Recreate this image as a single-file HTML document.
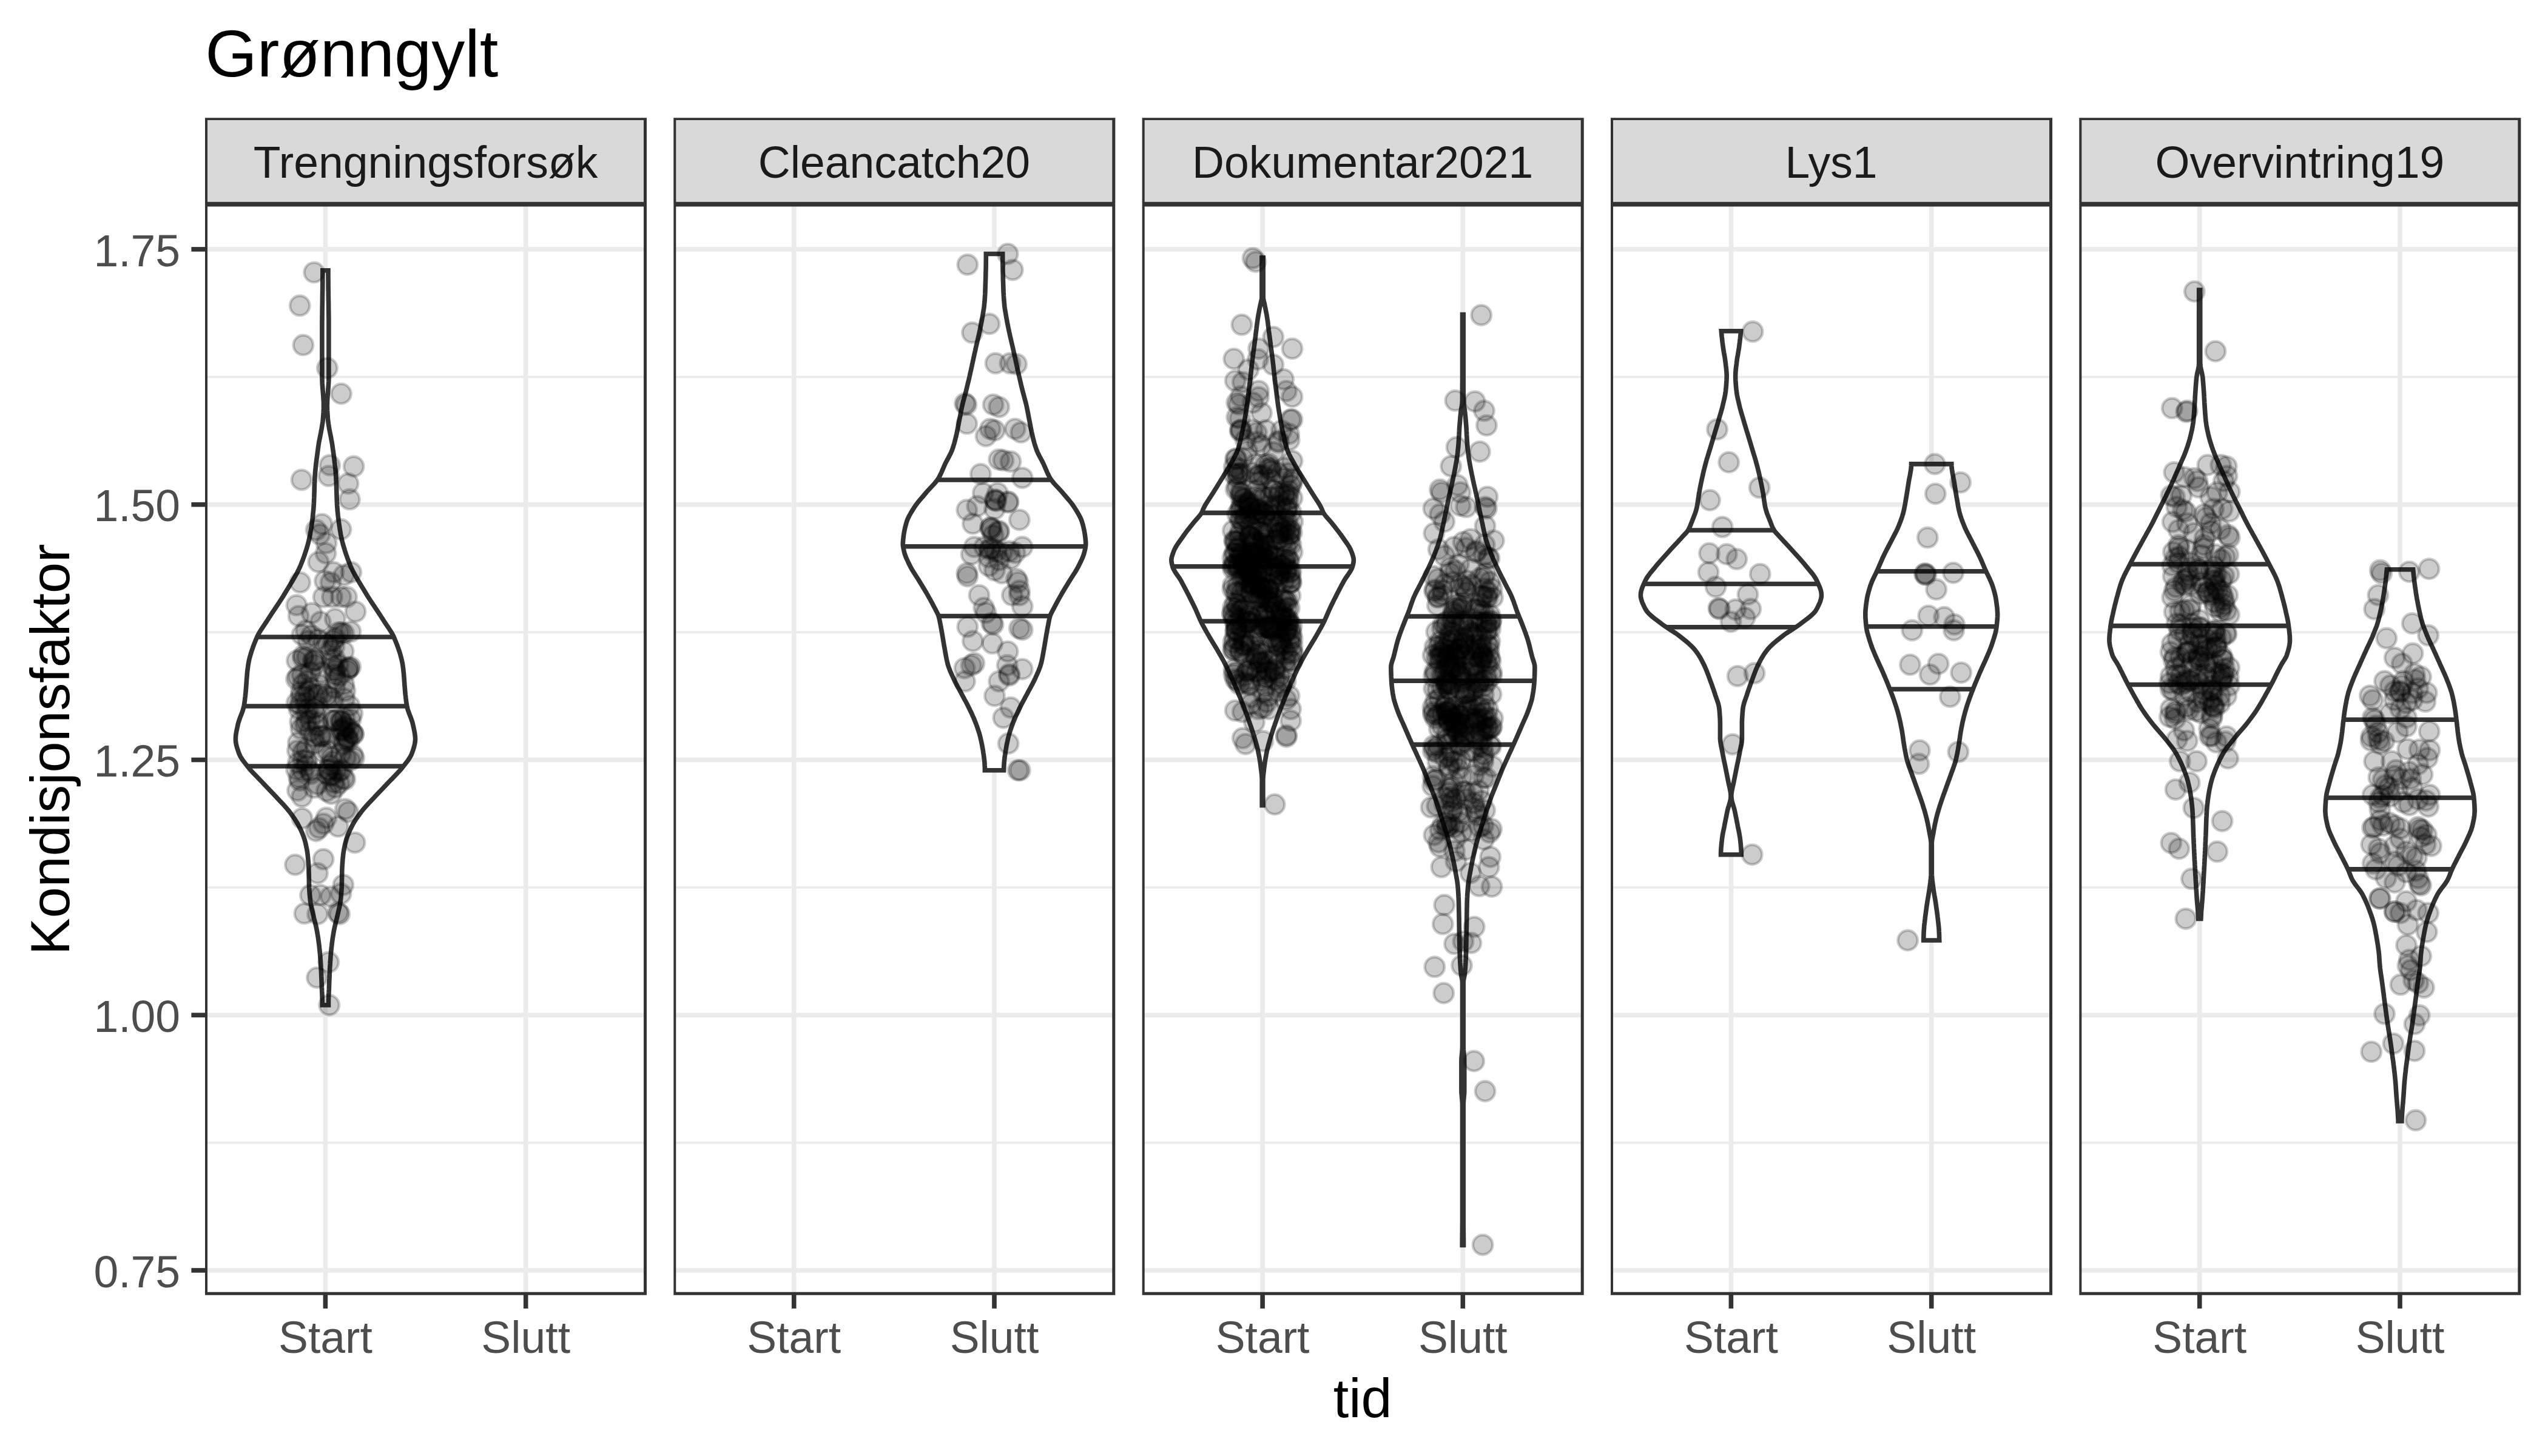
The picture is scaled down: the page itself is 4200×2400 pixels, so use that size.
<!DOCTYPE html>
<html lang="no"><head><meta charset="utf-8"><title>Grønngylt</title>
<style>html,body{margin:0;padding:0;background:#fff}svg{display:block}.t{font-family:"Liberation Sans",sans-serif}</style>
</head><body>
<svg width="4200" height="2400" viewBox="0 0 4200 2400">
<rect width="4200" height="2400" fill="#fff"/>
<text x="338.3" y="125.8" class="t" font-size="110" fill="#000">Grønngylt</text>
<defs>
<clipPath id="c0"><rect x="338.3" y="336.7" width="726.5" height="1797.3"/></clipPath>
<clipPath id="c1"><rect x="1110.6" y="336.7" width="726.5" height="1797.3"/></clipPath>
<clipPath id="c2"><rect x="1883" y="336.7" width="726.5" height="1797.3"/></clipPath>
<clipPath id="c3"><rect x="2655.3" y="336.7" width="726.5" height="1797.3"/></clipPath>
<clipPath id="c4"><rect x="3427.6" y="336.7" width="726.5" height="1797.3"/></clipPath>
</defs>
<g clip-path="url(#c0)">
<path d="M338.3 621.3H1064.8M338.3 1042.1H1064.8M338.3 1462.8H1064.8M338.3 1883.6H1064.8" stroke="#ebebeb" stroke-width="3.8" fill="none"/>
<path d="M338.3 410.9H1064.8M338.3 831.7H1064.8M338.3 1252.5H1064.8M338.3 1673.2H1064.8M338.3 2094H1064.8M536.4 336.7V2134M866.7 336.7V2134" stroke="#ebebeb" stroke-width="7.6" fill="none"/>
<path d="M531.8 445.7L531.8 448.7L531.8 451.7L531.8 454.7L531.8 457.7L531.8 460.7L531.8 463.7L531.8 466.7L531.7 469.7L531.7 472.7L531.7 475.7L531.6 478.7L531.6 481.7L531.5 484.7L531.5 487.7L531.4 490.7L531.4 493.7L531.4 496.7L531.3 499.7L531.3 502.7L531.2 505.7L531.2 508.7L531.1 511.7L531.1 514.7L531.1 517.7L531 520.7L531 523.7L531 526.7L530.9 529.7L530.9 532.7L530.9 535.7L530.9 538.7L530.9 541.7L530.9 544.7L530.9 547.7L530.9 550.7L530.9 553.7L530.9 556.7L530.9 559.7L530.9 562.7L530.9 565.7L530.9 568.7L530.9 571.7L530.9 574.7L530.9 577.7L530.9 580.7L530.9 583.7L530.9 586.7L530.9 589.7L530.9 592.7L530.9 595.7L530.9 598.7L530.9 601.7L530.9 604.7L530.9 607.7L530.9 610.7L530.9 613.7L530.9 616.7L530.9 619.7L530.9 622.7L531 625.7L531.1 628.7L531.2 631.7L531.4 634.7L531.6 637.7L531.8 640.7L532.1 643.7L532.3 646.7L532.6 649.7L532.8 652.7L533 655.7L533.2 658.7L533.4 661.7L533.5 664.7L533.5 667.7L533.5 670.7L533.5 673.7L533.3 676.7L533.2 679.7L533 682.7L532.8 685.7L532.6 688.7L532.3 691.7L532 694.7L531.6 697.7L531.1 700.7L530.6 703.7L530.1 706.7L529.5 709.7L529 712.7L528.4 715.7L527.8 718.7L527.2 721.7L526.6 724.7L526 727.7L525.5 730.7L525 733.7L524.6 736.7L524.2 739.7L523.8 742.7L523.4 745.7L523 748.7L522.6 751.7L522.2 754.7L521.8 757.7L521.4 760.7L521 763.7L520.7 766.7L520.4 769.7L520.1 772.7L519.8 775.7L519.5 778.7L519.3 781.7L519.1 784.7L518.9 787.7L518.8 790.7L518.7 793.7L518.5 796.7L518.4 799.7L518.3 802.7L518.2 805.7L518.2 808.7L518.1 811.7L518 814.7L517.9 817.7L517.8 820.7L517.6 823.7L517.5 826.7L517.4 829.7L517.2 832.7L517 835.7L516.8 838.7L516.5 841.7L516.2 844.7L515.9 847.7L515.6 850.7L515.3 853.7L514.9 856.7L514.5 859.7L514.1 862.7L513.6 865.7L513.2 868.7L512.7 871.7L512.2 874.7L511.7 877.7L511.2 880.7L510.6 883.7L510 886.7L509.3 889.7L508.6 892.7L507.9 895.7L507 898.7L506.2 901.7L505.3 904.7L504.3 907.7L503.3 910.7L502.3 913.7L501.3 916.7L500.2 919.7L499.1 922.7L498 925.7L496.8 928.7L495.6 931.7L494.3 934.7L492.9 937.7L491.4 940.7L489.9 943.7L488.3 946.7L486.6 949.7L484.9 952.7L483.1 955.7L481.3 958.7L479.5 961.7L477.7 964.7L475.9 967.7L474.1 970.7L472.2 973.7L470.4 976.7L468.6 979.7L466.8 982.7L464.9 985.7L463 988.7L461 991.7L459.1 994.7L457.1 997.7L455.1 1000.7L453.1 1003.7L451.1 1006.7L449 1009.7L447 1012.7L445.1 1015.7L443.1 1018.7L441.2 1021.7L439.3 1024.7L437.3 1027.7L435.3 1030.7L433.3 1033.7L431.3 1036.7L429.3 1039.7L427.5 1042.7L425.8 1045.7L424.3 1048.7L423 1051.7L421.7 1054.7L420.5 1057.7L419.3 1060.7L418.1 1063.7L417 1066.7L416 1069.7L414.9 1072.7L414 1075.7L413.1 1078.7L412.2 1081.7L411.4 1084.7L410.7 1087.7L410 1090.7L409.5 1093.7L409 1096.7L408.6 1099.7L408.2 1102.7L407.8 1105.7L407.5 1108.7L407.3 1111.7L407 1114.7L406.8 1117.7L406.5 1120.7L406.3 1123.7L406.1 1126.7L405.9 1129.7L405.7 1132.7L405.4 1135.7L405.2 1138.7L404.9 1141.7L404.6 1144.7L404.3 1147.7L403.9 1150.7L403.6 1153.7L403.2 1156.7L402.8 1159.7L402.3 1162.7L401.7 1165.7L400.9 1168.7L400 1171.7L398.9 1174.7L397.8 1177.7L396.6 1180.7L395.4 1183.7L394.4 1186.7L393.4 1189.7L392.5 1192.7L391.9 1195.7L391.2 1198.7L390.6 1201.7L389.9 1204.7L389.4 1207.7L388.9 1210.7L388.6 1213.7L388.4 1216.7L388.4 1219.7L388.6 1222.7L389.1 1225.7L389.7 1228.7L390.5 1231.7L391.5 1234.7L392.5 1237.7L393.5 1240.7L394.7 1243.7L396.1 1246.7L397.9 1249.7L399.9 1252.7L402.2 1255.7L404.5 1258.7L406.8 1261.7L409.2 1264.7L411.6 1267.7L414.3 1270.7L417 1273.7L419.9 1276.7L422.8 1279.7L425.7 1282.7L428.6 1285.7L431.5 1288.7L434.3 1291.7L437.1 1294.7L440 1297.7L442.9 1300.7L445.7 1303.7L448.6 1306.7L451.5 1309.7L454.3 1312.7L457.1 1315.7L459.9 1318.7L462.7 1321.7L465.6 1324.7L468.4 1327.7L471.1 1330.7L473.7 1333.7L476.2 1336.7L478.5 1339.7L480.7 1342.7L482.8 1345.7L484.9 1348.7L486.9 1351.7L488.8 1354.7L490.6 1357.7L492.2 1360.7L493.7 1363.7L495.2 1366.7L496.6 1369.7L497.9 1372.7L499.1 1375.7L500.3 1378.7L501.3 1381.7L502.3 1384.7L503.1 1387.7L503.8 1390.7L504.5 1393.7L505.1 1396.7L505.7 1399.7L506.3 1402.7L506.7 1405.7L507.1 1408.7L507.4 1411.7L507.7 1414.7L508 1417.7L508.2 1420.7L508.5 1423.7L508.7 1426.7L508.8 1429.7L508.9 1432.7L509 1435.7L509.1 1438.7L509.2 1441.7L509.2 1444.7L509.3 1447.7L509.3 1450.7L509.4 1453.7L509.4 1456.7L509.5 1459.7L509.6 1462.7L509.8 1465.7L510 1468.7L510.2 1471.7L510.4 1474.7L510.7 1477.7L511 1480.7L511.3 1483.7L511.7 1486.7L512.2 1489.7L512.8 1492.7L513.5 1495.7L514.1 1498.7L514.8 1501.7L515.5 1504.7L516.2 1507.7L516.9 1510.7L517.6 1513.7L518.4 1516.7L519.2 1519.7L519.9 1522.7L520.7 1525.7L521.3 1528.7L521.9 1531.7L522.5 1534.7L523 1537.7L523.5 1540.7L524 1543.7L524.5 1546.7L524.9 1549.7L525.3 1552.7L525.7 1555.7L526.1 1558.7L526.4 1561.7L526.7 1564.7L527 1567.7L527.3 1570.7L527.6 1573.7L527.8 1576.7L528.1 1579.7L528.3 1582.7L528.5 1585.7L528.7 1588.7L528.9 1591.7L529 1594.7L529.2 1597.7L529.3 1600.7L529.5 1603.7L529.6 1606.7L529.7 1609.7L529.9 1612.7L530 1615.7L530.1 1618.7L530.2 1621.7L530.3 1624.7L530.4 1627.7L530.6 1630.7L530.7 1633.7L530.9 1636.7L531 1639.7L531.1 1642.7L531.2 1645.7L531.3 1648.7L531.4 1651.7L531.4 1654.7L531.4 1656.7L541.5 1656.7L541.5 1654.7L541.5 1651.7L541.5 1648.7L541.6 1645.7L541.7 1642.7L541.8 1639.7L542 1636.7L542.1 1633.7L542.3 1630.7L542.4 1627.7L542.5 1624.7L542.6 1621.7L542.7 1618.7L542.8 1615.7L543 1612.7L543.1 1609.7L543.2 1606.7L543.3 1603.7L543.5 1600.7L543.6 1597.7L543.8 1594.7L544 1591.7L544.2 1588.7L544.3 1585.7L544.6 1582.7L544.8 1579.7L545 1576.7L545.2 1573.7L545.5 1570.7L545.8 1567.7L546.1 1564.7L546.4 1561.7L546.8 1558.7L547.1 1555.7L547.5 1552.7L547.9 1549.7L548.3 1546.7L548.8 1543.7L549.3 1540.7L549.8 1537.7L550.3 1534.7L550.9 1531.7L551.5 1528.7L552.2 1525.7L552.9 1522.7L553.6 1519.7L554.4 1516.7L555.2 1513.7L555.9 1510.7L556.6 1507.7L557.3 1504.7L558 1501.7L558.7 1498.7L559.4 1495.7L560 1492.7L560.6 1489.7L561.1 1486.7L561.5 1483.7L561.9 1480.7L562.1 1477.7L562.4 1474.7L562.6 1471.7L562.9 1468.7L563 1465.7L563.2 1462.7L563.3 1459.7L563.4 1456.7L563.5 1453.7L563.5 1450.7L563.6 1447.7L563.6 1444.7L563.7 1441.7L563.7 1438.7L563.8 1435.7L563.9 1432.7L564 1429.7L564.2 1426.7L564.4 1423.7L564.6 1420.7L564.8 1417.7L565.1 1414.7L565.4 1411.7L565.7 1408.7L566.1 1405.7L566.6 1402.7L567.1 1399.7L567.7 1396.7L568.3 1393.7L569 1390.7L569.8 1387.7L570.6 1384.7L571.5 1381.7L572.5 1378.7L573.7 1375.7L574.9 1372.7L576.3 1369.7L577.6 1366.7L579.1 1363.7L580.6 1360.7L582.2 1357.7L584 1354.7L585.9 1351.7L587.9 1348.7L590 1345.7L592.2 1342.7L594.4 1339.7L596.7 1336.7L599.1 1333.7L601.7 1330.7L604.5 1327.7L607.2 1324.7L610.1 1321.7L612.9 1318.7L615.8 1315.7L618.5 1312.7L621.4 1309.7L624.2 1306.7L627.1 1303.7L630 1300.7L632.8 1297.7L635.7 1294.7L638.5 1291.7L641.4 1288.7L644.2 1285.7L647.2 1282.7L650.1 1279.7L653 1276.7L655.8 1273.7L658.6 1270.7L661.2 1267.7L663.7 1264.7L666 1261.7L668.4 1258.7L670.7 1255.7L672.9 1252.7L674.9 1249.7L676.7 1246.7L678.2 1243.7L679.3 1240.7L680.4 1237.7L681.4 1234.7L682.3 1231.7L683.1 1228.7L683.7 1225.7L684.2 1222.7L684.5 1219.7L684.5 1216.7L684.3 1213.7L683.9 1210.7L683.5 1207.7L682.9 1204.7L682.3 1201.7L681.6 1198.7L681 1195.7L680.3 1192.7L679.5 1189.7L678.5 1186.7L677.4 1183.7L676.2 1180.7L675.1 1177.7L673.9 1174.7L672.9 1171.7L671.9 1168.7L671.2 1165.7L670.6 1162.7L670.1 1159.7L669.6 1156.7L669.3 1153.7L668.9 1150.7L668.6 1147.7L668.2 1144.7L667.9 1141.7L667.7 1138.7L667.4 1135.7L667.2 1132.7L666.9 1129.7L666.7 1126.7L666.5 1123.7L666.3 1120.7L666.1 1117.7L665.8 1114.7L665.6 1111.7L665.3 1108.7L665 1105.7L664.7 1102.7L664.3 1099.7L663.9 1096.7L663.4 1093.7L662.8 1090.7L662.1 1087.7L661.4 1084.7L660.6 1081.7L659.8 1078.7L658.9 1075.7L657.9 1072.7L656.9 1069.7L655.8 1066.7L654.7 1063.7L653.5 1060.7L652.4 1057.7L651.1 1054.7L649.9 1051.7L648.6 1048.7L647.1 1045.7L645.4 1042.7L643.5 1039.7L641.6 1036.7L639.6 1033.7L637.5 1030.7L635.5 1027.7L633.6 1024.7L631.7 1021.7L629.7 1018.7L627.8 1015.7L625.8 1012.7L623.8 1009.7L621.8 1006.7L619.8 1003.7L617.8 1000.7L615.8 997.7L613.8 994.7L611.8 991.7L609.9 988.7L607.9 985.7L606 982.7L604.2 979.7L602.4 976.7L600.6 973.7L598.8 970.7L596.9 967.7L595.1 964.7L593.3 961.7L591.5 958.7L589.7 955.7L587.9 952.7L586.2 949.7L584.6 946.7L583 943.7L581.4 940.7L579.9 937.7L578.5 934.7L577.2 931.7L576 928.7L574.9 925.7L573.7 922.7L572.6 919.7L571.6 916.7L570.5 913.7L569.5 910.7L568.5 907.7L567.6 904.7L566.7 901.7L565.8 898.7L565 895.7L564.2 892.7L563.5 889.7L562.8 886.7L562.2 883.7L561.6 880.7L561.1 877.7L560.6 874.7L560.1 871.7L559.7 868.7L559.2 865.7L558.8 862.7L558.3 859.7L558 856.7L557.6 853.7L557.2 850.7L556.9 847.7L556.6 844.7L556.3 841.7L556.1 838.7L555.8 835.7L555.6 832.7L555.5 829.7L555.3 826.7L555.2 823.7L555.1 820.7L555 817.7L554.9 814.7L554.8 811.7L554.7 808.7L554.6 805.7L554.5 802.7L554.4 799.7L554.3 796.7L554.2 793.7L554 790.7L553.9 787.7L553.7 784.7L553.5 781.7L553.3 778.7L553.1 775.7L552.8 772.7L552.5 769.7L552.1 766.7L551.8 763.7L551.4 760.7L551.1 757.7L550.7 754.7L550.3 751.7L549.9 748.7L549.5 745.7L549 742.7L548.6 739.7L548.2 736.7L547.8 733.7L547.3 730.7L546.8 727.7L546.2 724.7L545.7 721.7L545.1 718.7L544.5 715.7L543.9 712.7L543.3 709.7L542.7 706.7L542.2 703.7L541.7 700.7L541.3 697.7L540.9 694.7L540.5 691.7L540.3 688.7L540.1 685.7L539.9 682.7L539.7 679.7L539.5 676.7L539.4 673.7L539.3 670.7L539.3 667.7L539.4 664.7L539.5 661.7L539.6 658.7L539.8 655.7L540 652.7L540.3 649.7L540.5 646.7L540.7 643.7L541 640.7L541.2 637.7L541.4 634.7L541.6 631.7L541.8 628.7L541.9 625.7L541.9 622.7L541.9 619.7L541.9 616.7L541.9 613.7L541.9 610.7L541.9 607.7L541.9 604.7L541.9 601.7L541.9 598.7L541.9 595.7L541.9 592.7L541.9 589.7L541.9 586.7L541.9 583.7L541.9 580.7L541.9 577.7L541.9 574.7L541.9 571.7L541.9 568.7L541.9 565.7L541.9 562.7L541.9 559.7L541.9 556.7L541.9 553.7L541.9 550.7L541.9 547.7L541.9 544.7L541.9 541.7L541.9 538.7L541.9 535.7L541.9 532.7L541.9 529.7L541.9 526.7L541.8 523.7L541.8 520.7L541.8 517.7L541.7 514.7L541.7 511.7L541.6 508.7L541.6 505.7L541.6 502.7L541.5 499.7L541.5 496.7L541.4 493.7L541.4 490.7L541.3 487.7L541.3 484.7L541.3 481.7L541.2 478.7L541.2 475.7L541.1 472.7L541.1 469.7L541.1 466.7L541.1 463.7L541 460.7L541 457.7L541 454.7L541 451.7L541 448.7L541 445.7Z" fill="#fff" stroke="#333" stroke-width="7.6" stroke-linejoin="miter"/>
<path d="M423.7 1050H649.2M402 1164H670.8M407.8 1263H665" stroke="#333" stroke-width="7.6" fill="none"/>
<g fill="#000" fill-opacity=".2" stroke="#000" stroke-opacity=".2" stroke-width="4.6">
<circle cx="517.7" cy="449" r="16.2"/><circle cx="494.2" cy="503.8" r="16.2"/><circle cx="499.9" cy="568.8" r="16.2"/><circle cx="539.4" cy="606.7" r="16.2"/><circle cx="562.4" cy="649" r="16.2"/><circle cx="543.7" cy="766.8" r="16.2"/><circle cx="583.1" cy="768.8" r="16.2"/><circle cx="497.1" cy="790.9" r="16.2"/><circle cx="541.8" cy="784.6" r="16.2"/><circle cx="574" cy="797.1" r="16.2"/><circle cx="576.4" cy="823.1" r="16.2"/><circle cx="530.7" cy="863.9" r="16.2"/><circle cx="521.1" cy="873.6" r="16.2"/><circle cx="562" cy="872.6" r="16.2"/><circle cx="527.3" cy="880.8" r="16.2"/><circle cx="537.9" cy="895.2" r="16.2"/><circle cx="537" cy="912" r="16.2"/><circle cx="524.9" cy="926.4" r="16.2"/><circle cx="549.9" cy="943.3" r="16.2"/><circle cx="578.8" cy="943.3" r="16.2"/><circle cx="566.8" cy="948.1" r="16.2"/><circle cx="494.7" cy="960.1" r="16.2"/><circle cx="535.5" cy="957.7" r="16.2"/><circle cx="545.1" cy="960.1" r="16.2"/><circle cx="533.1" cy="984.1" r="16.2"/><circle cx="547.5" cy="984.1" r="16.2"/><circle cx="562" cy="984.1" r="16.2"/><circle cx="571.6" cy="984.1" r="16.2"/><circle cx="488.9" cy="997.6" r="16.2"/><circle cx="492.2" cy="1015.4" r="16.2"/><circle cx="513.9" cy="1010.6" r="16.2"/><circle cx="586" cy="1008.2" r="16.2"/><circle cx="528.3" cy="1025" r="16.2"/><circle cx="552.3" cy="1020.2" r="16.2"/><circle cx="504.3" cy="1039.4" r="16.2"/><circle cx="566.8" cy="1044.2" r="16.2"/><circle cx="498" cy="1349" r="16.2"/><circle cx="537.9" cy="1348.1" r="16.2"/><circle cx="569.2" cy="1333.7" r="16.2"/><circle cx="574" cy="1338.5" r="16.2"/><circle cx="525.9" cy="1364.9" r="16.2"/><circle cx="533.1" cy="1357.7" r="16.2"/><circle cx="521.1" cy="1369.7" r="16.2"/><circle cx="557.2" cy="1362.5" r="16.2"/><circle cx="585" cy="1388.9" r="16.2"/><circle cx="533.1" cy="1416.3" r="16.2"/><circle cx="486.5" cy="1425.5" r="16.2"/><circle cx="523.5" cy="1439.4" r="16.2"/><circle cx="565.8" cy="1458.7" r="16.2"/><circle cx="511.5" cy="1475.5" r="16.2"/><circle cx="528.3" cy="1475.5" r="16.2"/><circle cx="545.1" cy="1477.9" r="16.2"/><circle cx="562" cy="1473.1" r="16.2"/><circle cx="501.9" cy="1505.8" r="16.2"/><circle cx="523.5" cy="1506.7" r="16.2"/><circle cx="557.2" cy="1504.3" r="16.2"/><circle cx="559.6" cy="1506.7" r="16.2"/><circle cx="541.8" cy="1586.1" r="16.2"/><circle cx="522.5" cy="1611.5" r="16.2"/><circle cx="542.7" cy="1656.7" r="16.2"/><circle cx="529.4" cy="1213.4" r="16.2"/><circle cx="538.4" cy="1275.7" r="16.2"/><circle cx="581.5" cy="1244.7" r="16.2"/><circle cx="511.5" cy="1107.9" r="16.2"/><circle cx="567" cy="1128" r="16.2"/><circle cx="554.1" cy="1269.1" r="16.2"/><circle cx="558.1" cy="1042.4" r="16.2"/><circle cx="549.4" cy="1255.4" r="16.2"/><circle cx="583.6" cy="1249.6" r="16.2"/><circle cx="519.7" cy="1175.9" r="16.2"/><circle cx="526.2" cy="1128.7" r="16.2"/><circle cx="506.7" cy="1122.1" r="16.2"/><circle cx="491.5" cy="1115.9" r="16.2"/><circle cx="507.7" cy="1168.9" r="16.2"/><circle cx="578" cy="1185.9" r="16.2"/><circle cx="570.4" cy="1197.7" r="16.2"/><circle cx="497.7" cy="1313.2" r="16.2"/><circle cx="546.8" cy="1248.5" r="16.2"/><circle cx="534.3" cy="1212.8" r="16.2"/><circle cx="545.9" cy="1308.5" r="16.2"/><circle cx="552.3" cy="1105.3" r="16.2"/><circle cx="517.1" cy="1090.5" r="16.2"/><circle cx="582.6" cy="1210.7" r="16.2"/><circle cx="533" cy="1058.5" r="16.2"/><circle cx="549.2" cy="1055.7" r="16.2"/><circle cx="549.9" cy="1188.5" r="16.2"/><circle cx="504.8" cy="1175.4" r="16.2"/><circle cx="492.6" cy="1281.6" r="16.2"/><circle cx="527.6" cy="1214.3" r="16.2"/><circle cx="562.8" cy="1188.3" r="16.2"/><circle cx="567.9" cy="1183.9" r="16.2"/><circle cx="559.4" cy="1113.9" r="16.2"/><circle cx="497.7" cy="1046.4" r="16.2"/><circle cx="577.8" cy="1099.2" r="16.2"/><circle cx="566.6" cy="1227.2" r="16.2"/><circle cx="574.2" cy="1101.3" r="16.2"/><circle cx="538.7" cy="1146.6" r="16.2"/><circle cx="578" cy="1041.2" r="16.2"/><circle cx="491.1" cy="1257.6" r="16.2"/><circle cx="489.4" cy="1089" r="16.2"/><circle cx="488.4" cy="1119.3" r="16.2"/><circle cx="511.7" cy="1271" r="16.2"/><circle cx="511.3" cy="1187.2" r="16.2"/><circle cx="505.2" cy="1262" r="16.2"/><circle cx="543.1" cy="1216.5" r="16.2"/><circle cx="490.3" cy="1237.3" r="16.2"/><circle cx="545.5" cy="1072.2" r="16.2"/><circle cx="503" cy="1194.9" r="16.2"/><circle cx="554.2" cy="1186.7" r="16.2"/><circle cx="488.5" cy="1268.5" r="16.2"/><circle cx="517.5" cy="1144.4" r="16.2"/><circle cx="580.3" cy="1207.6" r="16.2"/><circle cx="540.3" cy="1063.2" r="16.2"/><circle cx="567.6" cy="1151.7" r="16.2"/><circle cx="552.2" cy="1134.1" r="16.2"/><circle cx="547.5" cy="1087.9" r="16.2"/><circle cx="505.5" cy="1254.2" r="16.2"/><circle cx="543.9" cy="1149.4" r="16.2"/><circle cx="490.4" cy="1303.1" r="16.2"/><circle cx="566.6" cy="1205.8" r="16.2"/><circle cx="582.4" cy="1209.1" r="16.2"/><circle cx="571.8" cy="1216.1" r="16.2"/><circle cx="491.5" cy="1224" r="16.2"/><circle cx="520.3" cy="1088" r="16.2"/><circle cx="518.2" cy="1167.4" r="16.2"/><circle cx="497.7" cy="1111.8" r="16.2"/><circle cx="549.1" cy="1156" r="16.2"/><circle cx="566.2" cy="1073.6" r="16.2"/><circle cx="517.8" cy="1298.3" r="16.2"/><circle cx="572.7" cy="1105.2" r="16.2"/><circle cx="566.1" cy="1223.1" r="16.2"/><circle cx="499.3" cy="1128" r="16.2"/><circle cx="563.1" cy="1269.2" r="16.2"/><circle cx="574.7" cy="1221.1" r="16.2"/><circle cx="506.1" cy="1082.9" r="16.2"/><circle cx="543.8" cy="1261.4" r="16.2"/><circle cx="550.3" cy="1290.1" r="16.2"/><circle cx="547.3" cy="1277.7" r="16.2"/><circle cx="496" cy="1201.4" r="16.2"/><circle cx="552.5" cy="1086.6" r="16.2"/><circle cx="549.6" cy="1099.2" r="16.2"/><circle cx="568.8" cy="1284.8" r="16.2"/><circle cx="566.8" cy="1197.5" r="16.2"/><circle cx="519.1" cy="1096" r="16.2"/><circle cx="558.6" cy="1272" r="16.2"/><circle cx="573.1" cy="1216.8" r="16.2"/><circle cx="575.7" cy="1201.4" r="16.2"/><circle cx="502.6" cy="1148.5" r="16.2"/><circle cx="489.1" cy="1158.5" r="16.2"/><circle cx="551.5" cy="1111.7" r="16.2"/><circle cx="507.9" cy="1056.5" r="16.2"/><circle cx="542.8" cy="1269.8" r="16.2"/><circle cx="580.9" cy="1175.8" r="16.2"/><circle cx="524.3" cy="1196.4" r="16.2"/><circle cx="511.7" cy="1133.8" r="16.2"/><circle cx="532.1" cy="1239.3" r="16.2"/><circle cx="552.1" cy="1051.9" r="16.2"/><circle cx="496.5" cy="1147.4" r="16.2"/><circle cx="524.5" cy="1053.8" r="16.2"/><circle cx="499.8" cy="1080.6" r="16.2"/><circle cx="552.7" cy="1298" r="16.2"/><circle cx="569.5" cy="1220.2" r="16.2"/><circle cx="524.1" cy="1163.7" r="16.2"/><circle cx="523.6" cy="1190.7" r="16.2"/><circle cx="540.4" cy="1268.9" r="16.2"/><circle cx="507.9" cy="1139.7" r="16.2"/><circle cx="511.2" cy="1205.9" r="16.2"/><circle cx="519.4" cy="1225.5" r="16.2"/><circle cx="532.2" cy="1142.8" r="16.2"/><circle cx="494.6" cy="1189.6" r="16.2"/><circle cx="561.7" cy="1242.3" r="16.2"/><circle cx="544.3" cy="1279.2" r="16.2"/><circle cx="516.4" cy="1088.1" r="16.2"/><circle cx="494.2" cy="1286.5" r="16.2"/><circle cx="562.7" cy="1042.4" r="16.2"/><circle cx="499.5" cy="1239.7" r="16.2"/><circle cx="499.7" cy="1252.8" r="16.2"/><circle cx="499.5" cy="1084.3" r="16.2"/><circle cx="494.5" cy="1160.9" r="16.2"/><circle cx="577.1" cy="1253.9" r="16.2"/><circle cx="513.3" cy="1047.5" r="16.2"/><circle cx="517.1" cy="1214.1" r="16.2"/><circle cx="569.7" cy="1248.6" r="16.2"/><circle cx="548.4" cy="1188" r="16.2"/><circle cx="505.1" cy="1234" r="16.2"/><circle cx="529.9" cy="1108.2" r="16.2"/><circle cx="574.8" cy="1100.8" r="16.2"/><circle cx="524" cy="1144.9" r="16.2"/><circle cx="557.5" cy="1095.7" r="16.2"/><circle cx="496.1" cy="1140.2" r="16.2"/><circle cx="559.1" cy="1291.1" r="16.2"/><circle cx="564.1" cy="1202.2" r="16.2"/><circle cx="569" cy="1138.6" r="16.2"/><circle cx="553.8" cy="1120.3" r="16.2"/><circle cx="523.5" cy="1292.5" r="16.2"/><circle cx="492.8" cy="1168.7" r="16.2"/><circle cx="538.3" cy="1303.9" r="16.2"/><circle cx="562.2" cy="1188.7" r="16.2"/><circle cx="505.5" cy="1190.1" r="16.2"/><circle cx="513" cy="1275.5" r="16.2"/><circle cx="540" cy="1237.5" r="16.2"/><circle cx="561.2" cy="1203.8" r="16.2"/><circle cx="576.1" cy="1163.2" r="16.2"/><circle cx="499" cy="1270.4" r="16.2"/><circle cx="504.8" cy="1158.7" r="16.2"/><circle cx="566.4" cy="1283.2" r="16.2"/><circle cx="550.9" cy="1066" r="16.2"/>
</g>
</g>
<rect x="338" y="194.3" width="728" height="138.5" fill="#d9d9d9"/>
<path d="M338 194.3H1066V2134.8H338ZM342 198.1V332.8H1061V198.1ZM342 340.6V2129.8H1061V340.6Z" fill="#333" fill-rule="evenodd"/>
<text x="701.5" y="292.5" text-anchor="middle" class="t" font-size="73.3" fill="#1a1a1a">Trengningsforsøk</text>
<path d="M536.4 2134v22.9" stroke="#333" stroke-width="7.6"/>
<text x="536.4" y="2229.8" text-anchor="middle" class="t" font-size="73.3" fill="#4d4d4d">Start</text>
<path d="M866.7 2134v22.9" stroke="#333" stroke-width="7.6"/>
<text x="866.7" y="2229.8" text-anchor="middle" class="t" font-size="73.3" fill="#4d4d4d">Slutt</text>
<g clip-path="url(#c1)">
<path d="M1110.6 621.3H1837.1M1110.6 1042.1H1837.1M1110.6 1462.8H1837.1M1110.6 1883.6H1837.1" stroke="#ebebeb" stroke-width="3.8" fill="none"/>
<path d="M1110.6 410.9H1837.1M1110.6 831.7H1837.1M1110.6 1252.5H1837.1M1110.6 1673.2H1837.1M1110.6 2094H1837.1M1308.7 336.7V2134M1639 336.7V2134" stroke="#ebebeb" stroke-width="7.6" fill="none"/>
<path d="M1625.3 418.5L1625.3 421.5L1625.3 424.5L1625.3 427.5L1625.2 430.5L1625.2 433.5L1625.2 436.5L1625.1 439.5L1625.1 442.5L1625 445.5L1624.9 448.5L1624.8 451.5L1624.8 454.5L1624.7 457.5L1624.6 460.5L1624.5 463.5L1624.4 466.5L1624.3 469.5L1624.2 472.5L1624.1 475.5L1624 478.5L1623.9 481.5L1623.8 484.5L1623.6 487.5L1623.4 490.5L1623.2 493.5L1623 496.5L1622.7 499.5L1622.4 502.5L1622.1 505.5L1621.7 508.5L1621.2 511.5L1620.7 514.5L1620.2 517.5L1619.7 520.5L1619.2 523.5L1618.7 526.5L1618.1 529.5L1617.5 532.5L1616.9 535.5L1616.3 538.5L1615.7 541.5L1615.1 544.5L1614.4 547.5L1613.8 550.5L1613.1 553.5L1612.4 556.5L1611.7 559.5L1611 562.5L1610.3 565.5L1609.6 568.5L1608.9 571.5L1608.2 574.5L1607.6 577.5L1606.9 580.5L1606.2 583.5L1605.6 586.5L1604.9 589.5L1604.3 592.5L1603.6 595.5L1603 598.5L1602.3 601.5L1601.7 604.5L1601 607.5L1600.4 610.5L1599.7 613.5L1599 616.5L1598.4 619.5L1597.7 622.5L1597 625.5L1596.3 628.5L1595.5 631.5L1594.8 634.5L1594.1 637.5L1593.4 640.5L1592.6 643.5L1591.9 646.5L1591.1 649.5L1590.3 652.5L1589.4 655.5L1588.6 658.5L1587.8 661.5L1587.1 664.5L1586.3 667.5L1585.7 670.5L1585 673.5L1584.4 676.5L1583.8 679.5L1583.3 682.5L1582.7 685.5L1582.1 688.5L1581.5 691.5L1580.9 694.5L1580.3 697.5L1579.8 700.5L1579.2 703.5L1578.6 706.5L1578 709.5L1577.4 712.5L1576.8 715.5L1576.1 718.5L1575.3 721.5L1574.6 724.5L1573.8 727.5L1573 730.5L1572.1 733.5L1571.2 736.5L1570.2 739.5L1569.1 742.5L1567.8 745.5L1566.4 748.5L1564.8 751.5L1563.3 754.5L1561.7 757.5L1560.1 760.5L1558.5 763.5L1557.1 766.5L1555.8 769.5L1554.5 772.5L1553.2 775.5L1551.9 778.5L1550.5 781.5L1549 784.5L1547.4 787.5L1545.5 790.5L1543.3 793.5L1540.8 796.5L1538.1 799.5L1535.3 802.5L1532.5 805.5L1529.7 808.5L1527 811.5L1524.5 814.5L1522 817.5L1519.4 820.5L1516.8 823.5L1514.3 826.5L1511.9 829.5L1509.7 832.5L1507.6 835.5L1505.7 838.5L1503.8 841.5L1502 844.5L1500.3 847.5L1498.6 850.5L1497.1 853.5L1495.8 856.5L1494.7 859.5L1493.8 862.5L1493 865.5L1492.2 868.5L1491.5 871.5L1490.9 874.5L1490.3 877.5L1489.8 880.5L1489.4 883.5L1489.1 886.5L1488.7 889.5L1488.5 892.5L1488.3 895.5L1488.3 898.5L1488.7 901.5L1489.3 904.5L1489.9 907.5L1490.6 910.5L1491.5 913.5L1492.5 916.5L1493.7 919.5L1495.1 922.5L1496.5 925.5L1497.9 928.5L1499.4 931.5L1500.9 934.5L1502.5 937.5L1504.3 940.5L1506.2 943.5L1508.1 946.5L1510 949.5L1512 952.5L1513.9 955.5L1515.7 958.5L1517.5 961.5L1519.4 964.5L1521.2 967.5L1523 970.5L1524.8 973.5L1526.6 976.5L1528.3 979.5L1530 982.5L1531.7 985.5L1533.4 988.5L1535 991.5L1536.7 994.5L1538.2 997.5L1539.8 1000.5L1541.4 1003.5L1542.9 1006.5L1544.5 1009.5L1546 1012.5L1547.1 1015.5L1547.9 1018.5L1548.6 1021.5L1549.2 1024.5L1549.8 1027.5L1550.4 1030.5L1550.9 1033.5L1551.5 1036.5L1552 1039.5L1552.6 1042.5L1553.1 1045.5L1553.6 1048.5L1554.1 1051.5L1554.6 1054.5L1555.1 1057.5L1555.6 1060.5L1556.1 1063.5L1556.6 1066.5L1557.2 1069.5L1557.7 1072.5L1558.2 1075.5L1558.8 1078.5L1559.3 1081.5L1559.9 1084.5L1560.5 1087.5L1561.2 1090.5L1561.9 1093.5L1562.7 1096.5L1563.7 1099.5L1564.8 1102.5L1566 1105.5L1567.3 1108.5L1568.6 1111.5L1570 1114.5L1571.4 1117.5L1572.7 1120.5L1574.2 1123.5L1575.7 1126.5L1577.3 1129.5L1578.9 1132.5L1580.6 1135.5L1582.2 1138.5L1583.8 1141.5L1585.4 1144.5L1587 1147.5L1588.6 1150.5L1590.2 1153.5L1591.9 1156.5L1593.5 1159.5L1595 1162.5L1596.5 1165.5L1598 1168.5L1599.4 1171.5L1600.9 1174.5L1602.3 1177.5L1603.6 1180.5L1605 1183.5L1606.2 1186.5L1607.4 1189.5L1608.6 1192.5L1609.7 1195.5L1610.8 1198.5L1611.8 1201.5L1612.8 1204.5L1613.8 1207.5L1614.7 1210.5L1615.5 1213.5L1616.2 1216.5L1616.9 1219.5L1617.6 1222.5L1618.2 1225.5L1618.8 1228.5L1619.3 1231.5L1619.9 1234.5L1620.4 1237.5L1620.8 1240.5L1621.3 1243.5L1621.7 1246.5L1622.1 1249.5L1622.5 1252.5L1622.8 1255.5L1623 1258.5L1623.1 1261.5L1623.3 1264.5L1623.4 1267.5L1623.4 1269.7L1654.6 1269.7L1654.7 1267.5L1654.8 1264.5L1654.9 1261.5L1655.1 1258.5L1655.3 1255.5L1655.6 1252.5L1655.9 1249.5L1656.3 1246.5L1656.8 1243.5L1657.2 1240.5L1657.7 1237.5L1658.2 1234.5L1658.7 1231.5L1659.2 1228.5L1659.8 1225.5L1660.5 1222.5L1661.1 1219.5L1661.8 1216.5L1662.6 1213.5L1663.4 1210.5L1664.3 1207.5L1665.2 1204.5L1666.2 1201.5L1667.3 1198.5L1668.3 1195.5L1669.5 1192.5L1670.6 1189.5L1671.8 1186.5L1673.1 1183.5L1674.4 1180.5L1675.8 1177.5L1677.2 1174.5L1678.6 1171.5L1680 1168.5L1681.5 1165.5L1683 1162.5L1684.6 1159.5L1686.2 1156.5L1687.8 1153.5L1689.4 1150.5L1691 1147.5L1692.7 1144.5L1694.2 1141.5L1695.8 1138.5L1697.5 1135.5L1699.1 1132.5L1700.7 1129.5L1702.3 1126.5L1703.8 1123.5L1705.3 1120.5L1706.7 1117.5L1708 1114.5L1709.4 1111.5L1710.7 1108.5L1712 1105.5L1713.2 1102.5L1714.3 1099.5L1715.3 1096.5L1716.1 1093.5L1716.9 1090.5L1717.5 1087.5L1718.2 1084.5L1718.7 1081.5L1719.3 1078.5L1719.8 1075.5L1720.3 1072.5L1720.9 1069.5L1721.4 1066.5L1721.9 1063.5L1722.4 1060.5L1722.9 1057.5L1723.4 1054.5L1723.9 1051.5L1724.4 1048.5L1724.9 1045.5L1725.5 1042.5L1726 1039.5L1726.5 1036.5L1727.1 1033.5L1727.7 1030.5L1728.3 1027.5L1728.8 1024.5L1729.4 1021.5L1730.1 1018.5L1730.9 1015.5L1732 1012.5L1733.5 1009.5L1735.1 1006.5L1736.7 1003.5L1738.2 1000.5L1739.8 997.5L1741.4 994.5L1743 991.5L1744.6 988.5L1746.3 985.5L1748 982.5L1749.7 979.5L1751.4 976.5L1753.2 973.5L1755 970.5L1756.8 967.5L1758.7 964.5L1760.5 961.5L1762.3 958.5L1764.2 955.5L1766.1 952.5L1768 949.5L1769.9 946.5L1771.9 943.5L1773.7 940.5L1775.5 937.5L1777.1 934.5L1778.6 931.5L1780.1 928.5L1781.6 925.5L1783 922.5L1784.3 919.5L1785.5 916.5L1786.5 913.5L1787.4 910.5L1788.1 907.5L1788.8 904.5L1789.3 901.5L1789.7 898.5L1789.7 895.5L1789.6 892.5L1789.3 889.5L1789 886.5L1788.6 883.5L1788.2 880.5L1787.7 877.5L1787.2 874.5L1786.5 871.5L1785.8 868.5L1785.1 865.5L1784.2 862.5L1783.3 859.5L1782.2 856.5L1780.9 853.5L1779.4 850.5L1777.8 847.5L1776 844.5L1774.2 841.5L1772.3 838.5L1770.4 835.5L1768.3 832.5L1766.1 829.5L1763.7 826.5L1761.2 823.5L1758.6 820.5L1756.1 817.5L1753.5 814.5L1751 811.5L1748.3 808.5L1745.5 805.5L1742.7 802.5L1739.9 799.5L1737.2 796.5L1734.7 793.5L1732.5 790.5L1730.6 787.5L1729 784.5L1727.5 781.5L1726.1 778.5L1724.8 775.5L1723.5 772.5L1722.2 769.5L1720.9 766.5L1719.5 763.5L1718 760.5L1716.4 757.5L1714.8 754.5L1713.2 751.5L1711.7 748.5L1710.2 745.5L1709 742.5L1707.9 739.5L1706.9 736.5L1705.9 733.5L1705 730.5L1704.2 727.5L1703.4 724.5L1702.7 721.5L1702 718.5L1701.3 715.5L1700.6 712.5L1700 709.5L1699.4 706.5L1698.8 703.5L1698.2 700.5L1697.7 697.5L1697.1 694.5L1696.5 691.5L1695.9 688.5L1695.3 685.5L1694.8 682.5L1694.2 679.5L1693.6 676.5L1693 673.5L1692.4 670.5L1691.7 667.5L1691 664.5L1690.2 661.5L1689.4 658.5L1688.6 655.5L1687.8 652.5L1687 649.5L1686.2 646.5L1685.4 643.5L1684.7 640.5L1683.9 637.5L1683.2 634.5L1682.5 631.5L1681.8 628.5L1681.1 625.5L1680.4 622.5L1679.7 619.5L1679 616.5L1678.3 613.5L1677.7 610.5L1677 607.5L1676.4 604.5L1675.7 601.5L1675.1 598.5L1674.4 595.5L1673.7 592.5L1673.1 589.5L1672.4 586.5L1671.8 583.5L1671.1 580.5L1670.5 577.5L1669.8 574.5L1669.1 571.5L1668.4 568.5L1667.7 565.5L1667 562.5L1666.3 559.5L1665.6 556.5L1664.9 553.5L1664.3 550.5L1663.6 547.5L1663 544.5L1662.3 541.5L1661.7 538.5L1661.1 535.5L1660.5 532.5L1659.9 529.5L1659.4 526.5L1658.8 523.5L1658.3 520.5L1657.8 517.5L1657.3 514.5L1656.8 511.5L1656.3 508.5L1655.9 505.5L1655.6 502.5L1655.3 499.5L1655.1 496.5L1654.8 493.5L1654.6 490.5L1654.4 487.5L1654.3 484.5L1654.1 481.5L1654 478.5L1653.9 475.5L1653.8 472.5L1653.7 469.5L1653.6 466.5L1653.5 463.5L1653.4 460.5L1653.3 457.5L1653.3 454.5L1653.2 451.5L1653.1 448.5L1653 445.5L1653 442.5L1652.9 439.5L1652.9 436.5L1652.8 433.5L1652.8 430.5L1652.8 427.5L1652.7 424.5L1652.7 421.5L1652.7 418.5Z" fill="#fff" stroke="#333" stroke-width="7.6" stroke-linejoin="miter"/>
<path d="M1545.2 791H1732.9M1488.6 900.7H1789.4M1547.1 1015.5H1730.9" stroke="#333" stroke-width="7.6" fill="none"/>
<g fill="#000" fill-opacity=".2" stroke="#000" stroke-opacity=".2" stroke-width="4.6">
<circle cx="1661.2" cy="418.5" r="16.2"/><circle cx="1594.8" cy="436.2" r="16.2"/><circle cx="1669.3" cy="444.9" r="16.2"/><circle cx="1630.9" cy="533.8" r="16.2"/><circle cx="1602.5" cy="548.3" r="16.2"/><circle cx="1641" cy="598.8" r="16.2"/><circle cx="1665" cy="598.8" r="16.2"/><circle cx="1675.6" cy="600.2" r="16.2"/><circle cx="1590.5" cy="665.1" r="16.2"/><circle cx="1592.9" cy="667" r="16.2"/><circle cx="1637.1" cy="667" r="16.2"/><circle cx="1646.7" cy="670.9" r="16.2"/><circle cx="1593.8" cy="698.3" r="16.2"/><circle cx="1632.3" cy="706.9" r="16.2"/><circle cx="1625.1" cy="718.9" r="16.2"/><circle cx="1639.5" cy="709.3" r="16.2"/><circle cx="1673.2" cy="706.9" r="16.2"/><circle cx="1682.8" cy="712.7" r="16.2"/><circle cx="1646.7" cy="757.4" r="16.2"/><circle cx="1653.9" cy="758.8" r="16.2"/><circle cx="1666" cy="760.8" r="16.2"/><circle cx="1616.4" cy="781.4" r="16.2"/><circle cx="1685.2" cy="787.7" r="16.2"/><circle cx="1620.3" cy="812.7" r="16.2"/><circle cx="1644.3" cy="812.7" r="16.2"/><circle cx="1641" cy="824.7" r="16.2"/><circle cx="1661.2" cy="828.1" r="16.2"/><circle cx="1593.8" cy="840.6" r="16.2"/><circle cx="1610.7" cy="834.3" r="16.2"/><circle cx="1639.5" cy="839.1" r="16.2"/><circle cx="1603.5" cy="863.2" r="16.2"/><circle cx="1680.4" cy="856.9" r="16.2"/><circle cx="1632.3" cy="870.4" r="16.2"/><circle cx="1646.7" cy="875.2" r="16.2"/><circle cx="1637.1" cy="882.4" r="16.2"/><circle cx="1605.9" cy="901.6" r="16.2"/><circle cx="1601.1" cy="913.7" r="16.2"/><circle cx="1622.7" cy="901.6" r="16.2"/><circle cx="1632.3" cy="904" r="16.2"/><circle cx="1641.9" cy="908.8" r="16.2"/><circle cx="1651.5" cy="911.2" r="16.2"/><circle cx="1663.6" cy="908.8" r="16.2"/><circle cx="1673.2" cy="911.2" r="16.2"/><circle cx="1685.2" cy="901.6" r="16.2"/><circle cx="1629.9" cy="918.5" r="16.2"/><circle cx="1646.7" cy="923.3" r="16.2"/><circle cx="1666" cy="920.9" r="16.2"/><circle cx="1593.8" cy="944.9" r="16.2"/><circle cx="1629.9" cy="932.9" r="16.2"/><circle cx="1639.5" cy="940.1" r="16.2"/><circle cx="1651.5" cy="944.9" r="16.2"/><circle cx="1675.6" cy="954.5" r="16.2"/><circle cx="1680.4" cy="973.8" r="16.2"/><circle cx="1640" cy="823.3" r="16.2"/><circle cx="1641.9" cy="825.7" r="16.2"/><circle cx="1662.1" cy="827.1" r="16.2"/><circle cx="1633.3" cy="869.4" r="16.2"/><circle cx="1634.7" cy="872.3" r="16.2"/><circle cx="1645.8" cy="877.1" r="16.2"/><circle cx="1638.1" cy="905" r="16.2"/><circle cx="1631.3" cy="906.4" r="16.2"/><circle cx="1594.8" cy="950" r="16.2"/><circle cx="1678" cy="959.6" r="16.2"/><circle cx="1614" cy="981.2" r="16.2"/><circle cx="1668.4" cy="981.2" r="16.2"/><circle cx="1680.4" cy="981.2" r="16.2"/><circle cx="1685.2" cy="999.5" r="16.2"/><circle cx="1621.7" cy="1001.9" r="16.2"/><circle cx="1625.1" cy="1010.1" r="16.2"/><circle cx="1594.8" cy="1033.2" r="16.2"/><circle cx="1634.7" cy="1026.9" r="16.2"/><circle cx="1637.1" cy="1029.3" r="16.2"/><circle cx="1680.4" cy="1035.6" r="16.2"/><circle cx="1685.2" cy="1038" r="16.2"/><circle cx="1603.5" cy="1056.7" r="16.2"/><circle cx="1635.7" cy="1060.6" r="16.2"/><circle cx="1661.2" cy="1074" r="16.2"/><circle cx="1605.9" cy="1093.3" r="16.2"/><circle cx="1590" cy="1101.4" r="16.2"/><circle cx="1601.1" cy="1096.6" r="16.2"/><circle cx="1660.2" cy="1096.6" r="16.2"/><circle cx="1685.2" cy="1102.9" r="16.2"/><circle cx="1663.6" cy="1111.1" r="16.2"/><circle cx="1646.7" cy="1123.1" r="16.2"/><circle cx="1590.5" cy="1123.1" r="16.2"/><circle cx="1663.6" cy="1113.5" r="16.2"/><circle cx="1639.5" cy="1147.1" r="16.2"/><circle cx="1666" cy="1166.3" r="16.2"/><circle cx="1653.9" cy="1183.2" r="16.2"/><circle cx="1662.1" cy="1225.5" r="16.2"/><circle cx="1678" cy="1269.7" r="16.2"/><circle cx="1681.3" cy="1269.7" r="16.2"/>
</g>
</g>
<rect x="1110.3" y="194.3" width="728" height="138.5" fill="#d9d9d9"/>
<path d="M1110.3 194.3H1838.3V2134.8H1110.3ZM1114.3 198.1V332.8H1833.3V198.1ZM1114.3 340.6V2129.8H1833.3V340.6Z" fill="#333" fill-rule="evenodd"/>
<text x="1473.9" y="292.5" text-anchor="middle" class="t" font-size="73.3" fill="#1a1a1a">Cleancatch20</text>
<path d="M1308.7 2134v22.9" stroke="#333" stroke-width="7.6"/>
<text x="1308.7" y="2229.8" text-anchor="middle" class="t" font-size="73.3" fill="#4d4d4d">Start</text>
<path d="M1639 2134v22.9" stroke="#333" stroke-width="7.6"/>
<text x="1639" y="2229.8" text-anchor="middle" class="t" font-size="73.3" fill="#4d4d4d">Slutt</text>
<g clip-path="url(#c2)">
<path d="M1883 621.3H2609.5M1883 1042.1H2609.5M1883 1462.8H2609.5M1883 1883.6H2609.5" stroke="#ebebeb" stroke-width="3.8" fill="none"/>
<path d="M1883 410.9H2609.5M1883 831.7H2609.5M1883 1252.5H2609.5M1883 1673.2H2609.5M1883 2094H2609.5M2081.1 336.7V2134M2411.3 336.7V2134" stroke="#ebebeb" stroke-width="7.6" fill="none"/>
<path d="M2079.9 424.7L2079.9 427.7L2079.9 430.7L2079.9 433.7L2079.9 436.7L2079.9 439.7L2079.9 442.7L2079.9 445.7L2079.9 448.7L2079.9 451.7L2079.9 454.7L2079.9 457.7L2079.9 460.7L2079.9 463.7L2079.9 466.7L2079.9 469.7L2079.9 472.7L2079.9 475.7L2079.9 478.7L2079.9 481.7L2079.9 484.7L2079.9 487.7L2079.9 490.7L2079.6 493.7L2078.8 496.7L2078.1 499.7L2077.5 502.7L2076.8 505.7L2076.2 508.7L2075.6 511.7L2075.1 514.7L2074.5 517.7L2074 520.7L2073.5 523.7L2073 526.7L2072.6 529.7L2072.2 532.7L2071.8 535.7L2071.4 538.7L2071.1 541.7L2070.7 544.7L2070.3 547.7L2069.9 550.7L2069.6 553.7L2069.2 556.7L2068.8 559.7L2068.4 562.7L2068 565.7L2067.6 568.7L2067.2 571.7L2066.8 574.7L2066.4 577.7L2066 580.7L2065.6 583.7L2065.2 586.7L2064.8 589.7L2064.5 592.7L2064.1 595.7L2063.7 598.7L2063.4 601.7L2063.1 604.7L2062.7 607.7L2062.4 610.7L2062.1 613.7L2061.8 616.7L2061.4 619.7L2061.1 622.7L2060.7 625.7L2060.4 628.7L2060 631.7L2059.7 634.7L2059.3 637.7L2058.9 640.7L2058.6 643.7L2058.2 646.7L2057.8 649.7L2057.4 652.7L2057.1 655.7L2056.7 658.7L2056.3 661.7L2055.9 664.7L2055.5 667.7L2055 670.7L2054.6 673.7L2054.1 676.7L2053.7 679.7L2053.2 682.7L2052.7 685.7L2052.2 688.7L2051.7 691.7L2051.1 694.7L2050.6 697.7L2050 700.7L2049.4 703.7L2048.8 706.7L2048.2 709.7L2047.5 712.7L2046.9 715.7L2046.2 718.7L2045.6 721.7L2044.9 724.7L2044.2 727.7L2043.5 730.7L2042.7 733.7L2041.9 736.7L2041 739.7L2039.9 742.7L2038.7 745.7L2037.3 748.7L2035.8 751.7L2034.2 754.7L2032.5 757.7L2030.8 760.7L2029.2 763.7L2027.5 766.7L2025.8 769.7L2024 772.7L2022.2 775.7L2020.4 778.7L2018.5 781.7L2016.7 784.7L2014.8 787.7L2013 790.7L2011.2 793.7L2009.3 796.7L2007.4 799.7L2005.6 802.7L2003.7 805.7L2001.8 808.7L2000 811.7L1998.1 814.7L1996.1 817.7L1994.2 820.7L1992.2 823.7L1990.3 826.7L1988.4 829.7L1986.6 832.7L1985 835.7L1983.5 838.7L1982.3 841.7L1981 844.7L1979.1 847.7L1976.8 850.7L1974.2 853.7L1971.6 856.7L1969 859.7L1966.6 862.7L1964.2 865.7L1961.8 868.7L1959.4 871.7L1957 874.7L1954.7 877.7L1952.5 880.7L1950.4 883.7L1948.3 886.7L1946.1 889.7L1944 892.7L1941.9 895.7L1939.9 898.7L1938.1 901.7L1936.5 904.7L1935.1 907.7L1934 910.7L1932.9 913.7L1931.9 916.7L1931.2 919.7L1930.8 922.7L1931 925.7L1931.5 928.7L1932.2 931.7L1933 934.7L1934.2 937.7L1935.8 940.7L1937.6 943.7L1939.7 946.7L1941.8 949.7L1943.8 952.7L1945.8 955.7L1947.5 958.7L1949.1 961.7L1950.7 964.7L1952.3 967.7L1953.9 970.7L1955.5 973.7L1957 976.7L1958.6 979.7L1960.1 982.7L1961.6 985.7L1963.1 988.7L1964.6 991.7L1966.1 994.7L1967.5 997.7L1969 1000.7L1970.4 1003.7L1971.8 1006.7L1973.1 1009.7L1974.4 1012.7L1975.7 1015.7L1977 1018.7L1978.3 1021.7L1979.7 1024.7L1981.2 1027.7L1982.8 1030.7L1984.4 1033.7L1986.1 1036.7L1987.7 1039.7L1989.4 1042.7L1991.2 1045.7L1992.9 1048.7L1994.7 1051.7L1996.5 1054.7L1998.3 1057.7L2000.1 1060.7L2002 1063.7L2003.8 1066.7L2005.6 1069.7L2007.3 1072.7L2009 1075.7L2010.8 1078.7L2012.5 1081.7L2014.2 1084.7L2015.8 1087.7L2017.5 1090.7L2019 1093.7L2020.5 1096.7L2022 1099.7L2023.5 1102.7L2024.9 1105.7L2026.3 1108.7L2027.6 1111.7L2029 1114.7L2030.3 1117.7L2031.7 1120.7L2033 1123.7L2034.3 1126.7L2035.6 1129.7L2036.9 1132.7L2038.2 1135.7L2039.4 1138.7L2040.7 1141.7L2041.9 1144.7L2043.2 1147.7L2044.4 1150.7L2045.6 1153.7L2046.8 1156.7L2048 1159.7L2049.1 1162.7L2050.3 1165.7L2051.5 1168.7L2052.6 1171.7L2053.7 1174.7L2054.9 1177.7L2056 1180.7L2057.1 1183.7L2058.1 1186.7L2059.2 1189.7L2060.2 1192.7L2061.3 1195.7L2062.3 1198.7L2063.3 1201.7L2064.3 1204.7L2065.3 1207.7L2066.2 1210.7L2067.2 1213.7L2068.1 1216.7L2068.9 1219.7L2069.8 1222.7L2070.7 1225.7L2071.5 1228.7L2072.3 1231.7L2073 1234.7L2073.7 1237.7L2074.3 1240.7L2074.9 1243.7L2075.5 1246.7L2076 1249.7L2076.5 1252.7L2077 1255.7L2077.5 1258.7L2077.9 1261.7L2078.2 1264.7L2078.6 1267.7L2079 1270.7L2079.4 1273.7L2079.7 1276.7L2079.9 1279.7L2080.1 1282.7L2080.2 1285.7L2080.2 1288.7L2080.2 1291.7L2080.2 1294.7L2080.2 1297.7L2080.2 1300.7L2080.2 1303.7L2080.2 1306.7L2080.2 1309.7L2080.2 1312.7L2080.2 1315.7L2080.2 1318.7L2080.2 1321.7L2080.2 1324.7L2080.2 1327.4L2081.9 1327.4L2081.9 1324.7L2081.9 1321.7L2081.9 1318.7L2081.9 1315.7L2081.9 1312.7L2081.9 1309.7L2081.9 1306.7L2081.9 1303.7L2081.9 1300.7L2081.9 1297.7L2081.9 1294.7L2081.9 1291.7L2081.9 1288.7L2081.9 1285.7L2082 1282.7L2082.2 1279.7L2082.5 1276.7L2082.8 1273.7L2083.2 1270.7L2083.5 1267.7L2083.9 1264.7L2084.3 1261.7L2084.7 1258.7L2085.1 1255.7L2085.6 1252.7L2086.1 1249.7L2086.7 1246.7L2087.2 1243.7L2087.8 1240.7L2088.4 1237.7L2089.1 1234.7L2089.9 1231.7L2090.6 1228.7L2091.5 1225.7L2092.3 1222.7L2093.2 1219.7L2094.1 1216.7L2095 1213.7L2095.9 1210.7L2096.9 1207.7L2097.8 1204.7L2098.8 1201.7L2099.8 1198.7L2100.9 1195.7L2101.9 1192.7L2103 1189.7L2104 1186.7L2105.1 1183.7L2106.2 1180.7L2107.3 1177.7L2108.4 1174.7L2109.6 1171.7L2110.7 1168.7L2111.9 1165.7L2113 1162.7L2114.2 1159.7L2115.4 1156.7L2116.6 1153.7L2117.8 1150.7L2119 1147.7L2120.2 1144.7L2121.5 1141.7L2122.7 1138.7L2124 1135.7L2125.3 1132.7L2126.5 1129.7L2127.8 1126.7L2129.1 1123.7L2130.5 1120.7L2131.8 1117.7L2133.2 1114.7L2134.5 1111.7L2135.9 1108.7L2137.3 1105.7L2138.7 1102.7L2140.1 1099.7L2141.6 1096.7L2143.1 1093.7L2144.7 1090.7L2146.3 1087.7L2148 1084.7L2149.7 1081.7L2151.4 1078.7L2153.1 1075.7L2154.9 1072.7L2156.6 1069.7L2158.4 1066.7L2160.2 1063.7L2162 1060.7L2163.8 1057.7L2165.7 1054.7L2167.5 1051.7L2169.3 1048.7L2171 1045.7L2172.7 1042.7L2174.4 1039.7L2176.1 1036.7L2177.8 1033.7L2179.4 1030.7L2180.9 1027.7L2182.4 1024.7L2183.9 1021.7L2185.2 1018.7L2186.5 1015.7L2187.8 1012.7L2189.1 1009.7L2190.4 1006.7L2191.8 1003.7L2193.2 1000.7L2194.6 997.7L2196.1 994.7L2197.6 991.7L2199 988.7L2200.6 985.7L2202.1 982.7L2203.6 979.7L2205.1 976.7L2206.7 973.7L2208.2 970.7L2209.8 967.7L2211.4 964.7L2213.1 961.7L2214.7 958.7L2216.4 955.7L2218.3 952.7L2220.4 949.7L2222.5 946.7L2224.5 943.7L2226.4 940.7L2228 937.7L2229.1 934.7L2230 931.7L2230.7 928.7L2231.2 925.7L2231.3 922.7L2231 919.7L2230.2 916.7L2229.3 913.7L2228.2 910.7L2227 907.7L2225.7 904.7L2224.1 901.7L2222.2 898.7L2220.2 895.7L2218.1 892.7L2216 889.7L2213.9 886.7L2211.8 883.7L2209.7 880.7L2207.4 877.7L2205.1 874.7L2202.8 871.7L2200.4 868.7L2198 865.7L2195.6 862.7L2193.2 859.7L2190.6 856.7L2187.9 853.7L2185.3 850.7L2183 847.7L2181.2 844.7L2179.8 841.7L2178.6 838.7L2177.2 835.7L2175.5 832.7L2173.8 829.7L2171.9 826.7L2169.9 823.7L2168 820.7L2166 817.7L2164.1 814.7L2162.2 811.7L2160.3 808.7L2158.5 805.7L2156.6 802.7L2154.7 799.7L2152.9 796.7L2151 793.7L2149.2 790.7L2147.3 787.7L2145.5 784.7L2143.6 781.7L2141.8 778.7L2139.9 775.7L2138.1 772.7L2136.4 769.7L2134.6 766.7L2133 763.7L2131.3 760.7L2129.6 757.7L2128 754.7L2126.4 751.7L2124.8 748.7L2123.5 745.7L2122.2 742.7L2121.2 739.7L2120.3 736.7L2119.4 733.7L2118.6 730.7L2117.9 727.7L2117.2 724.7L2116.6 721.7L2115.9 718.7L2115.3 715.7L2114.6 712.7L2114 709.7L2113.4 706.7L2112.8 703.7L2112.2 700.7L2111.6 697.7L2111 694.7L2110.5 691.7L2110 688.7L2109.5 685.7L2109 682.7L2108.5 679.7L2108 676.7L2107.6 673.7L2107.1 670.7L2106.7 667.7L2106.3 664.7L2105.9 661.7L2105.5 658.7L2105.1 655.7L2104.7 652.7L2104.3 649.7L2104 646.7L2103.6 643.7L2103.2 640.7L2102.8 637.7L2102.5 634.7L2102.1 631.7L2101.8 628.7L2101.4 625.7L2101.1 622.7L2100.7 619.7L2100.4 616.7L2100 613.7L2099.7 610.7L2099.4 607.7L2099.1 604.7L2098.8 601.7L2098.4 598.7L2098.1 595.7L2097.7 592.7L2097.3 589.7L2096.9 586.7L2096.5 583.7L2096.1 580.7L2095.7 577.7L2095.3 574.7L2094.9 571.7L2094.5 568.7L2094.2 565.7L2093.8 562.7L2093.4 559.7L2093 556.7L2092.6 553.7L2092.2 550.7L2091.8 547.7L2091.4 544.7L2091.1 541.7L2090.7 538.7L2090.3 535.7L2090 532.7L2089.6 529.7L2089.1 526.7L2088.7 523.7L2088.2 520.7L2087.7 517.7L2087.1 514.7L2086.5 511.7L2085.9 508.7L2085.3 505.7L2084.7 502.7L2084.1 499.7L2083.3 496.7L2082.6 493.7L2082.2 490.7L2082.2 487.7L2082.2 484.7L2082.2 481.7L2082.2 478.7L2082.2 475.7L2082.2 472.7L2082.2 469.7L2082.2 466.7L2082.2 463.7L2082.2 460.7L2082.2 457.7L2082.2 454.7L2082.2 451.7L2082.2 448.7L2082.2 445.7L2082.2 442.7L2082.2 439.7L2082.2 436.7L2082.2 433.7L2082.2 430.7L2082.2 427.7L2082.2 424.7Z" fill="#fff" stroke="#333" stroke-width="7.6" stroke-linejoin="miter"/>
<path d="M1980.6 845.4H2181.6M1932.7 933.8H2229.4M1979.4 1024H2182.8" stroke="#333" stroke-width="7.6" fill="none"/>
<path d="M2410.5 518.5L2410.5 521.5L2410.5 524.5L2410.5 527.5L2410.5 530.5L2410.5 533.5L2410.5 536.5L2410.5 539.5L2410.5 542.5L2410.5 545.5L2410.5 548.5L2410.5 551.5L2410.5 554.5L2410.5 557.5L2410.5 560.5L2410.5 563.5L2410.5 566.5L2410.5 569.5L2410.5 572.5L2410.5 575.5L2410.5 578.5L2410.5 581.5L2410.5 584.5L2410.5 587.5L2410.5 590.5L2410.5 593.5L2410.5 596.5L2410.5 599.5L2410.5 602.5L2410.5 605.5L2410.5 608.5L2410.5 611.5L2410.5 614.5L2410.5 617.5L2410.5 620.5L2410.5 623.5L2410.5 626.5L2410.5 629.5L2410.4 632.5L2410.4 635.5L2410.4 638.5L2410.4 641.5L2410.4 644.5L2410.4 647.5L2410.4 650.5L2410.4 653.5L2410.4 656.5L2410.4 659.5L2410.3 662.5L2410 665.5L2409.6 668.5L2409.1 671.5L2408.6 674.5L2408.1 677.5L2407.8 680.5L2407.5 683.5L2407.2 686.5L2406.9 689.5L2406.7 692.5L2406.4 695.5L2406.2 698.5L2405.9 701.5L2405.7 704.5L2405.5 707.5L2405.4 710.5L2405.2 713.5L2405.1 716.5L2404.9 719.5L2404.7 722.5L2404.5 725.5L2404.3 728.5L2404.1 731.5L2403.9 734.5L2403.6 737.5L2403.3 740.5L2403 743.5L2402.7 746.5L2402.3 749.5L2401.9 752.5L2401.5 755.5L2401 758.5L2400.5 761.5L2399.9 764.5L2399.4 767.5L2398.9 770.5L2398.3 773.5L2397.7 776.5L2397.1 779.5L2396.5 782.5L2395.8 785.5L2395.2 788.5L2394.6 791.5L2393.9 794.5L2393.2 797.5L2392.6 800.5L2391.9 803.5L2391.2 806.5L2390.5 809.5L2389.9 812.5L2389.2 815.5L2388.6 818.5L2387.9 821.5L2387.3 824.5L2386.7 827.5L2386 830.5L2385.4 833.5L2384.8 836.5L2384.2 839.5L2383.5 842.5L2382.9 845.5L2382.3 848.5L2381.7 851.5L2381 854.5L2380.4 857.5L2379.8 860.5L2379.1 863.5L2378.5 866.5L2377.8 869.5L2377.2 872.5L2376.6 875.5L2375.9 878.5L2375.2 881.5L2374.5 884.5L2373.7 887.5L2372.8 890.5L2371.9 893.5L2370.9 896.5L2369.9 899.5L2368.8 902.5L2367.7 905.5L2366.6 908.5L2365.4 911.5L2364.2 914.5L2363 917.5L2361.7 920.5L2360.4 923.5L2359.1 926.5L2357.7 929.5L2356.3 932.5L2354.9 935.5L2353.5 938.5L2352.1 941.5L2350.6 944.5L2349.1 947.5L2347.6 950.5L2346 953.5L2344.5 956.5L2343 959.5L2341.5 962.5L2339.9 965.5L2338.4 968.5L2336.8 971.5L2335.2 974.5L2333.7 977.5L2332.3 980.5L2330.9 983.5L2329.6 986.5L2328.5 989.5L2327.4 992.5L2326.3 995.5L2325.3 998.5L2324.3 1001.5L2323.3 1004.5L2322.2 1007.5L2321 1010.5L2319.9 1013.5L2318.6 1016.5L2317.4 1019.5L2316.2 1022.5L2315 1025.5L2313.8 1028.5L2312.6 1031.5L2311.5 1034.5L2310.3 1037.5L2309.2 1040.5L2308.1 1043.5L2307 1046.5L2306 1049.5L2305 1052.5L2304.1 1055.5L2303.2 1058.5L2302.4 1061.5L2301.6 1064.5L2300.9 1067.5L2300.2 1070.5L2299.4 1073.5L2298.7 1076.5L2298 1079.5L2297.2 1082.5L2296.3 1085.5L2295.3 1088.5L2294.3 1091.5L2293.5 1094.5L2293 1097.5L2292.8 1100.5L2292.9 1103.5L2292.9 1106.5L2293 1109.5L2293.1 1112.5L2293.2 1115.5L2293.4 1118.5L2293.5 1121.5L2293.7 1124.5L2293.9 1127.5L2294.2 1130.5L2294.5 1133.5L2294.9 1136.5L2295.3 1139.5L2295.7 1142.5L2296.2 1145.5L2296.8 1148.5L2297.4 1151.5L2298.1 1154.5L2299 1157.5L2299.9 1160.5L2300.9 1163.5L2301.9 1166.5L2303 1169.5L2304 1172.5L2305.2 1175.5L2306.4 1178.5L2307.7 1181.5L2309 1184.5L2310.3 1187.5L2311.7 1190.5L2313.1 1193.5L2314.4 1196.5L2315.7 1199.5L2317 1202.5L2318.3 1205.5L2319.6 1208.5L2320.9 1211.5L2322.2 1214.5L2323.5 1217.5L2324.9 1220.5L2326.2 1223.5L2327.5 1226.5L2328.9 1229.5L2330.2 1232.5L2331.6 1235.5L2333 1238.5L2334.4 1241.5L2335.7 1244.5L2337.1 1247.5L2338.5 1250.5L2339.9 1253.5L2341.2 1256.5L2342.6 1259.5L2343.9 1262.5L2345.3 1265.5L2346.5 1268.5L2347.8 1271.5L2349 1274.5L2350.2 1277.5L2351.4 1280.5L2352.6 1283.5L2353.8 1286.5L2354.9 1289.5L2356.1 1292.5L2357.3 1295.5L2358.6 1298.5L2359.8 1301.5L2361 1304.5L2362.3 1307.5L2363.5 1310.5L2364.6 1313.5L2365.7 1316.5L2366.8 1319.5L2367.8 1322.5L2368.8 1325.5L2369.8 1328.5L2370.8 1331.5L2371.7 1334.5L2372.7 1337.5L2373.6 1340.5L2374.6 1343.5L2375.6 1346.5L2376.6 1349.5L2377.5 1352.5L2378.5 1355.5L2379.4 1358.5L2380.4 1361.5L2381.3 1364.5L2382.3 1367.5L2383.2 1370.5L2384.1 1373.5L2385 1376.5L2386 1379.5L2386.8 1382.5L2387.7 1385.5L2388.5 1388.5L2389.3 1391.5L2390.1 1394.5L2390.8 1397.5L2391.5 1400.5L2392.2 1403.5L2392.9 1406.5L2393.6 1409.5L2394.3 1412.5L2394.9 1415.5L2395.6 1418.5L2396.2 1421.5L2396.8 1424.5L2397.4 1427.5L2398 1430.5L2398.5 1433.5L2399.1 1436.5L2399.6 1439.5L2400.2 1442.5L2400.7 1445.5L2401.3 1448.5L2401.8 1451.5L2402.2 1454.5L2402.6 1457.5L2402.9 1460.5L2403.2 1463.5L2403.4 1466.5L2403.6 1469.5L2403.8 1472.5L2404 1475.5L2404.1 1478.5L2404.3 1481.5L2404.4 1484.5L2404.5 1487.5L2404.5 1490.5L2404.6 1493.5L2404.7 1496.5L2404.7 1499.5L2404.8 1502.5L2404.9 1505.5L2404.9 1508.5L2405 1511.5L2405 1514.5L2405.1 1517.5L2405.1 1520.5L2405.2 1523.5L2405.2 1526.5L2405.3 1529.5L2405.3 1532.5L2405.4 1535.5L2405.5 1538.5L2405.5 1541.5L2405.6 1544.5L2405.6 1547.5L2405.7 1550.5L2405.8 1553.5L2405.8 1556.5L2405.9 1559.5L2406 1562.5L2406 1565.5L2406.1 1568.5L2406.2 1571.5L2406.3 1574.5L2406.4 1577.5L2406.5 1580.5L2406.7 1583.5L2406.8 1586.5L2407 1589.5L2407.2 1592.5L2407.4 1595.5L2407.6 1598.5L2407.9 1601.5L2408.2 1604.5L2408.6 1607.5L2409.2 1610.5L2409.8 1613.5L2410.3 1616.5L2410.5 1619.5L2410.5 1622.5L2410.5 1625.5L2410.5 1628.5L2410.5 1631.5L2410.5 1634.5L2410.5 1637.5L2410.5 1640.5L2410.5 1643.5L2410.5 1646.5L2410.5 1649.5L2410.5 1652.5L2410.5 1655.5L2410.5 1658.5L2410.5 1661.5L2410.5 1664.5L2410.5 1667.5L2410.5 1670.5L2410.5 1673.5L2410.5 1676.5L2410.5 1679.5L2410.5 1682.5L2410.5 1685.5L2410.5 1688.5L2410.5 1691.5L2410.5 1694.5L2410.5 1697.5L2410.5 1700.5L2410.5 1703.5L2410.5 1706.5L2410.5 1709.5L2410.5 1712.5L2410.5 1715.5L2410.5 1718.5L2410.5 1721.5L2410.5 1724.5L2410.4 1727.5L2410.3 1730.5L2410 1733.5L2409.8 1736.5L2409.5 1739.5L2409.2 1742.5L2409 1745.5L2408.9 1748.5L2408.9 1751.5L2408.9 1754.5L2408.9 1757.5L2408.9 1760.5L2408.9 1763.5L2408.9 1766.5L2408.9 1769.5L2408.9 1772.5L2408.9 1775.5L2408.9 1778.5L2408.9 1781.5L2408.9 1784.5L2408.9 1787.5L2408.9 1790.5L2408.9 1793.5L2408.9 1796.5L2409 1799.5L2409.1 1802.5L2409.4 1805.5L2409.6 1808.5L2409.9 1811.5L2410.2 1814.5L2410.4 1817.5L2410.5 1820.5L2410.5 1823.5L2410.5 1826.5L2410.5 1829.5L2410.5 1832.5L2410.5 1835.5L2410.5 1838.5L2410.5 1841.5L2410.5 1844.5L2410.5 1847.5L2410.5 1850.5L2410.5 1853.5L2410.5 1856.5L2410.5 1859.5L2410.5 1862.5L2410.5 1865.5L2410.5 1868.5L2410.5 1871.5L2410.5 1874.5L2410.5 1877.5L2410.5 1880.5L2410.5 1883.5L2410.5 1886.5L2410.5 1889.5L2410.5 1892.5L2410.5 1895.5L2410.5 1898.5L2410.5 1901.5L2410.5 1904.5L2410.5 1907.5L2410.5 1910.5L2410.5 1913.5L2410.5 1916.5L2410.5 1919.5L2410.5 1922.5L2410.5 1925.5L2410.5 1928.5L2410.5 1931.5L2410.5 1934.5L2410.5 1937.5L2410.5 1940.5L2410.5 1943.5L2410.5 1946.5L2410.5 1949.5L2410.5 1952.5L2410.5 1955.5L2410.5 1958.5L2410.5 1961.5L2410.5 1964.5L2410.5 1967.5L2410.5 1970.5L2410.5 1973.5L2410.5 1976.5L2410.5 1979.5L2410.5 1982.5L2410.5 1985.5L2410.5 1988.5L2410.5 1991.5L2410.5 1994.5L2410.5 1997.5L2410.5 2000.5L2410.5 2003.5L2410.5 2006.5L2410.5 2009.5L2410.5 2012.5L2410.5 2015.5L2410.5 2018.5L2410.4 2021.5L2410.4 2024.5L2410.4 2027.5L2410.4 2030.5L2410.3 2033.5L2410.3 2036.5L2410.3 2039.5L2410.2 2042.5L2410.2 2045.5L2410.2 2048.5L2410.2 2051.5L2410.2 2052.4L2412.5 2052.4L2412.5 2051.5L2412.5 2048.5L2412.5 2045.5L2412.5 2042.5L2412.4 2039.5L2412.4 2036.5L2412.4 2033.5L2412.3 2030.5L2412.3 2027.5L2412.3 2024.5L2412.2 2021.5L2412.2 2018.5L2412.2 2015.5L2412.2 2012.5L2412.2 2009.5L2412.2 2006.5L2412.2 2003.5L2412.2 2000.5L2412.2 1997.5L2412.2 1994.5L2412.2 1991.5L2412.2 1988.5L2412.2 1985.5L2412.2 1982.5L2412.2 1979.5L2412.2 1976.5L2412.2 1973.5L2412.2 1970.5L2412.2 1967.5L2412.2 1964.5L2412.2 1961.5L2412.2 1958.5L2412.2 1955.5L2412.2 1952.5L2412.2 1949.5L2412.2 1946.5L2412.2 1943.5L2412.2 1940.5L2412.2 1937.5L2412.2 1934.5L2412.2 1931.5L2412.2 1928.5L2412.2 1925.5L2412.2 1922.5L2412.2 1919.5L2412.2 1916.5L2412.2 1913.5L2412.2 1910.5L2412.2 1907.5L2412.2 1904.5L2412.2 1901.5L2412.2 1898.5L2412.2 1895.5L2412.2 1892.5L2412.2 1889.5L2412.2 1886.5L2412.2 1883.5L2412.2 1880.5L2412.2 1877.5L2412.2 1874.5L2412.2 1871.5L2412.2 1868.5L2412.2 1865.5L2412.2 1862.5L2412.2 1859.5L2412.2 1856.5L2412.2 1853.5L2412.2 1850.5L2412.2 1847.5L2412.2 1844.5L2412.2 1841.5L2412.2 1838.5L2412.2 1835.5L2412.2 1832.5L2412.2 1829.5L2412.2 1826.5L2412.2 1823.5L2412.2 1820.5L2412.3 1817.5L2412.5 1814.5L2412.8 1811.5L2413 1808.5L2413.3 1805.5L2413.6 1802.5L2413.7 1799.5L2413.7 1796.5L2413.7 1793.5L2413.7 1790.5L2413.7 1787.5L2413.7 1784.5L2413.7 1781.5L2413.7 1778.5L2413.7 1775.5L2413.7 1772.5L2413.7 1769.5L2413.7 1766.5L2413.7 1763.5L2413.7 1760.5L2413.7 1757.5L2413.7 1754.5L2413.7 1751.5L2413.7 1748.5L2413.7 1745.5L2413.5 1742.5L2413.2 1739.5L2412.9 1736.5L2412.6 1733.5L2412.4 1730.5L2412.3 1727.5L2412.2 1724.5L2412.2 1721.5L2412.2 1718.5L2412.2 1715.5L2412.2 1712.5L2412.2 1709.5L2412.2 1706.5L2412.2 1703.5L2412.2 1700.5L2412.2 1697.5L2412.2 1694.5L2412.2 1691.5L2412.2 1688.5L2412.2 1685.5L2412.2 1682.5L2412.2 1679.5L2412.2 1676.5L2412.2 1673.5L2412.2 1670.5L2412.2 1667.5L2412.2 1664.5L2412.2 1661.5L2412.2 1658.5L2412.2 1655.5L2412.2 1652.5L2412.2 1649.5L2412.2 1646.5L2412.2 1643.5L2412.2 1640.5L2412.2 1637.5L2412.2 1634.5L2412.2 1631.5L2412.2 1628.5L2412.2 1625.5L2412.2 1622.5L2412.2 1619.5L2412.4 1616.5L2412.9 1613.5L2413.5 1610.5L2414.1 1607.5L2414.5 1604.5L2414.8 1601.5L2415.1 1598.5L2415.3 1595.5L2415.5 1592.5L2415.7 1589.5L2415.9 1586.5L2416 1583.5L2416.2 1580.5L2416.3 1577.5L2416.4 1574.5L2416.5 1571.5L2416.6 1568.5L2416.6 1565.5L2416.7 1562.5L2416.8 1559.5L2416.9 1556.5L2416.9 1553.5L2417 1550.5L2417 1547.5L2417.1 1544.5L2417.2 1541.5L2417.2 1538.5L2417.3 1535.5L2417.4 1532.5L2417.4 1529.5L2417.5 1526.5L2417.5 1523.5L2417.6 1520.5L2417.6 1517.5L2417.7 1514.5L2417.7 1511.5L2417.8 1508.5L2417.8 1505.5L2417.9 1502.5L2417.9 1499.5L2418 1496.5L2418.1 1493.5L2418.1 1490.5L2418.2 1487.5L2418.3 1484.5L2418.4 1481.5L2418.6 1478.5L2418.7 1475.5L2418.9 1472.5L2419.1 1469.5L2419.3 1466.5L2419.5 1463.5L2419.8 1460.5L2420.1 1457.5L2420.5 1454.5L2420.9 1451.5L2421.4 1448.5L2422 1445.5L2422.5 1442.5L2423.1 1439.5L2423.6 1436.5L2424.2 1433.5L2424.7 1430.5L2425.3 1427.5L2425.9 1424.5L2426.5 1421.5L2427.1 1418.5L2427.8 1415.5L2428.4 1412.5L2429.1 1409.5L2429.7 1406.5L2430.4 1403.5L2431.1 1400.5L2431.9 1397.5L2432.6 1394.5L2433.4 1391.5L2434.2 1388.5L2435 1385.5L2435.8 1382.5L2436.7 1379.5L2437.6 1376.5L2438.6 1373.5L2439.5 1370.5L2440.4 1367.5L2441.4 1364.5L2442.3 1361.5L2443.2 1358.5L2444.2 1355.5L2445.2 1352.5L2446.1 1349.5L2447.1 1346.5L2448.1 1343.5L2449 1340.5L2450 1337.5L2451 1334.5L2451.9 1331.5L2452.9 1328.5L2453.9 1325.5L2454.9 1322.5L2455.9 1319.5L2457 1316.5L2458.1 1313.5L2459.2 1310.5L2460.4 1307.5L2461.6 1304.5L2462.9 1301.5L2464.1 1298.5L2465.3 1295.5L2466.6 1292.5L2467.7 1289.5L2468.9 1286.5L2470.1 1283.5L2471.3 1280.5L2472.5 1277.5L2473.7 1274.5L2474.9 1271.5L2476.1 1268.5L2477.4 1265.5L2478.8 1262.5L2480.1 1259.5L2481.5 1256.5L2482.8 1253.5L2484.2 1250.5L2485.6 1247.5L2486.9 1244.5L2488.3 1241.5L2489.7 1238.5L2491.1 1235.5L2492.4 1232.5L2493.8 1229.5L2495.2 1226.5L2496.5 1223.5L2497.8 1220.5L2499.2 1217.5L2500.5 1214.5L2501.8 1211.5L2503.1 1208.5L2504.4 1205.5L2505.7 1202.5L2507 1199.5L2508.3 1196.5L2509.6 1193.5L2511 1190.5L2512.3 1187.5L2513.7 1184.5L2515 1181.5L2516.3 1178.5L2517.5 1175.5L2518.7 1172.5L2519.7 1169.5L2520.8 1166.5L2521.8 1163.5L2522.8 1160.5L2523.7 1157.5L2524.6 1154.5L2525.3 1151.5L2525.9 1148.5L2526.4 1145.5L2526.9 1142.5L2527.4 1139.5L2527.8 1136.5L2528.2 1133.5L2528.5 1130.5L2528.8 1127.5L2529 1124.5L2529.2 1121.5L2529.3 1118.5L2529.5 1115.5L2529.6 1112.5L2529.7 1109.5L2529.8 1106.5L2529.8 1103.5L2529.9 1100.5L2529.7 1097.5L2529.2 1094.5L2528.4 1091.5L2527.4 1088.5L2526.4 1085.5L2525.5 1082.5L2524.7 1079.5L2524 1076.5L2523.2 1073.5L2522.5 1070.5L2521.8 1067.5L2521.1 1064.5L2520.3 1061.5L2519.5 1058.5L2518.6 1055.5L2517.7 1052.5L2516.7 1049.5L2515.6 1046.5L2514.6 1043.5L2513.5 1040.5L2512.3 1037.5L2511.2 1034.5L2510.1 1031.5L2508.9 1028.5L2507.7 1025.5L2506.5 1022.5L2505.3 1019.5L2504 1016.5L2502.8 1013.5L2501.6 1010.5L2500.5 1007.5L2499.4 1004.5L2498.4 1001.5L2497.4 998.5L2496.3 995.5L2495.3 992.5L2494.2 989.5L2493 986.5L2491.8 983.5L2490.4 980.5L2489 977.5L2487.5 974.5L2485.9 971.5L2484.3 968.5L2482.8 965.5L2481.2 962.5L2479.7 959.5L2478.2 956.5L2476.7 953.5L2475.1 950.5L2473.6 947.5L2472.1 944.5L2470.6 941.5L2469.2 938.5L2467.7 935.5L2466.3 932.5L2465 929.5L2463.6 926.5L2462.3 923.5L2460.9 920.5L2459.7 917.5L2458.5 914.5L2457.3 911.5L2456.1 908.5L2455 905.5L2453.9 902.5L2452.8 899.5L2451.7 896.5L2450.8 893.5L2449.9 890.5L2449 887.5L2448.2 884.5L2447.5 881.5L2446.8 878.5L2446.1 875.5L2445.5 872.5L2444.8 869.5L2444.2 866.5L2443.6 863.5L2442.9 860.5L2442.3 857.5L2441.6 854.5L2441 851.5L2440.4 848.5L2439.8 845.5L2439.1 842.5L2438.5 839.5L2437.9 836.5L2437.3 833.5L2436.6 830.5L2436 827.5L2435.4 824.5L2434.8 821.5L2434.1 818.5L2433.5 815.5L2432.8 812.5L2432.1 809.5L2431.5 806.5L2430.8 803.5L2430.1 800.5L2429.4 797.5L2428.8 794.5L2428.1 791.5L2427.5 788.5L2426.9 785.5L2426.2 782.5L2425.6 779.5L2425 776.5L2424.4 773.5L2423.8 770.5L2423.3 767.5L2422.7 764.5L2422.2 761.5L2421.7 758.5L2421.2 755.5L2420.8 752.5L2420.4 749.5L2420 746.5L2419.7 743.5L2419.4 740.5L2419.1 737.5L2418.8 734.5L2418.6 731.5L2418.4 728.5L2418.1 725.5L2418 722.5L2417.8 719.5L2417.6 716.5L2417.5 713.5L2417.3 710.5L2417.2 707.5L2417 704.5L2416.8 701.5L2416.5 698.5L2416.3 695.5L2416 692.5L2415.8 689.5L2415.5 686.5L2415.2 683.5L2414.9 680.5L2414.5 677.5L2414.1 674.5L2413.6 671.5L2413.1 668.5L2412.7 665.5L2412.4 662.5L2412.3 659.5L2412.3 656.5L2412.3 653.5L2412.3 650.5L2412.3 647.5L2412.3 644.5L2412.2 641.5L2412.2 638.5L2412.2 635.5L2412.2 632.5L2412.2 629.5L2412.2 626.5L2412.2 623.5L2412.2 620.5L2412.2 617.5L2412.2 614.5L2412.2 611.5L2412.2 608.5L2412.2 605.5L2412.2 602.5L2412.2 599.5L2412.2 596.5L2412.2 593.5L2412.2 590.5L2412.2 587.5L2412.2 584.5L2412.2 581.5L2412.2 578.5L2412.2 575.5L2412.2 572.5L2412.2 569.5L2412.2 566.5L2412.2 563.5L2412.2 560.5L2412.2 557.5L2412.2 554.5L2412.2 551.5L2412.2 548.5L2412.2 545.5L2412.2 542.5L2412.2 539.5L2412.2 536.5L2412.2 533.5L2412.2 530.5L2412.2 527.5L2412.2 524.5L2412.2 521.5L2412.2 518.5Z" fill="#fff" stroke="#333" stroke-width="7.6" stroke-linejoin="miter"/>
<path d="M2318.9 1016H2503.8M2293.5 1122.2H2529.2M2327.9 1227.4H2494.8" stroke="#333" stroke-width="7.6" fill="none"/>
<g fill="#000" fill-opacity=".2" stroke="#000" stroke-opacity=".2" stroke-width="4.6">
<circle cx="2065.1" cy="425.7" r="16.2"/><circle cx="2069.9" cy="431.4" r="16.2"/><circle cx="2046.8" cy="535.3" r="16.2"/><circle cx="2098.8" cy="555.5" r="16.2"/><circle cx="2074.7" cy="574.7" r="16.2"/><circle cx="2130" cy="574.7" r="16.2"/><circle cx="2033.8" cy="591.5" r="16.2"/><circle cx="2098.8" cy="601.2" r="16.2"/><circle cx="2115.6" cy="625.2" r="16.2"/><circle cx="2036.2" cy="627.6" r="16.2"/><circle cx="2048.3" cy="630" r="16.2"/><circle cx="2120.4" cy="644.4" r="16.2"/><circle cx="2130" cy="654" r="16.2"/><circle cx="2074.7" cy="644.4" r="16.2"/><circle cx="2038.7" cy="663.7" r="16.2"/><circle cx="2065.1" cy="663.7" r="16.2"/><circle cx="2079.5" cy="680.5" r="16.2"/><circle cx="2038.7" cy="687.7" r="16.2"/><circle cx="2130" cy="691.5" r="16.2"/><circle cx="2086.7" cy="709.3" r="16.2"/><circle cx="2045.9" cy="709.3" r="16.2"/><circle cx="2125.2" cy="725.2" r="16.2"/><circle cx="2072.3" cy="728.6" r="16.2"/><circle cx="2098.8" cy="745.4" r="16.2"/><circle cx="2130" cy="759.8" r="16.2"/><circle cx="2048.3" cy="755" r="16.2"/><circle cx="2081.9" cy="783.8" r="16.2"/><circle cx="2033.8" cy="781.4" r="16.2"/><circle cx="2115.6" cy="788.7" r="16.2"/><circle cx="2091.5" cy="764.6" r="16.2"/><circle cx="2062.7" cy="779" r="16.2"/><circle cx="2106" cy="779" r="16.2"/><circle cx="2130" cy="1089.4" r="16.2"/><circle cx="2125.2" cy="1147.1" r="16.2"/><circle cx="2036.2" cy="1171.2" r="16.2"/><circle cx="2048.3" cy="1173.6" r="16.2"/><circle cx="2074.7" cy="1168.8" r="16.2"/><circle cx="2091.5" cy="1168.8" r="16.2"/><circle cx="2127.6" cy="1168.8" r="16.2"/><circle cx="2067.5" cy="1190.4" r="16.2"/><circle cx="2127.6" cy="1188" r="16.2"/><circle cx="2048.3" cy="1216.8" r="16.2"/><circle cx="2053.1" cy="1226.4" r="16.2"/><circle cx="2081.9" cy="1221.6" r="16.2"/><circle cx="2120.4" cy="1212" r="16.2"/><circle cx="2120.4" cy="1214.4" r="16.2"/><circle cx="2101.2" cy="1326" r="16.2"/><circle cx="2111.9" cy="1020.8" r="16.2"/><circle cx="2062.2" cy="1160.1" r="16.2"/><circle cx="2109.2" cy="1115.3" r="16.2"/><circle cx="2032.3" cy="1070.1" r="16.2"/><circle cx="2118.2" cy="1042.4" r="16.2"/><circle cx="2047.3" cy="916.1" r="16.2"/><circle cx="2076.7" cy="992.1" r="16.2"/><circle cx="2097.3" cy="841.7" r="16.2"/><circle cx="2081.9" cy="1035.5" r="16.2"/><circle cx="2047.6" cy="1034.8" r="16.2"/><circle cx="2045" cy="1020.9" r="16.2"/><circle cx="2059.5" cy="929.2" r="16.2"/><circle cx="2036.3" cy="911.7" r="16.2"/><circle cx="2052.7" cy="922.4" r="16.2"/><circle cx="2044.1" cy="710.6" r="16.2"/><circle cx="2077.6" cy="1070.7" r="16.2"/><circle cx="2066.7" cy="958.9" r="16.2"/><circle cx="2089.8" cy="914.2" r="16.2"/><circle cx="2059.2" cy="960.7" r="16.2"/><circle cx="2034.5" cy="1021" r="16.2"/><circle cx="2064.2" cy="912.6" r="16.2"/><circle cx="2106.6" cy="1064.7" r="16.2"/><circle cx="2056.7" cy="1105.6" r="16.2"/><circle cx="2071.5" cy="914.2" r="16.2"/><circle cx="2106.6" cy="819.5" r="16.2"/><circle cx="2071.7" cy="1035.8" r="16.2"/><circle cx="2119.8" cy="1153.4" r="16.2"/><circle cx="2122.9" cy="824.5" r="16.2"/><circle cx="2062.1" cy="1017.7" r="16.2"/><circle cx="2104.7" cy="1062.4" r="16.2"/><circle cx="2056.4" cy="1106.2" r="16.2"/><circle cx="2045" cy="812" r="16.2"/><circle cx="2074.9" cy="794.3" r="16.2"/><circle cx="2091.3" cy="1147.2" r="16.2"/><circle cx="2124.6" cy="808.5" r="16.2"/><circle cx="2045.7" cy="838.2" r="16.2"/><circle cx="2102.3" cy="969.5" r="16.2"/><circle cx="2078.6" cy="929.6" r="16.2"/><circle cx="2044.2" cy="1031.9" r="16.2"/><circle cx="2128.3" cy="844.5" r="16.2"/><circle cx="2100.7" cy="1103.2" r="16.2"/><circle cx="2044" cy="855.9" r="16.2"/><circle cx="2121.7" cy="1039.2" r="16.2"/><circle cx="2041.4" cy="772.8" r="16.2"/><circle cx="2040.3" cy="937.4" r="16.2"/><circle cx="2064.2" cy="708.6" r="16.2"/><circle cx="2124.9" cy="892.1" r="16.2"/><circle cx="2034.4" cy="891.6" r="16.2"/><circle cx="2122.9" cy="1020.3" r="16.2"/><circle cx="2092.2" cy="932" r="16.2"/><circle cx="2037.8" cy="756.3" r="16.2"/><circle cx="2087.9" cy="1157.3" r="16.2"/><circle cx="2077" cy="1090.9" r="16.2"/><circle cx="2087.5" cy="1104.1" r="16.2"/><circle cx="2104.8" cy="867.8" r="16.2"/><circle cx="2098.9" cy="915.9" r="16.2"/><circle cx="2130.8" cy="860" r="16.2"/><circle cx="2046.7" cy="812.8" r="16.2"/><circle cx="2112.4" cy="709.8" r="16.2"/><circle cx="2072.2" cy="946.6" r="16.2"/><circle cx="2109.4" cy="811.9" r="16.2"/><circle cx="2120.3" cy="838" r="16.2"/><circle cx="2130.3" cy="1077.9" r="16.2"/><circle cx="2057.7" cy="940.7" r="16.2"/><circle cx="2076.4" cy="841.4" r="16.2"/><circle cx="2125.4" cy="1002.2" r="16.2"/><circle cx="2125.7" cy="875.1" r="16.2"/><circle cx="2068.4" cy="954" r="16.2"/><circle cx="2125.1" cy="881.4" r="16.2"/><circle cx="2071.7" cy="950.6" r="16.2"/><circle cx="2068.6" cy="987.7" r="16.2"/><circle cx="2106.7" cy="956.9" r="16.2"/><circle cx="2078.2" cy="916.3" r="16.2"/><circle cx="2075.9" cy="1048" r="16.2"/><circle cx="2069.7" cy="1083.8" r="16.2"/><circle cx="2074.4" cy="839.4" r="16.2"/><circle cx="2045.1" cy="818.7" r="16.2"/><circle cx="2037.2" cy="806.5" r="16.2"/><circle cx="2106.5" cy="1139.5" r="16.2"/><circle cx="2087.5" cy="1116.5" r="16.2"/><circle cx="2098.3" cy="861.4" r="16.2"/><circle cx="2111.3" cy="1132.3" r="16.2"/><circle cx="2054.1" cy="852" r="16.2"/><circle cx="2054.5" cy="947.6" r="16.2"/><circle cx="2058.9" cy="944.7" r="16.2"/><circle cx="2061.5" cy="1103.5" r="16.2"/><circle cx="2107.1" cy="726.8" r="16.2"/><circle cx="2068.5" cy="892.6" r="16.2"/><circle cx="2063.4" cy="977.9" r="16.2"/><circle cx="2094.7" cy="771.1" r="16.2"/><circle cx="2049.7" cy="863.8" r="16.2"/><circle cx="2041.7" cy="934.9" r="16.2"/><circle cx="2100.8" cy="1087.2" r="16.2"/><circle cx="2106.7" cy="1036" r="16.2"/><circle cx="2060.7" cy="1064" r="16.2"/><circle cx="2094.7" cy="1036.1" r="16.2"/><circle cx="2034.5" cy="1015.9" r="16.2"/><circle cx="2071.5" cy="1073.1" r="16.2"/><circle cx="2088.9" cy="1006.4" r="16.2"/><circle cx="2056.4" cy="1026.3" r="16.2"/><circle cx="2065.9" cy="888" r="16.2"/><circle cx="2092" cy="834" r="16.2"/><circle cx="2090.1" cy="1034.3" r="16.2"/><circle cx="2046.5" cy="833.1" r="16.2"/><circle cx="2101.7" cy="1105.6" r="16.2"/><circle cx="2039.1" cy="976.8" r="16.2"/><circle cx="2128" cy="897.3" r="16.2"/><circle cx="2051.3" cy="1114.1" r="16.2"/><circle cx="2056.4" cy="828" r="16.2"/><circle cx="2051.1" cy="950.1" r="16.2"/><circle cx="2130.2" cy="794.1" r="16.2"/><circle cx="2059.7" cy="1129.4" r="16.2"/><circle cx="2091.6" cy="969.7" r="16.2"/><circle cx="2130.1" cy="1053.3" r="16.2"/><circle cx="2126.1" cy="881" r="16.2"/><circle cx="2035.3" cy="1052.5" r="16.2"/><circle cx="2083.2" cy="1014.1" r="16.2"/><circle cx="2091.2" cy="993" r="16.2"/><circle cx="2101.3" cy="1121" r="16.2"/><circle cx="2064.7" cy="926.1" r="16.2"/><circle cx="2063.9" cy="921.2" r="16.2"/><circle cx="2031.5" cy="1010.2" r="16.2"/><circle cx="2034.6" cy="1066.6" r="16.2"/><circle cx="2086.1" cy="899.1" r="16.2"/><circle cx="2038.7" cy="1002.1" r="16.2"/><circle cx="2051.3" cy="852.5" r="16.2"/><circle cx="2064.4" cy="961.9" r="16.2"/><circle cx="2038.1" cy="1039.3" r="16.2"/><circle cx="2034.2" cy="769.5" r="16.2"/><circle cx="2123.8" cy="1023.4" r="16.2"/><circle cx="2074.6" cy="654.8" r="16.2"/><circle cx="2051.6" cy="1125.2" r="16.2"/><circle cx="2101.9" cy="936" r="16.2"/><circle cx="2032" cy="919.7" r="16.2"/><circle cx="2055.6" cy="1020.6" r="16.2"/><circle cx="2127.2" cy="952.8" r="16.2"/><circle cx="2120.8" cy="1024.5" r="16.2"/><circle cx="2094.7" cy="789.6" r="16.2"/><circle cx="2040.4" cy="965.5" r="16.2"/><circle cx="2062.9" cy="964" r="16.2"/><circle cx="2033.9" cy="1111.8" r="16.2"/><circle cx="2053" cy="724.9" r="16.2"/><circle cx="2033.6" cy="931.4" r="16.2"/><circle cx="2043.7" cy="988.6" r="16.2"/><circle cx="2094.4" cy="961.6" r="16.2"/><circle cx="2041.1" cy="780.8" r="16.2"/><circle cx="2046.7" cy="975.6" r="16.2"/><circle cx="2121.4" cy="858" r="16.2"/><circle cx="2064.6" cy="846.7" r="16.2"/><circle cx="2064.4" cy="1086.2" r="16.2"/><circle cx="2039.7" cy="847.7" r="16.2"/><circle cx="2110.7" cy="931.8" r="16.2"/><circle cx="2098.7" cy="1031.9" r="16.2"/><circle cx="2085.8" cy="1015.8" r="16.2"/><circle cx="2092.9" cy="962.5" r="16.2"/><circle cx="2041.1" cy="1054.7" r="16.2"/><circle cx="2057.1" cy="935.2" r="16.2"/><circle cx="2089.4" cy="984.9" r="16.2"/><circle cx="2126.3" cy="1059.7" r="16.2"/><circle cx="2112.8" cy="1005.2" r="16.2"/><circle cx="2095.1" cy="992.3" r="16.2"/><circle cx="2083" cy="918.9" r="16.2"/><circle cx="2032.6" cy="964.1" r="16.2"/><circle cx="2120.1" cy="916.4" r="16.2"/><circle cx="2037.8" cy="1029.6" r="16.2"/><circle cx="2044" cy="912.3" r="16.2"/><circle cx="2100.4" cy="935.4" r="16.2"/><circle cx="2112.3" cy="1033.9" r="16.2"/><circle cx="2109.7" cy="946.7" r="16.2"/><circle cx="2076.3" cy="900.1" r="16.2"/><circle cx="2048.8" cy="1063.1" r="16.2"/><circle cx="2034.6" cy="912.5" r="16.2"/><circle cx="2116.2" cy="1070.9" r="16.2"/><circle cx="2128.8" cy="1045.7" r="16.2"/><circle cx="2055.5" cy="929.9" r="16.2"/><circle cx="2117.7" cy="1017.8" r="16.2"/><circle cx="2071.3" cy="713.1" r="16.2"/><circle cx="2062.2" cy="914.8" r="16.2"/><circle cx="2081.6" cy="1077.8" r="16.2"/><circle cx="2031.9" cy="971.1" r="16.2"/><circle cx="2075.3" cy="963.9" r="16.2"/><circle cx="2051" cy="1000.4" r="16.2"/><circle cx="2102.3" cy="1005" r="16.2"/><circle cx="2081.3" cy="972.4" r="16.2"/><circle cx="2118" cy="922.6" r="16.2"/><circle cx="2120.7" cy="841.3" r="16.2"/><circle cx="2062.8" cy="884.8" r="16.2"/><circle cx="2059.1" cy="884.9" r="16.2"/><circle cx="2125" cy="925.3" r="16.2"/><circle cx="2081.5" cy="1166.7" r="16.2"/><circle cx="2040.7" cy="904.5" r="16.2"/><circle cx="2035.7" cy="929.9" r="16.2"/><circle cx="2130.1" cy="909.9" r="16.2"/><circle cx="2089" cy="971.7" r="16.2"/><circle cx="2036.5" cy="1119.7" r="16.2"/><circle cx="2082.2" cy="1091.1" r="16.2"/><circle cx="2081.5" cy="911.4" r="16.2"/><circle cx="2074.6" cy="875.5" r="16.2"/><circle cx="2126.2" cy="1088.9" r="16.2"/><circle cx="2126" cy="943.7" r="16.2"/><circle cx="2043.6" cy="1007.8" r="16.2"/><circle cx="2046.2" cy="779.9" r="16.2"/><circle cx="2071.8" cy="1080.6" r="16.2"/><circle cx="2114.5" cy="891.8" r="16.2"/><circle cx="2093.5" cy="943.9" r="16.2"/><circle cx="2104.1" cy="847.7" r="16.2"/><circle cx="2088.7" cy="922.5" r="16.2"/><circle cx="2052.1" cy="1063.6" r="16.2"/><circle cx="2112.9" cy="1063.4" r="16.2"/><circle cx="2032.5" cy="937.5" r="16.2"/><circle cx="2100.9" cy="1038.8" r="16.2"/><circle cx="2050.5" cy="932.9" r="16.2"/><circle cx="2078.2" cy="910.4" r="16.2"/><circle cx="2128.6" cy="960" r="16.2"/><circle cx="2085" cy="849.2" r="16.2"/><circle cx="2036.8" cy="893" r="16.2"/><circle cx="2074" cy="1015.5" r="16.2"/><circle cx="2097.1" cy="1039.8" r="16.2"/><circle cx="2036.7" cy="756.2" r="16.2"/><circle cx="2056.3" cy="1025.2" r="16.2"/><circle cx="2032.9" cy="1059" r="16.2"/><circle cx="2085.1" cy="929.3" r="16.2"/><circle cx="2069.2" cy="765.2" r="16.2"/><circle cx="2081.4" cy="1006.9" r="16.2"/><circle cx="2060.7" cy="867.6" r="16.2"/><circle cx="2096.8" cy="992.8" r="16.2"/><circle cx="2048.4" cy="911.3" r="16.2"/><circle cx="2121.7" cy="990.7" r="16.2"/><circle cx="2127.1" cy="872.2" r="16.2"/><circle cx="2080.4" cy="938.4" r="16.2"/><circle cx="2077.6" cy="953.3" r="16.2"/><circle cx="2117" cy="988.6" r="16.2"/><circle cx="2060.1" cy="850" r="16.2"/><circle cx="2111.4" cy="1127.4" r="16.2"/><circle cx="2059.8" cy="883.6" r="16.2"/><circle cx="2103.1" cy="889.5" r="16.2"/><circle cx="2064.5" cy="871.5" r="16.2"/><circle cx="2091.3" cy="772.6" r="16.2"/><circle cx="2123.7" cy="923.2" r="16.2"/><circle cx="2036.5" cy="1040.3" r="16.2"/><circle cx="2111.8" cy="1016.6" r="16.2"/><circle cx="2085.3" cy="846.7" r="16.2"/><circle cx="2069" cy="819" r="16.2"/><circle cx="2066.1" cy="894.7" r="16.2"/><circle cx="2038" cy="1038.9" r="16.2"/><circle cx="2056.9" cy="941.9" r="16.2"/><circle cx="2093.4" cy="1107.5" r="16.2"/><circle cx="2040.8" cy="997.4" r="16.2"/><circle cx="2098" cy="985.1" r="16.2"/><circle cx="2127.3" cy="1038.7" r="16.2"/><circle cx="2129.2" cy="1031.9" r="16.2"/><circle cx="2120" cy="901.9" r="16.2"/><circle cx="2111.7" cy="871.8" r="16.2"/><circle cx="2048.9" cy="927.2" r="16.2"/><circle cx="2128.1" cy="942.2" r="16.2"/><circle cx="2051.3" cy="821.4" r="16.2"/><circle cx="2118" cy="928.2" r="16.2"/><circle cx="2118.9" cy="991.6" r="16.2"/><circle cx="2093.3" cy="818.4" r="16.2"/><circle cx="2083.2" cy="819.6" r="16.2"/><circle cx="2051.1" cy="836.8" r="16.2"/><circle cx="2083" cy="881.5" r="16.2"/><circle cx="2060.1" cy="1127.2" r="16.2"/><circle cx="2043.7" cy="689.7" r="16.2"/><circle cx="2043.9" cy="841.4" r="16.2"/><circle cx="2111.2" cy="832.8" r="16.2"/><circle cx="2123.3" cy="937.7" r="16.2"/><circle cx="2045.3" cy="653.4" r="16.2"/><circle cx="2032.4" cy="932.9" r="16.2"/><circle cx="2057.4" cy="831.8" r="16.2"/><circle cx="2044.5" cy="876.5" r="16.2"/><circle cx="2049.9" cy="1048.6" r="16.2"/><circle cx="2089.4" cy="841.5" r="16.2"/><circle cx="2073.3" cy="983.8" r="16.2"/><circle cx="2074" cy="919" r="16.2"/><circle cx="2051.6" cy="921.9" r="16.2"/><circle cx="2097.5" cy="1058.8" r="16.2"/><circle cx="2060" cy="830.8" r="16.2"/><circle cx="2071" cy="1107.8" r="16.2"/><circle cx="2077.4" cy="1093.2" r="16.2"/><circle cx="2121.5" cy="1001.7" r="16.2"/><circle cx="2055.7" cy="743.9" r="16.2"/><circle cx="2102.9" cy="999.9" r="16.2"/><circle cx="2062" cy="978" r="16.2"/><circle cx="2120.5" cy="1040.5" r="16.2"/><circle cx="2070.5" cy="854.5" r="16.2"/><circle cx="2081.6" cy="1122.5" r="16.2"/><circle cx="2118.8" cy="1089.7" r="16.2"/><circle cx="2098.4" cy="807.2" r="16.2"/><circle cx="2040.5" cy="892.6" r="16.2"/><circle cx="2044.8" cy="708.4" r="16.2"/><circle cx="2130.1" cy="1064.8" r="16.2"/><circle cx="2034" cy="1103.5" r="16.2"/><circle cx="2061.2" cy="1149.4" r="16.2"/><circle cx="2127" cy="982" r="16.2"/><circle cx="2032.6" cy="1000.8" r="16.2"/><circle cx="2047.2" cy="1005.3" r="16.2"/><circle cx="2052.4" cy="967.9" r="16.2"/><circle cx="2039.7" cy="1122" r="16.2"/><circle cx="2078.3" cy="980.6" r="16.2"/><circle cx="2090.3" cy="899.3" r="16.2"/><circle cx="2062.9" cy="949.6" r="16.2"/><circle cx="2041.9" cy="666.6" r="16.2"/><circle cx="2112.2" cy="1022" r="16.2"/><circle cx="2111.5" cy="1010.9" r="16.2"/><circle cx="2087.3" cy="922.8" r="16.2"/><circle cx="2044.9" cy="1073.8" r="16.2"/><circle cx="2085.3" cy="1033.9" r="16.2"/><circle cx="2094" cy="899.7" r="16.2"/><circle cx="2073.9" cy="783.9" r="16.2"/><circle cx="2117.5" cy="816.6" r="16.2"/><circle cx="2070.1" cy="841.6" r="16.2"/><circle cx="2082.2" cy="888.8" r="16.2"/><circle cx="2042.5" cy="929.9" r="16.2"/><circle cx="2087.4" cy="1109.8" r="16.2"/><circle cx="2107.7" cy="879.7" r="16.2"/><circle cx="2104.2" cy="1095.6" r="16.2"/><circle cx="2056.8" cy="1006" r="16.2"/><circle cx="2130.3" cy="1074.7" r="16.2"/><circle cx="2103.1" cy="918.2" r="16.2"/><circle cx="2073.5" cy="592.3" r="16.2"/><circle cx="2072.6" cy="1046.4" r="16.2"/><circle cx="2109" cy="867.3" r="16.2"/><circle cx="2048.6" cy="821.8" r="16.2"/><circle cx="2095" cy="1051.5" r="16.2"/><circle cx="2103" cy="1008.1" r="16.2"/><circle cx="2082.7" cy="853.9" r="16.2"/><circle cx="2118.4" cy="875.8" r="16.2"/><circle cx="2077.9" cy="1115.4" r="16.2"/><circle cx="2077.6" cy="876.1" r="16.2"/><circle cx="2059.5" cy="1014" r="16.2"/><circle cx="2123" cy="815.2" r="16.2"/><circle cx="2062.7" cy="1058" r="16.2"/><circle cx="2100.6" cy="808.9" r="16.2"/><circle cx="2072" cy="950.6" r="16.2"/><circle cx="2124.6" cy="715.1" r="16.2"/><circle cx="2125.9" cy="961.4" r="16.2"/><circle cx="2034.1" cy="1071.7" r="16.2"/><circle cx="2130.5" cy="789.3" r="16.2"/><circle cx="2091.6" cy="878.2" r="16.2"/><circle cx="2038.5" cy="1037.5" r="16.2"/><circle cx="2080.8" cy="980.7" r="16.2"/><circle cx="2036" cy="891.8" r="16.2"/><circle cx="2086" cy="987.8" r="16.2"/><circle cx="2049.6" cy="931.9" r="16.2"/><circle cx="2067.9" cy="1078.7" r="16.2"/><circle cx="2061.5" cy="884.9" r="16.2"/><circle cx="2091.3" cy="1034.8" r="16.2"/><circle cx="2113.3" cy="990.2" r="16.2"/><circle cx="2124.7" cy="1028.1" r="16.2"/><circle cx="2064" cy="911.7" r="16.2"/><circle cx="2088" cy="1022.3" r="16.2"/><circle cx="2031.7" cy="1012.5" r="16.2"/><circle cx="2068.3" cy="914.2" r="16.2"/><circle cx="2127.1" cy="691.7" r="16.2"/><circle cx="2043" cy="1127.9" r="16.2"/><circle cx="2118.1" cy="1018.1" r="16.2"/><circle cx="2096.3" cy="850.7" r="16.2"/><circle cx="2060.5" cy="1024.5" r="16.2"/><circle cx="2108.9" cy="879.8" r="16.2"/><circle cx="2060" cy="936.2" r="16.2"/><circle cx="2120.6" cy="1077.6" r="16.2"/><circle cx="2039.4" cy="930.1" r="16.2"/><circle cx="2043" cy="883.2" r="16.2"/><circle cx="2106.1" cy="889.3" r="16.2"/><circle cx="2076" cy="783.5" r="16.2"/><circle cx="2045.8" cy="856.9" r="16.2"/><circle cx="2082.4" cy="877.1" r="16.2"/><circle cx="2060.8" cy="836.5" r="16.2"/><circle cx="2086" cy="766.1" r="16.2"/><circle cx="2105.4" cy="935.1" r="16.2"/><circle cx="2116.8" cy="854.8" r="16.2"/><circle cx="2037" cy="1027.5" r="16.2"/><circle cx="2090.3" cy="1107.1" r="16.2"/><circle cx="2129.4" cy="877.8" r="16.2"/><circle cx="2077.1" cy="968.6" r="16.2"/><circle cx="2108" cy="947.6" r="16.2"/><circle cx="2040.8" cy="781.7" r="16.2"/><circle cx="2118.4" cy="812.8" r="16.2"/><circle cx="2089.3" cy="1089.1" r="16.2"/><circle cx="2119.9" cy="937.6" r="16.2"/><circle cx="2109.8" cy="1053.6" r="16.2"/><circle cx="2118" cy="771.3" r="16.2"/><circle cx="2036.8" cy="976.2" r="16.2"/><circle cx="2102.6" cy="1080.1" r="16.2"/><circle cx="2050.8" cy="1080.9" r="16.2"/><circle cx="2057.7" cy="609.3" r="16.2"/><circle cx="2063.6" cy="952.3" r="16.2"/><circle cx="2090.2" cy="909.2" r="16.2"/><circle cx="2093.9" cy="1035.7" r="16.2"/><circle cx="2124.2" cy="779.8" r="16.2"/><circle cx="2032.3" cy="874.8" r="16.2"/><circle cx="2050.4" cy="1057" r="16.2"/><circle cx="2067.3" cy="936.3" r="16.2"/><circle cx="2112.9" cy="931.5" r="16.2"/><circle cx="2086.1" cy="1131.4" r="16.2"/><circle cx="2082.3" cy="894.2" r="16.2"/><circle cx="2107.1" cy="729.3" r="16.2"/><circle cx="2096.6" cy="915.4" r="16.2"/><circle cx="2060.1" cy="827.2" r="16.2"/><circle cx="2039.8" cy="787.5" r="16.2"/><circle cx="2077.3" cy="967.2" r="16.2"/><circle cx="2119.1" cy="1122.6" r="16.2"/><circle cx="2090.9" cy="971" r="16.2"/><circle cx="2036.4" cy="994.2" r="16.2"/><circle cx="2075.1" cy="895.4" r="16.2"/><circle cx="2069.5" cy="968.3" r="16.2"/><circle cx="2089.3" cy="1032.7" r="16.2"/><circle cx="2089.8" cy="974.3" r="16.2"/><circle cx="2126.2" cy="1052.9" r="16.2"/><circle cx="2064.9" cy="961.5" r="16.2"/><circle cx="2071.9" cy="847.8" r="16.2"/><circle cx="2092.4" cy="972.1" r="16.2"/><circle cx="2119.7" cy="942.8" r="16.2"/><circle cx="2101.7" cy="833.2" r="16.2"/><circle cx="2078.2" cy="984.5" r="16.2"/><circle cx="2112.5" cy="1058.8" r="16.2"/><circle cx="2079.6" cy="818.1" r="16.2"/><circle cx="2127.4" cy="959.7" r="16.2"/><circle cx="2059.3" cy="1025.6" r="16.2"/><circle cx="2043.8" cy="918.1" r="16.2"/><circle cx="2114.1" cy="876.7" r="16.2"/><circle cx="2060.8" cy="910.1" r="16.2"/><circle cx="2115.8" cy="958.7" r="16.2"/><circle cx="2092" cy="1008.2" r="16.2"/><circle cx="2082" cy="964.4" r="16.2"/><circle cx="2039.8" cy="803.1" r="16.2"/><circle cx="2109.7" cy="1059.2" r="16.2"/><circle cx="2037.7" cy="1107.8" r="16.2"/><circle cx="2127.6" cy="799.9" r="16.2"/><circle cx="2118.8" cy="868.9" r="16.2"/><circle cx="2061.4" cy="836.8" r="16.2"/><circle cx="2043.9" cy="1072.8" r="16.2"/><circle cx="2119.6" cy="1101.2" r="16.2"/><circle cx="2079.1" cy="734.3" r="16.2"/><circle cx="2043.6" cy="898.3" r="16.2"/><circle cx="2080.9" cy="845.3" r="16.2"/><circle cx="2055.8" cy="936.3" r="16.2"/><circle cx="2071.9" cy="1106.7" r="16.2"/><circle cx="2095.1" cy="776.3" r="16.2"/><circle cx="2122.6" cy="835.7" r="16.2"/><circle cx="2111.2" cy="941.6" r="16.2"/><circle cx="2047.2" cy="953.1" r="16.2"/><circle cx="2078.8" cy="1030.1" r="16.2"/><circle cx="2080.3" cy="927.2" r="16.2"/><circle cx="2130" cy="821.1" r="16.2"/><circle cx="2039.8" cy="904.8" r="16.2"/><circle cx="2082.2" cy="1141.6" r="16.2"/><circle cx="2122.5" cy="1032.1" r="16.2"/><circle cx="2071" cy="808.2" r="16.2"/><circle cx="2441.7" cy="519.4" r="16.2"/><circle cx="2398.9" cy="660.3" r="16.2"/><circle cx="2431.2" cy="661.7" r="16.2"/><circle cx="2446.5" cy="677.1" r="16.2"/><circle cx="2450.4" cy="701.2" r="16.2"/><circle cx="2400.9" cy="737.2" r="16.2"/><circle cx="2439.3" cy="744.4" r="16.2"/><circle cx="2391.7" cy="768.5" r="16.2"/><circle cx="2373.5" cy="806.9" r="16.2"/><circle cx="2375.9" cy="811.7" r="16.2"/><circle cx="2402.3" cy="799.7" r="16.2"/><circle cx="2407.1" cy="811.7" r="16.2"/><circle cx="2451.8" cy="818.9" r="16.2"/><circle cx="2362.9" cy="838.2" r="16.2"/><circle cx="2407.1" cy="833.4" r="16.2"/><circle cx="2416.7" cy="835.8" r="16.2"/><circle cx="2448" cy="835.8" r="16.2"/><circle cx="2450.4" cy="838.2" r="16.2"/><circle cx="2373.5" cy="847.8" r="16.2"/><circle cx="2380.7" cy="859.8" r="16.2"/><circle cx="2363.8" cy="879" r="16.2"/><circle cx="2448" cy="867" r="16.2"/><circle cx="2462.4" cy="891.1" r="16.2"/><circle cx="2411.9" cy="893.5" r="16.2"/><circle cx="2423.9" cy="888.7" r="16.2"/><circle cx="2371.1" cy="905.5" r="16.2"/><circle cx="2416.7" cy="903.1" r="16.2"/><circle cx="2359" cy="1330.8" r="16.2"/><circle cx="2368.7" cy="1328.4" r="16.2"/><circle cx="2378.3" cy="1359.6" r="16.2"/><circle cx="2363.8" cy="1376.4" r="16.2"/><circle cx="2371.1" cy="1388.5" r="16.2"/><circle cx="2373.5" cy="1395.7" r="16.2"/><circle cx="2409.5" cy="1371.6" r="16.2"/><circle cx="2426.3" cy="1369.2" r="16.2"/><circle cx="2445.6" cy="1383.7" r="16.2"/><circle cx="2397.5" cy="1402.9" r="16.2"/><circle cx="2416.7" cy="1400.5" r="16.2"/><circle cx="2399.9" cy="1419.7" r="16.2"/><circle cx="2375.9" cy="1429.3" r="16.2"/><circle cx="2456.6" cy="1412.5" r="16.2"/><circle cx="2454.2" cy="1429.3" r="16.2"/><circle cx="2423.9" cy="1438.9" r="16.2"/><circle cx="2438.4" cy="1460.6" r="16.2"/><circle cx="2459" cy="1461.5" r="16.2"/><circle cx="2380.7" cy="1491.8" r="16.2"/><circle cx="2378.3" cy="1523.1" r="16.2"/><circle cx="2430.2" cy="1527.9" r="16.2"/><circle cx="2397.5" cy="1555.8" r="16.2"/><circle cx="2411.9" cy="1551.9" r="16.2"/><circle cx="2424.9" cy="1554.3" r="16.2"/><circle cx="2364.8" cy="1593.8" r="16.2"/><circle cx="2409.5" cy="1591.3" r="16.2"/><circle cx="2379.7" cy="1637" r="16.2"/><circle cx="2429.7" cy="1749" r="16.2"/><circle cx="2448" cy="1798.6" r="16.2"/><circle cx="2444.1" cy="2051.9" r="16.2"/><circle cx="2442.1" cy="1050.8" r="16.2"/><circle cx="2414.7" cy="1143.2" r="16.2"/><circle cx="2405.2" cy="1069.6" r="16.2"/><circle cx="2388.1" cy="1307.1" r="16.2"/><circle cx="2415.6" cy="971.1" r="16.2"/><circle cx="2383.5" cy="1031.6" r="16.2"/><circle cx="2447.2" cy="970.4" r="16.2"/><circle cx="2443.7" cy="1196.4" r="16.2"/><circle cx="2393.5" cy="1061" r="16.2"/><circle cx="2363.8" cy="1286.8" r="16.2"/><circle cx="2450.1" cy="1282.1" r="16.2"/><circle cx="2391.2" cy="1314.4" r="16.2"/><circle cx="2427" cy="1048.9" r="16.2"/><circle cx="2447.2" cy="898.1" r="16.2"/><circle cx="2441.2" cy="1090.9" r="16.2"/><circle cx="2447.6" cy="1335.7" r="16.2"/><circle cx="2410.3" cy="1215.9" r="16.2"/><circle cx="2445.6" cy="951.8" r="16.2"/><circle cx="2407.5" cy="1193" r="16.2"/><circle cx="2387.7" cy="1299.4" r="16.2"/><circle cx="2409.4" cy="1340" r="16.2"/><circle cx="2394.9" cy="1197.9" r="16.2"/><circle cx="2438.1" cy="1261.9" r="16.2"/><circle cx="2444.5" cy="1249.6" r="16.2"/><circle cx="2375.5" cy="1081.7" r="16.2"/><circle cx="2377.8" cy="980.9" r="16.2"/><circle cx="2399.7" cy="1202.2" r="16.2"/><circle cx="2407.7" cy="1003.4" r="16.2"/><circle cx="2457" cy="1089.8" r="16.2"/><circle cx="2455.5" cy="1372.2" r="16.2"/><circle cx="2458" cy="1144.4" r="16.2"/><circle cx="2434.3" cy="1132.4" r="16.2"/><circle cx="2429.1" cy="1323.6" r="16.2"/><circle cx="2388.4" cy="1058.1" r="16.2"/><circle cx="2398.6" cy="1383.2" r="16.2"/><circle cx="2361.6" cy="1295.6" r="16.2"/><circle cx="2444.6" cy="1083.4" r="16.2"/><circle cx="2389" cy="1071.9" r="16.2"/><circle cx="2369.3" cy="997.7" r="16.2"/><circle cx="2392.9" cy="1298.3" r="16.2"/><circle cx="2393.7" cy="1023.9" r="16.2"/><circle cx="2433.7" cy="908.1" r="16.2"/><circle cx="2361.9" cy="1279.6" r="16.2"/><circle cx="2384.3" cy="1156.9" r="16.2"/><circle cx="2451" cy="1182.1" r="16.2"/><circle cx="2446.8" cy="1204.3" r="16.2"/><circle cx="2424.2" cy="938" r="16.2"/><circle cx="2417.2" cy="976.1" r="16.2"/><circle cx="2383.6" cy="1125.6" r="16.2"/><circle cx="2448.9" cy="944.3" r="16.2"/><circle cx="2437.4" cy="1127" r="16.2"/><circle cx="2412.6" cy="1205.5" r="16.2"/><circle cx="2377.4" cy="1177" r="16.2"/><circle cx="2382.9" cy="1163.1" r="16.2"/><circle cx="2399.3" cy="941.1" r="16.2"/><circle cx="2394.5" cy="1042.3" r="16.2"/><circle cx="2367.4" cy="1284.8" r="16.2"/><circle cx="2402" cy="995.8" r="16.2"/><circle cx="2406.2" cy="1136" r="16.2"/><circle cx="2390.1" cy="944.1" r="16.2"/><circle cx="2399.8" cy="1316.7" r="16.2"/><circle cx="2394.6" cy="1018.4" r="16.2"/><circle cx="2399" cy="1097.9" r="16.2"/><circle cx="2423.2" cy="1140.3" r="16.2"/><circle cx="2411.1" cy="1198.9" r="16.2"/><circle cx="2381.1" cy="1315.3" r="16.2"/><circle cx="2440.9" cy="1205.5" r="16.2"/><circle cx="2412.7" cy="1078.2" r="16.2"/><circle cx="2407.2" cy="964" r="16.2"/><circle cx="2432.7" cy="1194.8" r="16.2"/><circle cx="2436.6" cy="1344.2" r="16.2"/><circle cx="2446.2" cy="915.6" r="16.2"/><circle cx="2442.5" cy="1220.1" r="16.2"/><circle cx="2428.2" cy="1020.2" r="16.2"/><circle cx="2433.5" cy="1113.3" r="16.2"/><circle cx="2377.1" cy="1132.6" r="16.2"/><circle cx="2431.3" cy="1162.4" r="16.2"/><circle cx="2386.8" cy="1362.4" r="16.2"/><circle cx="2387.1" cy="1187.6" r="16.2"/><circle cx="2373.4" cy="1092.4" r="16.2"/><circle cx="2401" cy="1197.6" r="16.2"/><circle cx="2363.3" cy="1115.4" r="16.2"/><circle cx="2427" cy="1098.8" r="16.2"/><circle cx="2436.2" cy="1084" r="16.2"/><circle cx="2438.9" cy="1123.6" r="16.2"/><circle cx="2374.2" cy="1057.2" r="16.2"/><circle cx="2425.5" cy="1044.1" r="16.2"/><circle cx="2445.2" cy="1008.9" r="16.2"/><circle cx="2364.9" cy="1107.3" r="16.2"/><circle cx="2380.7" cy="1061" r="16.2"/><circle cx="2388.1" cy="1247.1" r="16.2"/><circle cx="2407.5" cy="1253" r="16.2"/><circle cx="2378.6" cy="1077.1" r="16.2"/><circle cx="2415.2" cy="1163.9" r="16.2"/><circle cx="2395.7" cy="1288.3" r="16.2"/><circle cx="2426.9" cy="1082" r="16.2"/><circle cx="2414.5" cy="1142.8" r="16.2"/><circle cx="2430" cy="1108.3" r="16.2"/><circle cx="2386" cy="1174.5" r="16.2"/><circle cx="2432.1" cy="1333.3" r="16.2"/><circle cx="2434.8" cy="1004.2" r="16.2"/><circle cx="2433.5" cy="1338" r="16.2"/><circle cx="2368.2" cy="1179.9" r="16.2"/><circle cx="2456" cy="1228.5" r="16.2"/><circle cx="2419" cy="1169.4" r="16.2"/><circle cx="2388.6" cy="1266.5" r="16.2"/><circle cx="2404.8" cy="1071.5" r="16.2"/><circle cx="2413.1" cy="1195" r="16.2"/><circle cx="2413.1" cy="1051.6" r="16.2"/><circle cx="2386.1" cy="1128.3" r="16.2"/><circle cx="2387.8" cy="1185.5" r="16.2"/><circle cx="2397.7" cy="1029.6" r="16.2"/><circle cx="2439.4" cy="953" r="16.2"/><circle cx="2405.1" cy="1226.5" r="16.2"/><circle cx="2365.2" cy="1234" r="16.2"/><circle cx="2406.6" cy="1179.9" r="16.2"/><circle cx="2381.5" cy="1070" r="16.2"/><circle cx="2362.6" cy="1177.3" r="16.2"/><circle cx="2459" cy="970.4" r="16.2"/><circle cx="2390.7" cy="1178.8" r="16.2"/><circle cx="2415.1" cy="1149.7" r="16.2"/><circle cx="2397.2" cy="1163.3" r="16.2"/><circle cx="2366.7" cy="1109.3" r="16.2"/><circle cx="2451.4" cy="1038.2" r="16.2"/><circle cx="2454.9" cy="1201.6" r="16.2"/><circle cx="2380" cy="1114.6" r="16.2"/><circle cx="2403.1" cy="1208.9" r="16.2"/><circle cx="2398.7" cy="1083.5" r="16.2"/><circle cx="2378.1" cy="973.2" r="16.2"/><circle cx="2427.5" cy="1138.9" r="16.2"/><circle cx="2439.5" cy="1165.2" r="16.2"/><circle cx="2437.3" cy="1303" r="16.2"/><circle cx="2428.9" cy="1278" r="16.2"/><circle cx="2363.1" cy="949.8" r="16.2"/><circle cx="2384.3" cy="1219" r="16.2"/><circle cx="2412.8" cy="1050.6" r="16.2"/><circle cx="2431.6" cy="1191.1" r="16.2"/><circle cx="2400" cy="1088.3" r="16.2"/><circle cx="2406.3" cy="1070.2" r="16.2"/><circle cx="2445.4" cy="1122" r="16.2"/><circle cx="2363.7" cy="1135.1" r="16.2"/><circle cx="2388.2" cy="1190.1" r="16.2"/><circle cx="2390.3" cy="1170.3" r="16.2"/><circle cx="2460.6" cy="1184.3" r="16.2"/><circle cx="2384.1" cy="1089.8" r="16.2"/><circle cx="2366.1" cy="1184" r="16.2"/><circle cx="2403" cy="1077.6" r="16.2"/><circle cx="2426.3" cy="1160" r="16.2"/><circle cx="2376.7" cy="1113.2" r="16.2"/><circle cx="2445.3" cy="1145.4" r="16.2"/><circle cx="2381" cy="916.1" r="16.2"/><circle cx="2431.8" cy="1125.3" r="16.2"/><circle cx="2377.5" cy="1036.4" r="16.2"/><circle cx="2449.5" cy="1090.3" r="16.2"/><circle cx="2381.5" cy="962.8" r="16.2"/><circle cx="2434.5" cy="1176.8" r="16.2"/><circle cx="2445.2" cy="1282" r="16.2"/><circle cx="2386.8" cy="1080.5" r="16.2"/><circle cx="2370.6" cy="984.8" r="16.2"/><circle cx="2420" cy="1164.3" r="16.2"/><circle cx="2411.2" cy="998" r="16.2"/><circle cx="2409.3" cy="1280.7" r="16.2"/><circle cx="2439.5" cy="995.4" r="16.2"/><circle cx="2407.7" cy="1082.8" r="16.2"/><circle cx="2411" cy="1124" r="16.2"/><circle cx="2410.1" cy="992.7" r="16.2"/><circle cx="2406.8" cy="1069.2" r="16.2"/><circle cx="2401.9" cy="1055.2" r="16.2"/><circle cx="2377.4" cy="1197" r="16.2"/><circle cx="2390.9" cy="1358.4" r="16.2"/><circle cx="2387.8" cy="1083.1" r="16.2"/><circle cx="2386.2" cy="1226.4" r="16.2"/><circle cx="2439.6" cy="1005.1" r="16.2"/><circle cx="2372.7" cy="1150.9" r="16.2"/><circle cx="2381.9" cy="1104.9" r="16.2"/><circle cx="2414" cy="1059.4" r="16.2"/><circle cx="2392.6" cy="1239.7" r="16.2"/><circle cx="2385.4" cy="1209.3" r="16.2"/><circle cx="2398.7" cy="1001.8" r="16.2"/><circle cx="2411.5" cy="1060.8" r="16.2"/><circle cx="2428.8" cy="1238.7" r="16.2"/><circle cx="2458.6" cy="1366.5" r="16.2"/><circle cx="2446.6" cy="1161.4" r="16.2"/><circle cx="2404.3" cy="1267.4" r="16.2"/><circle cx="2406.5" cy="1356" r="16.2"/><circle cx="2402.9" cy="1207.1" r="16.2"/><circle cx="2385.2" cy="1172.6" r="16.2"/><circle cx="2456.5" cy="1036.9" r="16.2"/><circle cx="2368.2" cy="1085.5" r="16.2"/><circle cx="2381.8" cy="1165.4" r="16.2"/><circle cx="2427.5" cy="1306.6" r="16.2"/><circle cx="2420.3" cy="1063.8" r="16.2"/><circle cx="2389.2" cy="1093.3" r="16.2"/><circle cx="2455" cy="920.3" r="16.2"/><circle cx="2402.3" cy="1190.9" r="16.2"/><circle cx="2421" cy="1108.3" r="16.2"/><circle cx="2370.4" cy="1229.3" r="16.2"/><circle cx="2450.4" cy="1041.2" r="16.2"/><circle cx="2371.6" cy="1177.8" r="16.2"/><circle cx="2400.7" cy="1182.5" r="16.2"/><circle cx="2449.9" cy="1114.7" r="16.2"/><circle cx="2455.8" cy="1024.9" r="16.2"/><circle cx="2451.7" cy="1095.7" r="16.2"/><circle cx="2444.1" cy="1208.7" r="16.2"/><circle cx="2384.7" cy="1025.1" r="16.2"/><circle cx="2364.5" cy="974.8" r="16.2"/><circle cx="2406.5" cy="1114.2" r="16.2"/><circle cx="2367.7" cy="1041.5" r="16.2"/><circle cx="2457.4" cy="1230.4" r="16.2"/><circle cx="2362.2" cy="1237.7" r="16.2"/><circle cx="2393.9" cy="1321.5" r="16.2"/><circle cx="2381.7" cy="1248.6" r="16.2"/><circle cx="2362.7" cy="1173.6" r="16.2"/><circle cx="2411.3" cy="1024.3" r="16.2"/><circle cx="2368.9" cy="1240.3" r="16.2"/><circle cx="2451.3" cy="1202.4" r="16.2"/><circle cx="2430.1" cy="1209.4" r="16.2"/><circle cx="2398.3" cy="1191.2" r="16.2"/><circle cx="2445.5" cy="1243.7" r="16.2"/><circle cx="2441" cy="1062.5" r="16.2"/><circle cx="2394" cy="1182.3" r="16.2"/><circle cx="2446.1" cy="1131" r="16.2"/><circle cx="2454.3" cy="1075.2" r="16.2"/><circle cx="2423.3" cy="1071.7" r="16.2"/><circle cx="2396.5" cy="1011.9" r="16.2"/><circle cx="2451.4" cy="1123" r="16.2"/><circle cx="2455.6" cy="1085" r="16.2"/><circle cx="2396.1" cy="1101.5" r="16.2"/><circle cx="2370" cy="1255.1" r="16.2"/><circle cx="2448.1" cy="1185.5" r="16.2"/><circle cx="2427.8" cy="1185" r="16.2"/><circle cx="2384.5" cy="1355.8" r="16.2"/><circle cx="2418" cy="1035.6" r="16.2"/><circle cx="2392.2" cy="1128.1" r="16.2"/><circle cx="2453.3" cy="976.5" r="16.2"/><circle cx="2395.6" cy="1092.5" r="16.2"/><circle cx="2381" cy="1325.6" r="16.2"/><circle cx="2365.7" cy="971.9" r="16.2"/><circle cx="2395.6" cy="1213.6" r="16.2"/><circle cx="2460.3" cy="1263.4" r="16.2"/><circle cx="2383.2" cy="1128.4" r="16.2"/><circle cx="2407.1" cy="1229.2" r="16.2"/><circle cx="2458.6" cy="1107.5" r="16.2"/><circle cx="2362" cy="1080.1" r="16.2"/><circle cx="2390.8" cy="1127.4" r="16.2"/><circle cx="2443.5" cy="1027.2" r="16.2"/><circle cx="2370.9" cy="1065.6" r="16.2"/><circle cx="2454.2" cy="1064.9" r="16.2"/><circle cx="2444.8" cy="1361" r="16.2"/><circle cx="2375.6" cy="1074.4" r="16.2"/><circle cx="2420.6" cy="1039.5" r="16.2"/><circle cx="2416.9" cy="1317.1" r="16.2"/><circle cx="2430.7" cy="1004.2" r="16.2"/><circle cx="2392" cy="1338.4" r="16.2"/><circle cx="2399.8" cy="1256" r="16.2"/><circle cx="2385.4" cy="1173.4" r="16.2"/><circle cx="2390.5" cy="1103.4" r="16.2"/><circle cx="2378.9" cy="1028.2" r="16.2"/><circle cx="2451.8" cy="985.5" r="16.2"/><circle cx="2450.1" cy="983.9" r="16.2"/><circle cx="2397.3" cy="1078.8" r="16.2"/><circle cx="2430.7" cy="1097" r="16.2"/><circle cx="2410.4" cy="1304.5" r="16.2"/><circle cx="2389.4" cy="1136.9" r="16.2"/><circle cx="2396.3" cy="1363.9" r="16.2"/><circle cx="2457.9" cy="1199.7" r="16.2"/><circle cx="2395.5" cy="1007.9" r="16.2"/><circle cx="2419.2" cy="1142.4" r="16.2"/><circle cx="2455.9" cy="1013.6" r="16.2"/><circle cx="2391.1" cy="935.1" r="16.2"/><circle cx="2442.2" cy="1320.3" r="16.2"/><circle cx="2372.8" cy="1075.2" r="16.2"/><circle cx="2434.7" cy="1025.3" r="16.2"/><circle cx="2442" cy="982.7" r="16.2"/><circle cx="2445.1" cy="1175.2" r="16.2"/><circle cx="2458.8" cy="1113.7" r="16.2"/><circle cx="2432.4" cy="910.6" r="16.2"/><circle cx="2459.1" cy="1197.6" r="16.2"/><circle cx="2389.2" cy="1049.1" r="16.2"/><circle cx="2413.5" cy="1222.4" r="16.2"/><circle cx="2382.8" cy="1122.1" r="16.2"/><circle cx="2369.7" cy="1136.7" r="16.2"/><circle cx="2405.2" cy="1112.5" r="16.2"/><circle cx="2433.3" cy="1183.5" r="16.2"/><circle cx="2439.2" cy="1363.1" r="16.2"/><circle cx="2363" cy="1229.3" r="16.2"/><circle cx="2455.6" cy="959.2" r="16.2"/><circle cx="2386.1" cy="1124" r="16.2"/><circle cx="2390.6" cy="1041.4" r="16.2"/><circle cx="2444.6" cy="983.1" r="16.2"/><circle cx="2450.8" cy="1027.4" r="16.2"/><circle cx="2435" cy="1046.2" r="16.2"/><circle cx="2394.6" cy="1333.3" r="16.2"/><circle cx="2407.6" cy="1208.7" r="16.2"/><circle cx="2444.8" cy="1255.8" r="16.2"/><circle cx="2397.1" cy="1191.7" r="16.2"/><circle cx="2441.9" cy="1068.2" r="16.2"/><circle cx="2439.5" cy="1092" r="16.2"/><circle cx="2408.2" cy="1107.4" r="16.2"/><circle cx="2451" cy="1061.1" r="16.2"/><circle cx="2399.8" cy="1101.4" r="16.2"/><circle cx="2436.3" cy="1218.8" r="16.2"/><circle cx="2425.3" cy="964.3" r="16.2"/><circle cx="2394.5" cy="1055.7" r="16.2"/><circle cx="2414.5" cy="1119.2" r="16.2"/><circle cx="2421.9" cy="1183.6" r="16.2"/><circle cx="2415" cy="1173.1" r="16.2"/><circle cx="2372.4" cy="1201.2" r="16.2"/><circle cx="2460.5" cy="984.9" r="16.2"/><circle cx="2458" cy="1021.9" r="16.2"/><circle cx="2365.1" cy="1066.1" r="16.2"/><circle cx="2455.8" cy="1057.3" r="16.2"/><circle cx="2414.5" cy="1212.8" r="16.2"/><circle cx="2373.9" cy="1367.9" r="16.2"/><circle cx="2443.4" cy="1186.1" r="16.2"/><circle cx="2404.6" cy="929.8" r="16.2"/><circle cx="2432.7" cy="1062.4" r="16.2"/><circle cx="2444.1" cy="1231.5" r="16.2"/><circle cx="2415.1" cy="1305" r="16.2"/><circle cx="2366.3" cy="1155.9" r="16.2"/><circle cx="2443.6" cy="1078.7" r="16.2"/><circle cx="2430.7" cy="1080.7" r="16.2"/><circle cx="2452.4" cy="1168.8" r="16.2"/><circle cx="2388.4" cy="1262.6" r="16.2"/><circle cx="2439.9" cy="1076.2" r="16.2"/><circle cx="2448.7" cy="1025.7" r="16.2"/><circle cx="2396.8" cy="901.8" r="16.2"/><circle cx="2402.4" cy="1003.6" r="16.2"/><circle cx="2394.7" cy="1254.8" r="16.2"/><circle cx="2361.9" cy="1165.8" r="16.2"/><circle cx="2384.5" cy="1363.9" r="16.2"/><circle cx="2394.5" cy="959.5" r="16.2"/><circle cx="2372.2" cy="1084.1" r="16.2"/><circle cx="2437.9" cy="1228.4" r="16.2"/><circle cx="2404" cy="1178.3" r="16.2"/><circle cx="2418.2" cy="957.3" r="16.2"/><circle cx="2389.8" cy="1095.2" r="16.2"/><circle cx="2397.4" cy="1170.2" r="16.2"/><circle cx="2436.7" cy="1187.7" r="16.2"/><circle cx="2408.3" cy="1110.8" r="16.2"/><circle cx="2421" cy="1024.8" r="16.2"/><circle cx="2403.6" cy="1338.5" r="16.2"/><circle cx="2417" cy="1115.4" r="16.2"/><circle cx="2451.1" cy="1198.4" r="16.2"/><circle cx="2388.1" cy="1136.5" r="16.2"/><circle cx="2413.2" cy="968" r="16.2"/><circle cx="2430.1" cy="1042.3" r="16.2"/><circle cx="2370" cy="954.5" r="16.2"/><circle cx="2457.5" cy="1025.7" r="16.2"/><circle cx="2411.2" cy="1029.2" r="16.2"/><circle cx="2385.9" cy="1099.4" r="16.2"/><circle cx="2437.4" cy="1070.1" r="16.2"/><circle cx="2442.9" cy="1083" r="16.2"/><circle cx="2424.4" cy="1237.5" r="16.2"/><circle cx="2453" cy="919.5" r="16.2"/><circle cx="2370.2" cy="983.8" r="16.2"/>
</g>
</g>
<rect x="1882.7" y="194.3" width="728" height="138.5" fill="#d9d9d9"/>
<path d="M1882.7 194.3H2610.7V2134.8H1882.7ZM1886.7 198.1V332.8H2605.7V198.1ZM1886.7 340.6V2129.8H2605.7V340.6Z" fill="#333" fill-rule="evenodd"/>
<text x="2246.2" y="292.5" text-anchor="middle" class="t" font-size="73.3" fill="#1a1a1a">Dokumentar2021</text>
<path d="M2081.1 2134v22.9" stroke="#333" stroke-width="7.6"/>
<text x="2081.1" y="2229.8" text-anchor="middle" class="t" font-size="73.3" fill="#4d4d4d">Start</text>
<path d="M2411.3 2134v22.9" stroke="#333" stroke-width="7.6"/>
<text x="2411.3" y="2229.8" text-anchor="middle" class="t" font-size="73.3" fill="#4d4d4d">Slutt</text>
<g clip-path="url(#c3)">
<path d="M2655.3 621.3H3381.8M2655.3 1042.1H3381.8M2655.3 1462.8H3381.8M2655.3 1883.6H3381.8" stroke="#ebebeb" stroke-width="3.8" fill="none"/>
<path d="M2655.3 410.9H3381.8M2655.3 831.7H3381.8M2655.3 1252.5H3381.8M2655.3 1673.2H3381.8M2655.3 2094H3381.8M2853.4 336.7V2134M3183.7 336.7V2134" stroke="#ebebeb" stroke-width="7.6" fill="none"/>
<path d="M2837.3 545.7L2837.6 548.7L2837.8 551.7L2838.1 554.7L2838.5 557.7L2838.8 560.7L2839.1 563.7L2839.5 566.7L2839.9 569.7L2840.3 572.7L2840.7 575.7L2841.2 578.7L2841.7 581.7L2842.3 584.7L2842.8 587.7L2843.3 590.7L2843.7 593.7L2844.1 596.7L2844.5 599.7L2844.8 602.7L2845.2 605.7L2845.5 608.7L2845.8 611.7L2846 614.7L2846.2 617.7L2846.2 620.7L2846.1 623.7L2846 626.7L2845.8 629.7L2845.6 632.7L2845.4 635.7L2845.1 638.7L2844.8 641.7L2844.5 644.7L2844.1 647.7L2843.6 650.7L2843 653.7L2842.4 656.7L2841.7 659.7L2841 662.7L2840.3 665.7L2839.6 668.7L2838.9 671.7L2838.1 674.7L2837.2 677.7L2836.4 680.7L2835.5 683.7L2834.6 686.7L2833.7 689.7L2832.9 692.7L2832 695.7L2831.1 698.7L2830.2 701.7L2829.3 704.7L2828.4 707.7L2827.5 710.7L2826.6 713.7L2825.7 716.7L2824.8 719.7L2823.9 722.7L2823 725.7L2822.1 728.7L2821.2 731.7L2820.3 734.7L2819.4 737.7L2818.5 740.7L2817.5 743.7L2816.6 746.7L2815.7 749.7L2814.8 752.7L2813.8 755.7L2812.9 758.7L2812.1 761.7L2811.3 764.7L2810.5 767.7L2809.7 770.7L2809 773.7L2808.2 776.7L2807.5 779.7L2806.9 782.7L2806.2 785.7L2805.5 788.7L2804.9 791.7L2804.2 794.7L2803.6 797.7L2803 800.7L2802.4 803.7L2801.8 806.7L2801.3 809.7L2800.7 812.7L2800.2 815.7L2799.8 818.7L2799.4 821.7L2798.9 824.7L2798.5 827.7L2798 830.7L2797.5 833.7L2796.9 836.7L2796.1 839.7L2795.3 842.7L2794.3 845.7L2793.2 848.7L2792 851.7L2790.9 854.7L2789.7 857.7L2788.5 860.7L2787.3 863.7L2786.1 866.7L2784.8 869.7L2783.3 872.7L2781.4 875.7L2778.9 878.7L2776.1 881.7L2773.3 884.7L2770.6 887.7L2767.8 890.7L2765.1 893.7L2762.3 896.7L2759.5 899.7L2756.7 902.7L2753.9 905.7L2751.2 908.7L2748.5 911.7L2745.8 914.7L2743.1 917.7L2740.4 920.7L2737.7 923.7L2735.1 926.7L2732.5 929.7L2730.1 932.7L2727.6 935.7L2725.1 938.7L2722.6 941.7L2720.2 944.7L2717.9 947.7L2715.7 950.7L2713.9 953.7L2712.3 956.7L2710.9 959.7L2709.5 962.7L2708.2 965.7L2707 968.7L2705.9 971.7L2705.1 974.7L2704.6 977.7L2704.4 980.7L2704.5 983.7L2705.1 986.7L2705.9 989.7L2706.9 992.7L2708.2 995.7L2709.6 998.7L2711.1 1001.7L2712.7 1004.7L2714.7 1007.7L2717.2 1010.7L2720.3 1013.7L2723.8 1016.7L2727.6 1019.7L2731.6 1022.7L2735.6 1025.7L2739.5 1028.7L2743.6 1031.7L2748 1034.7L2752.7 1037.7L2757.4 1040.7L2762 1043.7L2766.3 1046.7L2770.1 1049.7L2773.9 1052.7L2777.6 1055.7L2781.2 1058.7L2784.6 1061.7L2787.8 1064.7L2790.7 1067.7L2793.4 1070.7L2795.7 1073.7L2797.9 1076.7L2799.9 1079.7L2801.8 1082.7L2803.5 1085.7L2805.2 1088.7L2806.7 1091.7L2808.2 1094.7L2809.7 1097.7L2811 1100.7L2812.3 1103.7L2813.5 1106.7L2814.6 1109.7L2815.8 1112.7L2816.9 1115.7L2818 1118.7L2819.1 1121.7L2820.2 1124.7L2821.3 1127.7L2822.4 1130.7L2823.4 1133.7L2824.5 1136.7L2825.5 1139.7L2826.5 1142.7L2827.4 1145.7L2828.5 1148.7L2829.5 1151.7L2830.6 1154.7L2831.6 1157.7L2832.5 1160.7L2833.2 1163.7L2833.7 1166.7L2834.1 1169.7L2834.4 1172.7L2834.6 1175.7L2834.8 1178.7L2835 1181.7L2835.2 1184.7L2835.3 1187.7L2835.4 1190.7L2835.4 1193.7L2835.4 1196.7L2835.4 1199.7L2835.4 1202.7L2835.4 1205.7L2835.4 1208.7L2835.4 1211.7L2835.4 1214.7L2835.4 1217.7L2835.6 1220.7L2836 1223.7L2836.5 1226.7L2837 1229.7L2837.7 1232.7L2838.3 1235.7L2838.9 1238.7L2839.5 1241.7L2840 1244.7L2840.6 1247.7L2841.2 1250.7L2841.8 1253.7L2842.4 1256.7L2843.1 1259.7L2843.7 1262.7L2844.3 1265.7L2844.9 1268.7L2845.5 1271.7L2846.1 1274.7L2846.7 1277.7L2847.3 1280.7L2847.9 1283.7L2848.5 1286.7L2849.1 1289.7L2849.7 1292.7L2850.4 1295.7L2851.1 1298.7L2851.7 1301.7L2852.3 1304.7L2852.7 1307.7L2852.9 1310.7L2852.9 1313.7L2852.7 1316.7L2852.1 1319.7L2851.3 1322.7L2850.5 1325.7L2849.6 1328.7L2848.6 1331.7L2847.8 1334.7L2847.1 1337.7L2846.5 1340.7L2845.9 1343.7L2845.3 1346.7L2844.7 1349.7L2844.1 1352.7L2843.5 1355.7L2842.9 1358.7L2842.4 1361.7L2841.8 1364.7L2841.2 1367.7L2840.5 1370.7L2839.9 1373.7L2839.4 1376.7L2838.9 1379.7L2838.5 1382.7L2838.2 1385.7L2837.8 1388.7L2837.6 1391.7L2837.3 1394.7L2837 1397.7L2836.8 1400.7L2836.7 1403.7L2836.6 1406.7L2836.6 1408.7L2870.2 1408.7L2870.2 1406.7L2870.1 1403.7L2870 1400.7L2869.8 1397.7L2869.5 1394.7L2869.3 1391.7L2869 1388.7L2868.7 1385.7L2868.3 1382.7L2867.9 1379.7L2867.4 1376.7L2866.9 1373.7L2866.3 1370.7L2865.7 1367.7L2865 1364.7L2864.4 1361.7L2863.9 1358.7L2863.3 1355.7L2862.7 1352.7L2862.1 1349.7L2861.5 1346.7L2860.9 1343.7L2860.3 1340.7L2859.7 1337.7L2859 1334.7L2858.2 1331.7L2857.3 1328.7L2856.3 1325.7L2855.5 1322.7L2854.7 1319.7L2854.2 1316.7L2853.9 1313.7L2853.9 1310.7L2854.1 1307.7L2854.5 1304.7L2855.1 1301.7L2855.7 1298.7L2856.4 1295.7L2857.1 1292.7L2857.7 1289.7L2858.3 1286.7L2858.9 1283.7L2859.5 1280.7L2860.1 1277.7L2860.7 1274.7L2861.3 1271.7L2861.9 1268.7L2862.5 1265.7L2863.1 1262.7L2863.7 1259.7L2864.4 1256.7L2865 1253.7L2865.6 1250.7L2866.2 1247.7L2866.8 1244.7L2867.4 1241.7L2867.9 1238.7L2868.5 1235.7L2869.1 1232.7L2869.8 1229.7L2870.4 1226.7L2870.9 1223.7L2871.2 1220.7L2871.4 1217.7L2871.4 1214.7L2871.4 1211.7L2871.4 1208.7L2871.4 1205.7L2871.4 1202.7L2871.4 1199.7L2871.4 1196.7L2871.4 1193.7L2871.4 1190.7L2871.5 1187.7L2871.6 1184.7L2871.8 1181.7L2872 1178.7L2872.2 1175.7L2872.5 1172.7L2872.7 1169.7L2873.1 1166.7L2873.6 1163.7L2874.4 1160.7L2875.2 1157.7L2876.2 1154.7L2877.3 1151.7L2878.3 1148.7L2879.4 1145.7L2880.3 1142.7L2881.3 1139.7L2882.3 1136.7L2883.4 1133.7L2884.4 1130.7L2885.5 1127.7L2886.6 1124.7L2887.7 1121.7L2888.8 1118.7L2889.9 1115.7L2891 1112.7L2892.2 1109.7L2893.3 1106.7L2894.5 1103.7L2895.8 1100.7L2897.1 1097.7L2898.6 1094.7L2900.1 1091.7L2901.6 1088.7L2903.3 1085.7L2905.1 1082.7L2906.9 1079.7L2908.9 1076.7L2911.1 1073.7L2913.4 1070.7L2916.1 1067.7L2919 1064.7L2922.2 1061.7L2925.7 1058.7L2929.2 1055.7L2932.9 1052.7L2936.7 1049.7L2940.5 1046.7L2944.8 1043.7L2949.4 1040.7L2954.1 1037.7L2958.8 1034.7L2963.2 1031.7L2967.3 1028.7L2971.2 1025.7L2975.2 1022.7L2979.2 1019.7L2983 1016.7L2986.5 1013.7L2989.6 1010.7L2992.2 1007.7L2994.1 1004.7L2995.7 1001.7L2997.2 998.7L2998.6 995.7L2999.9 992.7L3000.9 989.7L3001.7 986.7L3002.3 983.7L3002.4 980.7L3002.2 977.7L3001.7 974.7L3000.9 971.7L2999.8 968.7L2998.6 965.7L2997.3 962.7L2995.9 959.7L2994.5 956.7L2992.9 953.7L2991.1 950.7L2989 947.7L2986.7 944.7L2984.2 941.7L2981.7 938.7L2979.2 935.7L2976.7 932.7L2974.3 929.7L2971.7 926.7L2969.1 923.7L2966.5 920.7L2963.8 917.7L2961 914.7L2958.3 911.7L2955.6 908.7L2952.9 905.7L2950.1 902.7L2947.3 899.7L2944.5 896.7L2941.7 893.7L2939 890.7L2936.2 887.7L2933.5 884.7L2930.7 881.7L2927.9 878.7L2925.4 875.7L2923.6 872.7L2922 869.7L2920.7 866.7L2919.5 863.7L2918.4 860.7L2917.2 857.7L2916 854.7L2914.8 851.7L2913.6 848.7L2912.5 845.7L2911.6 842.7L2910.7 839.7L2909.9 836.7L2909.3 833.7L2908.8 830.7L2908.3 827.7L2907.9 824.7L2907.5 821.7L2907 818.7L2906.6 815.7L2906.1 812.7L2905.5 809.7L2905 806.7L2904.4 803.7L2903.8 800.7L2903.2 797.7L2902.6 794.7L2901.9 791.7L2901.3 788.7L2900.6 785.7L2900 782.7L2899.3 779.7L2898.6 776.7L2897.8 773.7L2897.1 770.7L2896.3 767.7L2895.5 764.7L2894.7 761.7L2893.9 758.7L2893 755.7L2892.1 752.7L2891.1 749.7L2890.2 746.7L2889.3 743.7L2888.4 740.7L2887.5 737.7L2886.6 734.7L2885.7 731.7L2884.8 728.7L2883.9 725.7L2883 722.7L2882.1 719.7L2881.2 716.7L2880.3 713.7L2879.3 710.7L2878.4 707.7L2877.5 704.7L2876.6 701.7L2875.7 698.7L2874.8 695.7L2874 692.7L2873.1 689.7L2872.2 686.7L2871.3 683.7L2870.4 680.7L2869.6 677.7L2868.7 674.7L2867.9 671.7L2867.2 668.7L2866.5 665.7L2865.8 662.7L2865.1 659.7L2864.4 656.7L2863.8 653.7L2863.2 650.7L2862.7 647.7L2862.4 644.7L2862 641.7L2861.7 638.7L2861.4 635.7L2861.2 632.7L2861 629.7L2860.8 626.7L2860.7 623.7L2860.6 620.7L2860.7 617.7L2860.8 614.7L2861 611.7L2861.3 608.7L2861.6 605.7L2862 602.7L2862.4 599.7L2862.7 596.7L2863.1 593.7L2863.5 590.7L2864 587.7L2864.6 584.7L2865.1 581.7L2865.6 578.7L2866.1 575.7L2866.6 572.7L2866.9 569.7L2867.3 566.7L2867.7 563.7L2868 560.7L2868.4 557.7L2868.7 554.7L2869 551.7L2869.3 548.7L2869.5 545.7Z" fill="#fff" stroke="#333" stroke-width="7.6" stroke-linejoin="miter"/>
<path d="M2782.5 874H2924.3M2709.6 962.5H2997.2M2746.5 1033.7H2960.3" stroke="#333" stroke-width="7.6" fill="none"/>
<path d="M3150.5 764.9L3150.4 767.9L3150.2 770.9L3149.9 773.9L3149.4 776.9L3148.9 779.9L3148.4 782.9L3147.8 785.9L3147.2 788.9L3146.6 791.9L3146.1 794.9L3145.7 797.9L3145.2 800.9L3144.7 803.9L3144.3 806.9L3143.8 809.9L3143.3 812.9L3142.8 815.9L3142.3 818.9L3141.8 821.9L3141.3 824.9L3140.8 827.9L3140.3 830.9L3139.7 833.9L3139.1 836.9L3138.5 839.9L3137.8 842.9L3137.1 845.9L3136.2 848.9L3135.3 851.9L3134.3 854.9L3133.2 857.9L3132.1 860.9L3130.9 863.9L3129.7 866.9L3128.4 869.9L3127.1 872.9L3125.6 875.9L3124.1 878.9L3122.5 881.9L3120.9 884.9L3119.4 887.9L3117.8 890.9L3116.3 893.9L3114.7 896.9L3113.2 899.9L3111.6 902.9L3110 905.9L3108.5 908.9L3107 911.9L3105.5 914.9L3104.1 917.9L3102.7 920.9L3101.4 923.9L3100.1 926.9L3098.8 929.9L3097.5 932.9L3096.2 935.9L3094.9 938.9L3093.6 941.9L3092.2 944.9L3090.7 947.9L3089.2 950.9L3087.8 953.9L3086.4 956.9L3085.1 959.9L3084 962.9L3082.9 965.9L3082 968.9L3081.1 971.9L3080.2 974.9L3079.4 977.9L3078.6 980.9L3078 983.9L3077.4 986.9L3077 989.9L3076.5 992.9L3076.1 995.9L3075.7 998.9L3075.4 1001.9L3075.1 1004.9L3074.9 1007.9L3074.8 1010.9L3074.8 1013.9L3074.9 1016.9L3075 1019.9L3075.3 1022.9L3075.5 1025.9L3075.8 1028.9L3076.1 1031.9L3076.5 1034.9L3077 1037.9L3077.6 1040.9L3078.4 1043.9L3079.2 1046.9L3080.1 1049.9L3081 1052.9L3081.9 1055.9L3082.9 1058.9L3083.9 1061.9L3084.9 1064.9L3086 1067.9L3087.2 1070.9L3088.5 1073.9L3089.7 1076.9L3091 1079.9L3092.3 1082.9L3093.6 1085.9L3094.9 1088.9L3096.3 1091.9L3097.6 1094.9L3099 1097.9L3100.4 1100.9L3101.8 1103.9L3103.1 1106.9L3104.4 1109.9L3105.7 1112.9L3107 1115.9L3108.2 1118.9L3109.5 1121.9L3110.7 1124.9L3111.9 1127.9L3113.1 1130.9L3114.3 1133.9L3115.5 1136.9L3116.7 1139.9L3117.8 1142.9L3119 1145.9L3120.1 1148.9L3121.2 1151.9L3122.2 1154.9L3123.2 1157.9L3124.2 1160.9L3125.2 1163.9L3126.2 1166.9L3127.1 1169.9L3128 1172.9L3128.8 1175.9L3129.6 1178.9L3130.3 1181.9L3131.1 1184.9L3131.7 1187.9L3132.4 1190.9L3133 1193.9L3133.6 1196.9L3134.2 1199.9L3134.8 1202.9L3135.3 1205.9L3135.8 1208.9L3136.2 1211.9L3136.7 1214.9L3137.1 1217.9L3137.5 1220.9L3137.9 1223.9L3138.4 1226.9L3138.9 1229.9L3139.4 1232.9L3140 1235.9L3140.5 1238.9L3141.1 1241.9L3141.7 1244.9L3142.3 1247.9L3143 1250.9L3143.8 1253.9L3144.6 1256.9L3145.6 1259.9L3146.6 1262.9L3147.7 1265.9L3148.8 1268.9L3149.9 1271.9L3151 1274.9L3152 1277.9L3153.1 1280.9L3154.2 1283.9L3155.3 1286.9L3156.4 1289.9L3157.5 1292.9L3158.5 1295.9L3159.6 1298.9L3160.7 1301.9L3161.8 1304.9L3162.8 1307.9L3163.9 1310.9L3165 1313.9L3166.1 1316.9L3167.1 1319.9L3168.1 1322.9L3169.1 1325.9L3170 1328.9L3170.9 1331.9L3171.9 1334.9L3172.8 1337.9L3173.6 1340.9L3174.4 1343.9L3175.2 1346.9L3175.9 1349.9L3176.6 1352.9L3177.3 1355.9L3177.9 1358.9L3178.5 1361.9L3179.1 1364.9L3179.6 1367.9L3180.2 1370.9L3180.7 1373.9L3181.3 1376.9L3181.8 1379.9L3182.4 1382.9L3182.8 1385.9L3183.1 1388.9L3183.1 1391.9L3183.1 1394.9L3183.1 1397.9L3183.1 1400.9L3183.1 1403.9L3183.1 1406.9L3183.1 1409.9L3183.1 1412.9L3183.1 1415.9L3183.1 1418.9L3183.1 1421.9L3183.1 1424.9L3183.1 1427.9L3183.1 1430.9L3183.1 1433.9L3183.1 1436.9L3183.1 1439.9L3183 1442.9L3182.8 1445.9L3182.5 1448.9L3182.1 1451.9L3181.8 1454.9L3181.4 1457.9L3181 1460.9L3180.6 1463.9L3180.2 1466.9L3179.7 1469.9L3179.2 1472.9L3178.7 1475.9L3178.2 1478.9L3177.7 1481.9L3177.2 1484.9L3176.7 1487.9L3176.3 1490.9L3175.8 1493.9L3175.4 1496.9L3175 1499.9L3174.6 1502.9L3174.2 1505.9L3173.8 1508.9L3173.4 1511.9L3173.1 1514.9L3172.7 1517.9L3172.4 1520.9L3172 1523.9L3171.7 1526.9L3171.5 1529.9L3171.3 1532.9L3171.1 1535.9L3171 1538.9L3170.9 1541.9L3170.8 1544.9L3170.7 1547.9L3170.7 1550L3196.7 1550L3196.6 1547.9L3196.6 1544.9L3196.5 1541.9L3196.4 1538.9L3196.2 1535.9L3196.1 1532.9L3195.9 1529.9L3195.6 1526.9L3195.3 1523.9L3195 1520.9L3194.6 1517.9L3194.3 1514.9L3193.9 1511.9L3193.6 1508.9L3193.2 1505.9L3192.8 1502.9L3192.4 1499.9L3191.9 1496.9L3191.5 1493.9L3191.1 1490.9L3190.6 1487.9L3190.2 1484.9L3189.7 1481.9L3189.2 1478.9L3188.6 1475.9L3188.1 1472.9L3187.6 1469.9L3187.2 1466.9L3186.7 1463.9L3186.4 1460.9L3186 1457.9L3185.6 1454.9L3185.2 1451.9L3184.9 1448.9L3184.6 1445.9L3184.4 1442.9L3184.3 1439.9L3184.3 1436.9L3184.3 1433.9L3184.3 1430.9L3184.3 1427.9L3184.3 1424.9L3184.3 1421.9L3184.3 1418.9L3184.3 1415.9L3184.3 1412.9L3184.3 1409.9L3184.3 1406.9L3184.3 1403.9L3184.3 1400.9L3184.3 1397.9L3184.3 1394.9L3184.3 1391.9L3184.3 1388.9L3184.5 1385.9L3185 1382.9L3185.5 1379.9L3186.1 1376.9L3186.7 1373.9L3187.2 1370.9L3187.7 1367.9L3188.3 1364.9L3188.8 1361.9L3189.4 1358.9L3190.1 1355.9L3190.7 1352.9L3191.4 1349.9L3192.1 1346.9L3192.9 1343.9L3193.7 1340.9L3194.6 1337.9L3195.5 1334.9L3196.4 1331.9L3197.3 1328.9L3198.3 1325.9L3199.3 1322.9L3200.3 1319.9L3201.3 1316.9L3202.3 1313.9L3203.4 1310.9L3204.5 1307.9L3205.6 1304.9L3206.7 1301.9L3207.7 1298.9L3208.8 1295.9L3209.9 1292.9L3211 1289.9L3212.1 1286.9L3213.2 1283.9L3214.2 1280.9L3215.3 1277.9L3216.4 1274.9L3217.5 1271.9L3218.6 1268.9L3219.7 1265.9L3220.7 1262.9L3221.8 1259.9L3222.7 1256.9L3223.6 1253.9L3224.3 1250.9L3225 1247.9L3225.6 1244.9L3226.3 1241.9L3226.8 1238.9L3227.4 1235.9L3227.9 1232.9L3228.4 1229.9L3228.9 1226.9L3229.4 1223.9L3229.8 1220.9L3230.3 1217.9L3230.7 1214.9L3231.1 1211.9L3231.6 1208.9L3232 1205.9L3232.6 1202.9L3233.1 1199.9L3233.7 1196.9L3234.3 1193.9L3234.9 1190.9L3235.6 1187.9L3236.3 1184.9L3237 1181.9L3237.8 1178.9L3238.6 1175.9L3239.4 1172.9L3240.3 1169.9L3241.2 1166.9L3242.1 1163.9L3243.1 1160.9L3244.1 1157.9L3245.1 1154.9L3246.2 1151.9L3247.3 1148.9L3248.4 1145.9L3249.5 1142.9L3250.7 1139.9L3251.9 1136.9L3253 1133.9L3254.2 1130.9L3255.4 1127.9L3256.6 1124.9L3257.9 1121.9L3259.1 1118.9L3260.4 1115.9L3261.7 1112.9L3262.9 1109.9L3264.2 1106.9L3265.6 1103.9L3266.9 1100.9L3268.3 1097.9L3269.7 1094.9L3271.1 1091.9L3272.4 1088.9L3273.7 1085.9L3275 1082.9L3276.3 1079.9L3277.6 1076.9L3278.9 1073.9L3280.1 1070.9L3281.3 1067.9L3282.4 1064.9L3283.5 1061.9L3284.4 1058.9L3285.4 1055.9L3286.4 1052.9L3287.3 1049.9L3288.2 1046.9L3289 1043.9L3289.7 1040.9L3290.3 1037.9L3290.8 1034.9L3291.2 1031.9L3291.5 1028.9L3291.8 1025.9L3292.1 1022.9L3292.3 1019.9L3292.5 1016.9L3292.6 1013.9L3292.6 1010.9L3292.4 1007.9L3292.2 1004.9L3292 1001.9L3291.6 998.9L3291.2 995.9L3290.8 992.9L3290.4 989.9L3289.9 986.9L3289.4 983.9L3288.7 980.9L3288 977.9L3287.2 974.9L3286.3 971.9L3285.4 968.9L3284.4 965.9L3283.4 962.9L3282.2 959.9L3280.9 956.9L3279.6 953.9L3278.1 950.9L3276.7 947.9L3275.2 944.9L3273.8 941.9L3272.4 938.9L3271.1 935.9L3269.8 932.9L3268.6 929.9L3267.3 926.9L3266 923.9L3264.6 920.9L3263.2 917.9L3261.8 914.9L3260.4 911.9L3258.8 908.9L3257.3 905.9L3255.7 902.9L3254.2 899.9L3252.6 896.9L3251.1 893.9L3249.5 890.9L3248 887.9L3246.4 884.9L3244.8 881.9L3243.3 878.9L3241.7 875.9L3240.3 872.9L3238.9 869.9L3237.7 866.9L3236.5 863.9L3235.3 860.9L3234.1 857.9L3233.1 854.9L3232 851.9L3231.1 848.9L3230.3 845.9L3229.5 842.9L3228.8 839.9L3228.2 836.9L3227.6 833.9L3227.1 830.9L3226.6 827.9L3226.1 824.9L3225.6 821.9L3225 818.9L3224.5 815.9L3224 812.9L3223.5 809.9L3223.1 806.9L3222.6 803.9L3222.1 800.9L3221.7 797.9L3221.2 794.9L3220.7 791.9L3220.1 788.9L3219.6 785.9L3219 782.9L3218.4 779.9L3217.9 776.9L3217.5 773.9L3217.1 770.9L3216.9 767.9L3216.8 764.9Z" fill="#fff" stroke="#333" stroke-width="7.6" stroke-linejoin="miter"/>
<path d="M3093.6 941.8H3273.7M3076.2 1032.7H3291.1M3115.1 1136H3252.2" stroke="#333" stroke-width="7.6" fill="none"/>
<g fill="#000" fill-opacity=".2" stroke="#000" stroke-opacity=".2" stroke-width="4.6">
<circle cx="2889.1" cy="546.6" r="16.2"/><circle cx="2830.5" cy="707.7" r="16.2"/><circle cx="2849.7" cy="762" r="16.2"/><circle cx="2900.2" cy="803.8" r="16.2"/><circle cx="2818.5" cy="824.5" r="16.2"/><circle cx="2839.1" cy="868.8" r="16.2"/><circle cx="2817.5" cy="912" r="16.2"/><circle cx="2846.3" cy="913.5" r="16.2"/><circle cx="2862.7" cy="921.6" r="16.2"/><circle cx="2816.1" cy="943.3" r="16.2"/><circle cx="2901.2" cy="946.2" r="16.2"/><circle cx="2828.1" cy="967.3" r="16.2"/><circle cx="2881" cy="979.8" r="16.2"/><circle cx="2832.9" cy="1002.4" r="16.2"/><circle cx="2834.3" cy="1003.8" r="16.2"/><circle cx="2860.8" cy="1004.8" r="16.2"/><circle cx="2885.8" cy="1003.8" r="16.2"/><circle cx="2876.2" cy="1018.3" r="16.2"/><circle cx="2853.1" cy="1025" r="16.2"/><circle cx="2864.1" cy="1114.4" r="16.2"/><circle cx="2892" cy="1109.6" r="16.2"/><circle cx="2856" cy="1226.9" r="16.2"/><circle cx="2888.2" cy="1408.7" r="16.2"/><circle cx="3189.3" cy="764.9" r="16.2"/><circle cx="3231.6" cy="795.2" r="16.2"/><circle cx="3190.3" cy="813.9" r="16.2"/><circle cx="3177.3" cy="886.1" r="16.2"/><circle cx="3173.5" cy="945.2" r="16.2"/><circle cx="3174.9" cy="947.6" r="16.2"/><circle cx="3172.5" cy="946.6" r="16.2"/><circle cx="3219.6" cy="944.2" r="16.2"/><circle cx="3191.7" cy="971.6" r="16.2"/><circle cx="3178.8" cy="1014.9" r="16.2"/><circle cx="3204.7" cy="1017.3" r="16.2"/><circle cx="3151.8" cy="1038.9" r="16.2"/><circle cx="3221.5" cy="1029.3" r="16.2"/><circle cx="3220.6" cy="1038.9" r="16.2"/><circle cx="3148.5" cy="1095.7" r="16.2"/><circle cx="3195.1" cy="1094.2" r="16.2"/><circle cx="3181.2" cy="1112" r="16.2"/><circle cx="3232.6" cy="1108.7" r="16.2"/><circle cx="3214.3" cy="1148.6" r="16.2"/><circle cx="3164.3" cy="1237" r="16.2"/><circle cx="3227.8" cy="1239.4" r="16.2"/><circle cx="3162.9" cy="1259.1" r="16.2"/><circle cx="3144.6" cy="1550" r="16.2"/>
</g>
</g>
<rect x="2655" y="194.3" width="728" height="138.5" fill="#d9d9d9"/>
<path d="M2655 194.3H3383V2134.8H2655ZM2659 198.1V332.8H3378V198.1ZM2659 340.6V2129.8H3378V340.6Z" fill="#333" fill-rule="evenodd"/>
<text x="3018.5" y="292.5" text-anchor="middle" class="t" font-size="73.3" fill="#1a1a1a">Lys1</text>
<path d="M2853.4 2134v22.9" stroke="#333" stroke-width="7.6"/>
<text x="2853.4" y="2229.8" text-anchor="middle" class="t" font-size="73.3" fill="#4d4d4d">Start</text>
<path d="M3183.7 2134v22.9" stroke="#333" stroke-width="7.6"/>
<text x="3183.7" y="2229.8" text-anchor="middle" class="t" font-size="73.3" fill="#4d4d4d">Slutt</text>
<g clip-path="url(#c4)">
<path d="M3427.6 621.3H4154.1M3427.6 1042.1H4154.1M3427.6 1462.8H4154.1M3427.6 1883.6H4154.1" stroke="#ebebeb" stroke-width="3.8" fill="none"/>
<path d="M3427.6 410.9H4154.1M3427.6 831.7H4154.1M3427.6 1252.5H4154.1M3427.6 1673.2H4154.1M3427.6 2094H4154.1M3625.7 336.7V2134M3956 336.7V2134" stroke="#ebebeb" stroke-width="7.6" fill="none"/>
<path d="M3624.7 478L3624.7 481L3624.7 484L3624.7 487L3624.7 490L3624.7 493L3624.7 496L3624.7 499L3624.7 502L3624.7 505L3624.7 508L3624.7 511L3624.7 514L3624.7 517L3624.7 520L3624.7 523L3624.7 526L3624.7 529L3624.7 532L3624.7 535L3624.7 538L3624.7 541L3624.7 544L3624.7 547L3624.7 550L3624.7 553L3624.7 556L3624.7 559L3624.7 562L3624.7 565L3624.7 568L3624.7 571L3624.7 574L3624.7 577L3624.7 580L3624.7 583L3624.7 586L3624.7 589L3624.7 592L3624.7 595L3624.7 598L3624.6 601L3624.3 604L3623.7 607L3623.1 610L3622.4 613L3621.7 616L3621.2 619L3620.7 622L3620.4 625L3620.1 628L3619.9 631L3619.6 634L3619.4 637L3619.2 640L3619 643L3618.8 646L3618.6 649L3618.4 652L3618.2 655L3618.1 658L3617.9 661L3617.7 664L3617.5 667L3617.3 670L3617.1 673L3616.9 676L3616.7 679L3616.5 682L3616.3 685L3616 688L3615.8 691L3615.4 694L3615.1 697L3614.6 700L3614.1 703L3613.6 706L3613 709L3612.3 712L3611.6 715L3610.9 718L3610.2 721L3609.4 724L3608.5 727L3607.6 730L3606.7 733L3605.7 736L3604.6 739L3603.6 742L3602.5 745L3601.3 748L3600.1 751L3598.8 754L3597.5 757L3596.1 760L3594.8 763L3593.5 766L3592.2 769L3590.9 772L3589.6 775L3588.3 778L3587 781L3585.6 784L3584.3 787L3583 790L3581.6 793L3580.3 796L3578.9 799L3577.5 802L3576.2 805L3574.8 808L3573.4 811L3571.9 814L3570.5 817L3569 820L3567.5 823L3566 826L3564.5 829L3563 832L3561.5 835L3560 838L3558.5 841L3557 844L3555.5 847L3554 850L3552.5 853L3551 856L3549.5 859L3548 862L3546.4 865L3544.8 868L3543.1 871L3541.5 874L3539.8 877L3538.1 880L3536.5 883L3534.8 886L3533.1 889L3531.5 892L3529.8 895L3528.2 898L3526.5 901L3524.8 904L3523.2 907L3521.6 910L3520 913L3518.4 916L3516.8 919L3515.2 922L3513.6 925L3512.1 928L3510.6 931L3509 934L3507.5 937L3505.9 940L3504.3 943L3502.8 946L3501.3 949L3500 952L3498.6 955L3497.4 958L3496.4 961L3495.3 964L3494.4 967L3493.5 970L3492.6 973L3491.8 976L3491 979L3490.2 982L3489.3 985L3488.5 988L3487.8 991L3487 994L3486.2 997L3485.5 1000L3484.8 1003L3484.1 1006L3483.4 1009L3482.8 1012L3482.1 1015L3481.4 1018L3480.8 1021L3480.2 1024L3479.7 1027L3479.2 1030L3478.8 1033L3478.5 1036L3478.1 1039L3477.8 1042L3477.4 1045L3477.2 1048L3477 1051L3476.9 1054L3477 1057L3477.2 1060L3477.6 1063L3478.2 1066L3478.9 1069L3479.7 1072L3480.5 1075L3481.4 1078L3482.5 1081L3483.9 1084L3485.7 1087L3487.6 1090L3489.5 1093L3491.3 1096L3492.9 1099L3494.4 1102L3495.9 1105L3497.5 1108L3498.9 1111L3500.4 1114L3501.9 1117L3503.4 1120L3504.9 1123L3506.5 1126L3508 1129L3509.6 1132L3511.3 1135L3512.9 1138L3514.6 1141L3516.2 1144L3517.9 1147L3519.6 1150L3521.3 1153L3522.9 1156L3524.7 1159L3526.4 1162L3528.2 1165L3530.1 1168L3532.1 1171L3534.1 1174L3536.2 1177L3538.3 1180L3540.5 1183L3542.8 1186L3545.1 1189L3547.4 1192L3549.8 1195L3552.3 1198L3554.9 1201L3557.5 1204L3560.1 1207L3562.7 1210L3565.3 1213L3567.8 1216L3570.2 1219L3572.6 1222L3575 1225L3577.4 1228L3579.7 1231L3581.9 1234L3583.9 1237L3585.8 1240L3587.6 1243L3589.3 1246L3590.9 1249L3592.4 1252L3593.9 1255L3595.3 1258L3596.6 1261L3597.9 1264L3599.1 1267L3600.3 1270L3601.5 1273L3602.6 1276L3603.7 1279L3604.7 1282L3605.6 1285L3606.4 1288L3607.1 1291L3607.8 1294L3608.5 1297L3609.2 1300L3609.7 1303L3610.3 1306L3610.8 1309L3611.2 1312L3611.7 1315L3612.1 1318L3612.5 1321L3612.8 1324L3613.1 1327L3613.4 1330L3613.7 1333L3613.9 1336L3614.1 1339L3614.3 1342L3614.4 1345L3614.6 1348L3614.7 1351L3614.8 1354L3614.9 1357L3615 1360L3615.1 1363L3615.2 1366L3615.3 1369L3615.4 1372L3615.5 1375L3615.6 1378L3615.7 1381L3615.9 1384L3616 1387L3616.1 1390L3616.3 1393L3616.4 1396L3616.5 1399L3616.7 1402L3616.8 1405L3617 1408L3617.1 1411L3617.3 1414L3617.4 1417L3617.6 1420L3617.8 1423L3617.9 1426L3618.1 1429L3618.2 1432L3618.4 1435L3618.6 1438L3618.7 1441L3618.9 1444L3619.1 1447L3619.2 1450L3619.4 1453L3619.6 1456L3619.8 1459L3620 1462L3620.1 1465L3620.3 1468L3620.5 1471L3620.7 1474L3620.9 1477L3621.1 1480L3621.3 1483L3621.6 1486L3621.8 1489L3622.1 1492L3622.4 1495L3622.6 1498L3622.8 1501L3623 1504L3623.2 1507L3623.4 1510L3623.5 1513L3623.6 1514.4L3627.9 1514.4L3628 1513L3628.1 1510L3628.3 1507L3628.4 1504L3628.6 1501L3628.9 1498L3629.1 1495L3629.4 1492L3629.6 1489L3629.9 1486L3630.1 1483L3630.4 1480L3630.6 1477L3630.8 1474L3631 1471L3631.2 1468L3631.3 1465L3631.5 1462L3631.7 1459L3631.9 1456L3632.1 1453L3632.2 1450L3632.4 1447L3632.6 1444L3632.7 1441L3632.9 1438L3633.1 1435L3633.2 1432L3633.4 1429L3633.6 1426L3633.7 1423L3633.9 1420L3634 1417L3634.2 1414L3634.3 1411L3634.5 1408L3634.6 1405L3634.8 1402L3634.9 1399L3635.1 1396L3635.2 1393L3635.3 1390L3635.5 1387L3635.6 1384L3635.7 1381L3635.9 1378L3636 1375L3636.1 1372L3636.2 1369L3636.3 1366L3636.4 1363L3636.5 1360L3636.6 1357L3636.7 1354L3636.8 1351L3636.9 1348L3637.1 1345L3637.2 1342L3637.4 1339L3637.5 1336L3637.8 1333L3638 1330L3638.3 1327L3638.7 1324L3639 1321L3639.4 1318L3639.8 1315L3640.2 1312L3640.7 1309L3641.2 1306L3641.7 1303L3642.3 1300L3643 1297L3643.6 1294L3644.3 1291L3645.1 1288L3645.9 1285L3646.8 1282L3647.8 1279L3648.9 1276L3650 1273L3651.1 1270L3652.3 1267L3653.6 1264L3654.8 1261L3656.2 1258L3657.6 1255L3659 1252L3660.6 1249L3662.2 1246L3663.9 1243L3665.6 1240L3667.5 1237L3669.6 1234L3671.8 1231L3674.1 1228L3676.5 1225L3678.9 1222L3681.3 1219L3683.7 1216L3686.2 1213L3688.7 1210L3691.3 1207L3694 1204L3696.6 1201L3699.2 1198L3701.7 1195L3704.1 1192L3706.4 1189L3708.7 1186L3710.9 1183L3713.1 1180L3715.3 1177L3717.4 1174L3719.4 1171L3721.3 1168L3723.2 1165L3725 1162L3726.8 1159L3728.5 1156L3730.2 1153L3731.9 1150L3733.6 1147L3735.2 1144L3736.9 1141L3738.6 1138L3740.2 1135L3741.8 1132L3743.4 1129L3745 1126L3746.6 1123L3748.1 1120L3749.6 1117L3751 1114L3752.5 1111L3754 1108L3755.5 1105L3757.1 1102L3758.6 1099L3760.2 1096L3762 1093L3763.9 1090L3765.8 1087L3767.6 1084L3769 1081L3770 1078L3770.9 1075L3771.8 1072L3772.6 1069L3773.3 1066L3773.8 1063L3774.2 1060L3774.5 1057L3774.5 1054L3774.4 1051L3774.3 1048L3774 1045L3773.7 1042L3773.4 1039L3773 1036L3772.6 1033L3772.2 1030L3771.8 1027L3771.3 1024L3770.7 1021L3770.1 1018L3769.4 1015L3768.7 1012L3768 1009L3767.4 1006L3766.7 1003L3766 1000L3765.2 997L3764.5 994L3763.7 991L3762.9 988L3762.1 985L3761.3 982L3760.5 979L3759.7 976L3758.8 973L3758 970L3757.1 967L3756.1 964L3755.1 961L3754 958L3752.8 955L3751.5 952L3750.1 949L3748.7 946L3747.1 943L3745.6 940L3744 937L3742.5 934L3740.9 931L3739.4 928L3737.8 925L3736.3 922L3734.7 919L3733.1 916L3731.5 913L3729.9 910L3728.3 907L3726.6 904L3725 901L3723.3 898L3721.7 895L3720 892L3718.3 889L3716.7 886L3715 883L3713.3 880L3711.7 877L3710 874L3708.3 871L3706.7 868L3705.1 865L3703.5 862L3702 859L3700.4 856L3698.9 853L3697.4 850L3696 847L3694.5 844L3693 841L3691.5 838L3690 835L3688.5 832L3687 829L3685.4 826L3683.9 823L3682.4 820L3681 817L3679.5 814L3678.1 811L3676.7 808L3675.3 805L3673.9 802L3672.6 799L3671.2 796L3669.9 793L3668.5 790L3667.2 787L3665.8 784L3664.5 781L3663.2 778L3661.9 775L3660.5 772L3659.2 769L3658 766L3656.6 763L3655.3 760L3654 757L3652.7 754L3651.4 751L3650.2 748L3649 745L3647.9 742L3646.9 739L3645.8 736L3644.8 733L3643.9 730L3642.9 727L3642.1 724L3641.3 721L3640.5 718L3639.8 715L3639.2 712L3638.5 709L3637.9 706L3637.3 703L3636.8 700L3636.4 697L3636 694L3635.7 691L3635.4 688L3635.2 685L3634.9 682L3634.7 679L3634.5 676L3634.3 673L3634.1 670L3633.9 667L3633.7 664L3633.6 661L3633.4 658L3633.2 655L3633.1 652L3632.9 649L3632.7 646L3632.5 643L3632.3 640L3632.1 637L3631.8 634L3631.6 631L3631.3 628L3631.1 625L3630.8 622L3630.3 619L3629.7 616L3629.1 613L3628.4 610L3627.7 607L3627.2 604L3626.9 601L3626.7 598L3626.7 595L3626.7 592L3626.7 589L3626.7 586L3626.7 583L3626.7 580L3626.7 577L3626.7 574L3626.7 571L3626.7 568L3626.7 565L3626.7 562L3626.7 559L3626.7 556L3626.7 553L3626.7 550L3626.7 547L3626.7 544L3626.7 541L3626.7 538L3626.7 535L3626.7 532L3626.7 529L3626.7 526L3626.7 523L3626.7 520L3626.7 517L3626.7 514L3626.7 511L3626.7 508L3626.7 505L3626.7 502L3626.7 499L3626.7 496L3626.7 493L3626.7 490L3626.7 487L3626.7 484L3626.7 481L3626.7 478Z" fill="#fff" stroke="#333" stroke-width="7.6" stroke-linejoin="miter"/>
<path d="M3511.1 930H3740.4M3479 1031.6H3772.5M3507.8 1128.5H3743.7" stroke="#333" stroke-width="7.6" fill="none"/>
<path d="M3934.4 938.7L3934.1 941.7L3933.8 944.7L3933.5 947.7L3933.2 950.7L3932.8 953.7L3932.5 956.7L3932.1 959.7L3931.7 962.7L3931.3 965.7L3930.9 968.7L3930.4 971.7L3930 974.7L3929.6 977.7L3929.1 980.7L3928.6 983.7L3928.1 986.7L3927.5 989.7L3927 992.7L3926.4 995.7L3925.8 998.7L3925.2 1001.7L3924.6 1004.7L3923.9 1007.7L3923.3 1010.7L3922.6 1013.7L3921.9 1016.7L3921.2 1019.7L3920.4 1022.7L3919.5 1025.7L3918.6 1028.7L3917.6 1031.7L3916.5 1034.7L3915.3 1037.7L3914.1 1040.7L3912.9 1043.7L3911.7 1046.7L3910.5 1049.7L3909.2 1052.7L3907.8 1055.7L3906.4 1058.7L3905 1061.7L3903.6 1064.7L3902.1 1067.7L3900.7 1070.7L3899.4 1073.7L3898 1076.7L3896.6 1079.7L3895.3 1082.7L3893.9 1085.7L3892.6 1088.7L3891.2 1091.7L3889.9 1094.7L3888.6 1097.7L3887.2 1100.7L3885.8 1103.7L3884.5 1106.7L3883.1 1109.7L3881.8 1112.7L3880.5 1115.7L3879.3 1118.7L3878.1 1121.7L3876.9 1124.7L3875.8 1127.7L3874.6 1130.7L3873.5 1133.7L3872.5 1136.7L3871.5 1139.7L3870.6 1142.7L3869.9 1145.7L3869.1 1148.7L3868.5 1151.7L3867.8 1154.7L3867.3 1157.7L3866.7 1160.7L3866.2 1163.7L3865.7 1166.7L3865.2 1169.7L3864.7 1172.7L3864.3 1175.7L3863.9 1178.7L3863.5 1181.7L3863.2 1184.7L3862.8 1187.7L3862.4 1190.7L3862.1 1193.7L3861.8 1196.7L3861.4 1199.7L3861.1 1202.7L3860.8 1205.7L3860.4 1208.7L3860 1211.7L3859.6 1214.7L3859.2 1217.7L3858.7 1220.7L3858.2 1223.7L3857.6 1226.7L3857 1229.7L3856.4 1232.7L3855.7 1235.7L3855 1238.7L3854.3 1241.7L3853.5 1244.7L3852.6 1247.7L3851.6 1250.7L3850.6 1253.7L3849.6 1256.7L3848.7 1259.7L3847.7 1262.7L3846.8 1265.7L3845.9 1268.7L3845 1271.7L3844.1 1274.7L3843.2 1277.7L3842.3 1280.7L3841.5 1283.7L3840.6 1286.7L3839.9 1289.7L3839.1 1292.7L3838.2 1295.7L3837.4 1298.7L3836.6 1301.7L3835.9 1304.7L3835.2 1307.7L3834.7 1310.7L3834.3 1313.7L3834 1316.7L3833.7 1319.7L3833.5 1322.7L3833.3 1325.7L3833.1 1328.7L3833 1331.7L3832.9 1334.7L3832.9 1337.7L3833.1 1340.7L3833.3 1343.7L3833.7 1346.7L3834.2 1349.7L3834.8 1352.7L3835.4 1355.7L3836.1 1358.7L3836.7 1361.7L3837.6 1364.7L3838.6 1367.7L3839.7 1370.7L3840.9 1373.7L3842.2 1376.7L3843.6 1379.7L3845 1382.7L3846.3 1385.7L3847.7 1388.7L3849.2 1391.7L3850.7 1394.7L3852.3 1397.7L3853.9 1400.7L3855.5 1403.7L3857.1 1406.7L3858.6 1409.7L3860.1 1412.7L3861.7 1415.7L3863.2 1418.7L3864.8 1421.7L3866.3 1424.7L3867.7 1427.7L3869.2 1430.7L3870.6 1433.7L3871.8 1436.7L3873 1439.7L3874.2 1442.7L3875.4 1445.7L3876.7 1448.7L3878.3 1451.7L3880.2 1454.7L3882.3 1457.7L3884.6 1460.7L3886.9 1463.7L3889.2 1466.7L3891.3 1469.7L3893.2 1472.7L3894.9 1475.7L3896.4 1478.7L3897.9 1481.7L3899.3 1484.7L3900.6 1487.7L3901.9 1490.7L3903.1 1493.7L3904.3 1496.7L3905.4 1499.7L3906.5 1502.7L3907.6 1505.7L3908.7 1508.7L3909.7 1511.7L3910.7 1514.7L3911.5 1517.7L3912.4 1520.7L3913.1 1523.7L3913.8 1526.7L3914.5 1529.7L3915.1 1532.7L3915.7 1535.7L3916.2 1538.7L3916.8 1541.7L3917.3 1544.7L3917.8 1547.7L3918.3 1550.7L3918.8 1553.7L3919.3 1556.7L3919.8 1559.7L3920.2 1562.7L3920.6 1565.7L3921 1568.7L3921.3 1571.7L3921.6 1574.7L3921.8 1577.7L3922 1580.7L3922.2 1583.7L3922.4 1586.7L3922.7 1589.7L3922.9 1592.7L3923.2 1595.7L3923.6 1598.7L3924 1601.7L3924.4 1604.7L3924.9 1607.7L3925.3 1610.7L3925.8 1613.7L3926.2 1616.7L3926.6 1619.7L3927 1622.7L3927.4 1625.7L3927.8 1628.7L3928.2 1631.7L3928.6 1634.7L3929 1637.7L3929.4 1640.7L3929.7 1643.7L3930.1 1646.7L3930.5 1649.7L3930.9 1652.7L3931.3 1655.7L3931.7 1658.7L3932.1 1661.7L3932.5 1664.7L3932.9 1667.7L3933.3 1670.7L3933.7 1673.7L3934.1 1676.7L3934.5 1679.7L3934.9 1682.7L3935.4 1685.7L3935.8 1688.7L3936.3 1691.7L3936.7 1694.7L3937.2 1697.7L3937.7 1700.7L3938.2 1703.7L3938.7 1706.7L3939.2 1709.7L3939.6 1712.7L3940.1 1715.7L3940.5 1718.7L3941 1721.7L3941.4 1724.7L3941.8 1727.7L3942.2 1730.7L3942.6 1733.7L3943 1736.7L3943.4 1739.7L3943.8 1742.7L3944.2 1745.7L3944.7 1748.7L3945.1 1751.7L3945.4 1754.7L3945.8 1757.7L3946.2 1760.7L3946.5 1763.7L3946.9 1766.7L3947.2 1769.7L3947.5 1772.7L3947.8 1775.7L3948.1 1778.7L3948.4 1781.7L3948.6 1784.7L3948.9 1787.7L3949.1 1790.7L3949.3 1793.7L3949.5 1796.7L3949.7 1799.7L3949.9 1802.7L3950.1 1805.7L3950.3 1808.7L3950.6 1811.7L3950.8 1814.7L3951.1 1817.7L3951.3 1820.7L3951.6 1823.7L3951.8 1826.7L3952.1 1829.7L3952.3 1832.7L3952.5 1835.7L3952.6 1838.7L3952.8 1841.7L3953 1844.7L3953.1 1847.7L3953.1 1848L3958.9 1848L3958.9 1847.7L3959 1844.7L3959.2 1841.7L3959.4 1838.7L3959.5 1835.7L3959.7 1832.7L3960 1829.7L3960.2 1826.7L3960.4 1823.7L3960.7 1820.7L3961 1817.7L3961.2 1814.7L3961.4 1811.7L3961.7 1808.7L3961.9 1805.7L3962.1 1802.7L3962.3 1799.7L3962.5 1796.7L3962.7 1793.7L3962.9 1790.7L3963.1 1787.7L3963.4 1784.7L3963.6 1781.7L3963.9 1778.7L3964.2 1775.7L3964.5 1772.7L3964.8 1769.7L3965.2 1766.7L3965.5 1763.7L3965.8 1760.7L3966.2 1757.7L3966.6 1754.7L3967 1751.7L3967.4 1748.7L3967.8 1745.7L3968.2 1742.7L3968.6 1739.7L3969 1736.7L3969.4 1733.7L3969.8 1730.7L3970.2 1727.7L3970.6 1724.7L3971 1721.7L3971.5 1718.7L3971.9 1715.7L3972.4 1712.7L3972.8 1709.7L3973.3 1706.7L3973.8 1703.7L3974.3 1700.7L3974.8 1697.7L3975.3 1694.7L3975.8 1691.7L3976.2 1688.7L3976.6 1685.7L3977.1 1682.7L3977.5 1679.7L3977.9 1676.7L3978.3 1673.7L3978.7 1670.7L3979.1 1667.7L3979.5 1664.7L3979.9 1661.7L3980.3 1658.7L3980.7 1655.7L3981.1 1652.7L3981.5 1649.7L3981.9 1646.7L3982.3 1643.7L3982.7 1640.7L3983 1637.7L3983.4 1634.7L3983.8 1631.7L3984.2 1628.7L3984.6 1625.7L3985 1622.7L3985.4 1619.7L3985.8 1616.7L3986.2 1613.7L3986.7 1610.7L3987.1 1607.7L3987.6 1604.7L3988 1601.7L3988.4 1598.7L3988.8 1595.7L3989.1 1592.7L3989.3 1589.7L3989.6 1586.7L3989.8 1583.7L3990 1580.7L3990.2 1577.7L3990.4 1574.7L3990.7 1571.7L3991 1568.7L3991.4 1565.7L3991.8 1562.7L3992.2 1559.7L3992.7 1556.7L3993.2 1553.7L3993.7 1550.7L3994.2 1547.7L3994.7 1544.7L3995.2 1541.7L3995.8 1538.7L3996.3 1535.7L3996.9 1532.7L3997.5 1529.7L3998.2 1526.7L3998.9 1523.7L3999.6 1520.7L4000.5 1517.7L4001.4 1514.7L4002.3 1511.7L4003.3 1508.7L4004.4 1505.7L4005.5 1502.7L4006.6 1499.7L4007.7 1496.7L4008.9 1493.7L4010.1 1490.7L4011.4 1487.7L4012.7 1484.7L4014.1 1481.7L4015.6 1478.7L4017.1 1475.7L4018.8 1472.7L4020.7 1469.7L4022.8 1466.7L4025.1 1463.7L4027.4 1460.7L4029.7 1457.7L4031.8 1454.7L4033.7 1451.7L4035.3 1448.7L4036.6 1445.7L4037.9 1442.7L4039 1439.7L4040.2 1436.7L4041.5 1433.7L4042.8 1430.7L4044.3 1427.7L4045.7 1424.7L4047.3 1421.7L4048.8 1418.7L4050.3 1415.7L4051.9 1412.7L4053.4 1409.7L4054.9 1406.7L4056.5 1403.7L4058.1 1400.7L4059.7 1397.7L4061.3 1394.7L4062.8 1391.7L4064.3 1388.7L4065.7 1385.7L4067 1382.7L4068.4 1379.7L4069.8 1376.7L4071.1 1373.7L4072.3 1370.7L4073.5 1367.7L4074.4 1364.7L4075.3 1361.7L4075.9 1358.7L4076.6 1355.7L4077.2 1352.7L4077.8 1349.7L4078.3 1346.7L4078.7 1343.7L4078.9 1340.7L4079.1 1337.7L4079.1 1334.7L4079 1331.7L4078.9 1328.7L4078.7 1325.7L4078.5 1322.7L4078.3 1319.7L4078 1316.7L4077.7 1313.7L4077.3 1310.7L4076.8 1307.7L4076.1 1304.7L4075.4 1301.7L4074.6 1298.7L4073.8 1295.7L4072.9 1292.7L4072.1 1289.7L4071.4 1286.7L4070.5 1283.7L4069.7 1280.7L4068.8 1277.7L4067.9 1274.7L4067 1271.7L4066.1 1268.7L4065.2 1265.7L4064.3 1262.7L4063.4 1259.7L4062.4 1256.7L4061.4 1253.7L4060.4 1250.7L4059.4 1247.7L4058.5 1244.7L4057.7 1241.7L4057 1238.7L4056.3 1235.7L4055.6 1232.7L4055 1229.7L4054.4 1226.7L4053.8 1223.7L4053.3 1220.7L4052.8 1217.7L4052.4 1214.7L4052 1211.7L4051.6 1208.7L4051.2 1205.7L4050.9 1202.7L4050.6 1199.7L4050.2 1196.7L4049.9 1193.7L4049.6 1190.7L4049.2 1187.7L4048.8 1184.7L4048.5 1181.7L4048.1 1178.7L4047.7 1175.7L4047.3 1172.7L4046.8 1169.7L4046.3 1166.7L4045.8 1163.7L4045.3 1160.7L4044.8 1157.7L4044.2 1154.7L4043.5 1151.7L4042.9 1148.7L4042.1 1145.7L4041.4 1142.7L4040.5 1139.7L4039.5 1136.7L4038.5 1133.7L4037.4 1130.7L4036.3 1127.7L4035.1 1124.7L4033.9 1121.7L4032.7 1118.7L4031.5 1115.7L4030.2 1112.7L4028.9 1109.7L4027.5 1106.7L4026.2 1103.7L4024.8 1100.7L4023.4 1097.7L4022.1 1094.7L4020.8 1091.7L4019.4 1088.7L4018.1 1085.7L4016.7 1082.7L4015.4 1079.7L4014 1076.7L4012.6 1073.7L4011.3 1070.7L4009.9 1067.7L4008.4 1064.7L4007 1061.7L4005.6 1058.7L4004.2 1055.7L4002.8 1052.7L4001.6 1049.7L4000.3 1046.7L3999.1 1043.7L3997.9 1040.7L3996.7 1037.7L3995.5 1034.7L3994.5 1031.7L3993.4 1028.7L3992.5 1025.7L3991.6 1022.7L3990.8 1019.7L3990.1 1016.7L3989.4 1013.7L3988.7 1010.7L3988.1 1007.7L3987.4 1004.7L3986.8 1001.7L3986.2 998.7L3985.6 995.7L3985.1 992.7L3984.5 989.7L3983.9 986.7L3983.4 983.7L3982.9 980.7L3982.4 977.7L3982 974.7L3981.6 971.7L3981.1 968.7L3980.7 965.7L3980.3 962.7L3979.9 959.7L3979.5 956.7L3979.2 953.7L3978.8 950.7L3978.5 947.7L3978.2 944.7L3977.9 941.7L3977.6 938.7Z" fill="#fff" stroke="#333" stroke-width="7.6" stroke-linejoin="miter"/>
<path d="M3863 1186.3H4049M3834.1 1315H4077.9M3870.2 1432.9H4041.8" stroke="#333" stroke-width="7.6" fill="none"/>
<g fill="#000" fill-opacity=".2" stroke="#000" stroke-opacity=".2" stroke-width="4.6">
<circle cx="3617.3" cy="480.5" r="16.2"/><circle cx="3651.9" cy="579" r="16.2"/><circle cx="3580.3" cy="672.8" r="16.2"/><circle cx="3603.8" cy="679" r="16.2"/><circle cx="3605.3" cy="677.1" r="16.2"/><circle cx="3583.7" cy="778.6" r="16.2"/><circle cx="3638.9" cy="766.5" r="16.2"/><circle cx="3660.6" cy="766.5" r="16.2"/><circle cx="3670.2" cy="768.9" r="16.2"/><circle cx="3600.5" cy="786.7" r="16.2"/><circle cx="3617.3" cy="788.2" r="16.2"/><circle cx="3622.1" cy="793" r="16.2"/><circle cx="3665.4" cy="793" r="16.2"/><circle cx="3578.8" cy="817" r="16.2"/><circle cx="3595.7" cy="817" r="16.2"/><circle cx="3643.8" cy="819.4" r="16.2"/><circle cx="3663" cy="838.7" r="16.2"/><circle cx="3648.6" cy="838.7" r="16.2"/><circle cx="3602.9" cy="843.5" r="16.2"/><circle cx="3636.5" cy="853.1" r="16.2"/><circle cx="3581.2" cy="860.3" r="16.2"/><circle cx="3605.3" cy="862.7" r="16.2"/><circle cx="3643.8" cy="862.7" r="16.2"/><circle cx="3634.1" cy="886.7" r="16.2"/><circle cx="3672.6" cy="881.9" r="16.2"/><circle cx="3590.9" cy="898.8" r="16.2"/><circle cx="3605.3" cy="906" r="16.2"/><circle cx="3631.7" cy="903.6" r="16.2"/><circle cx="3576.4" cy="1181.7" r="16.2"/><circle cx="3588.5" cy="1218.8" r="16.2"/><circle cx="3605.3" cy="1221.2" r="16.2"/><circle cx="3653.4" cy="1223.6" r="16.2"/><circle cx="3670.2" cy="1213.9" r="16.2"/><circle cx="3593.3" cy="1254.8" r="16.2"/><circle cx="3620.7" cy="1254.8" r="16.2"/><circle cx="3672.6" cy="1250" r="16.2"/><circle cx="3609.1" cy="1289.9" r="16.2"/><circle cx="3586.1" cy="1301.4" r="16.2"/><circle cx="3615.9" cy="1331.7" r="16.2"/><circle cx="3663" cy="1353.4" r="16.2"/><circle cx="3578.8" cy="1389.4" r="16.2"/><circle cx="3591.8" cy="1399" r="16.2"/><circle cx="3654.8" cy="1403.8" r="16.2"/><circle cx="3612.5" cy="1448.6" r="16.2"/><circle cx="3602.9" cy="1514.4" r="16.2"/><circle cx="3638" cy="1053.4" r="16.2"/><circle cx="3663.4" cy="1113.7" r="16.2"/><circle cx="3586.4" cy="1172.1" r="16.2"/><circle cx="3623.7" cy="1085.3" r="16.2"/><circle cx="3578" cy="1074.6" r="16.2"/><circle cx="3660.2" cy="1008.1" r="16.2"/><circle cx="3653.6" cy="1066.1" r="16.2"/><circle cx="3580.3" cy="1061.3" r="16.2"/><circle cx="3650.3" cy="1167.1" r="16.2"/><circle cx="3644.9" cy="1138.7" r="16.2"/><circle cx="3588.4" cy="1112" r="16.2"/><circle cx="3628.3" cy="1175.1" r="16.2"/><circle cx="3644.7" cy="875.1" r="16.2"/><circle cx="3609.3" cy="1121.4" r="16.2"/><circle cx="3626.1" cy="1033.9" r="16.2"/><circle cx="3673.3" cy="1116.2" r="16.2"/><circle cx="3639.3" cy="975.9" r="16.2"/><circle cx="3625.9" cy="1035.1" r="16.2"/><circle cx="3582.3" cy="1137.9" r="16.2"/><circle cx="3587.9" cy="835.4" r="16.2"/><circle cx="3660.8" cy="974.3" r="16.2"/><circle cx="3650" cy="1041.6" r="16.2"/><circle cx="3659.2" cy="1146.8" r="16.2"/><circle cx="3633.5" cy="967.8" r="16.2"/><circle cx="3633.3" cy="1137.4" r="16.2"/><circle cx="3628.8" cy="960.1" r="16.2"/><circle cx="3649.2" cy="978.1" r="16.2"/><circle cx="3608.8" cy="1061" r="16.2"/><circle cx="3625.4" cy="1088.7" r="16.2"/><circle cx="3622.7" cy="1157.2" r="16.2"/><circle cx="3641.9" cy="1156.9" r="16.2"/><circle cx="3597.4" cy="961.8" r="16.2"/><circle cx="3578.2" cy="1114.4" r="16.2"/><circle cx="3584.6" cy="1083.5" r="16.2"/><circle cx="3593.7" cy="1007.3" r="16.2"/><circle cx="3661.5" cy="1123.2" r="16.2"/><circle cx="3647.4" cy="1164" r="16.2"/><circle cx="3650.7" cy="1038.8" r="16.2"/><circle cx="3620.2" cy="1171.8" r="16.2"/><circle cx="3586" cy="920.1" r="16.2"/><circle cx="3622.3" cy="935.3" r="16.2"/><circle cx="3662" cy="1119.8" r="16.2"/><circle cx="3626.7" cy="978.9" r="16.2"/><circle cx="3638.9" cy="1069.9" r="16.2"/><circle cx="3613.2" cy="1044.2" r="16.2"/><circle cx="3590.7" cy="927.6" r="16.2"/><circle cx="3638.4" cy="1116.9" r="16.2"/><circle cx="3624.2" cy="1113.2" r="16.2"/><circle cx="3610.3" cy="927.3" r="16.2"/><circle cx="3601.6" cy="964.7" r="16.2"/><circle cx="3645.3" cy="1130.4" r="16.2"/><circle cx="3607.5" cy="1170.1" r="16.2"/><circle cx="3633.3" cy="1153.4" r="16.2"/><circle cx="3601.7" cy="1045.7" r="16.2"/><circle cx="3651.1" cy="1000.1" r="16.2"/><circle cx="3613.2" cy="1028" r="16.2"/><circle cx="3623.6" cy="938.9" r="16.2"/><circle cx="3668.5" cy="1043.9" r="16.2"/><circle cx="3647.6" cy="956" r="16.2"/><circle cx="3649.4" cy="933.7" r="16.2"/><circle cx="3609.7" cy="1005.2" r="16.2"/><circle cx="3659.8" cy="872.4" r="16.2"/><circle cx="3614.3" cy="1036" r="16.2"/><circle cx="3674.6" cy="1100.4" r="16.2"/><circle cx="3665.3" cy="1088" r="16.2"/><circle cx="3641.6" cy="1200.9" r="16.2"/><circle cx="3658.9" cy="1159.4" r="16.2"/><circle cx="3630.1" cy="1083.2" r="16.2"/><circle cx="3649" cy="1164.1" r="16.2"/><circle cx="3588.2" cy="1027.8" r="16.2"/><circle cx="3674.6" cy="1129.9" r="16.2"/><circle cx="3655.8" cy="972.3" r="16.2"/><circle cx="3590" cy="1053.1" r="16.2"/><circle cx="3600" cy="1204" r="16.2"/><circle cx="3633.2" cy="1073.6" r="16.2"/><circle cx="3652" cy="1047.2" r="16.2"/><circle cx="3590.6" cy="1126.5" r="16.2"/><circle cx="3671.8" cy="981.1" r="16.2"/><circle cx="3610.3" cy="1140" r="16.2"/><circle cx="3675.2" cy="810.8" r="16.2"/><circle cx="3651" cy="958.2" r="16.2"/><circle cx="3624.3" cy="939.2" r="16.2"/><circle cx="3612" cy="963.9" r="16.2"/><circle cx="3585.4" cy="1185" r="16.2"/><circle cx="3584.5" cy="819.1" r="16.2"/><circle cx="3638.7" cy="976.7" r="16.2"/><circle cx="3653.1" cy="1066.8" r="16.2"/><circle cx="3666.5" cy="1102.4" r="16.2"/><circle cx="3612.2" cy="1122.6" r="16.2"/><circle cx="3669.5" cy="1006.2" r="16.2"/><circle cx="3605.4" cy="952.9" r="16.2"/><circle cx="3669.7" cy="1147.1" r="16.2"/><circle cx="3667.6" cy="917.6" r="16.2"/><circle cx="3591.2" cy="873.7" r="16.2"/><circle cx="3661.8" cy="956.2" r="16.2"/><circle cx="3646.1" cy="1042.9" r="16.2"/><circle cx="3646" cy="1183.4" r="16.2"/><circle cx="3659.8" cy="1109.6" r="16.2"/><circle cx="3629.4" cy="1063.9" r="16.2"/><circle cx="3626.4" cy="1051.5" r="16.2"/><circle cx="3612.4" cy="1099.6" r="16.2"/><circle cx="3662.3" cy="1081.2" r="16.2"/><circle cx="3665.8" cy="989" r="16.2"/><circle cx="3591.8" cy="902.5" r="16.2"/><circle cx="3653" cy="947" r="16.2"/><circle cx="3603.3" cy="1125.2" r="16.2"/><circle cx="3594.1" cy="1083.4" r="16.2"/><circle cx="3595.5" cy="1129.4" r="16.2"/><circle cx="3633.1" cy="848" r="16.2"/><circle cx="3603.7" cy="1165.4" r="16.2"/><circle cx="3600" cy="1005.8" r="16.2"/><circle cx="3585.6" cy="1176.1" r="16.2"/><circle cx="3608.2" cy="1072.5" r="16.2"/><circle cx="3653.1" cy="1059.1" r="16.2"/><circle cx="3577.9" cy="1135.8" r="16.2"/><circle cx="3624" cy="1080.9" r="16.2"/><circle cx="3636" cy="1094.4" r="16.2"/><circle cx="3580.7" cy="932.1" r="16.2"/><circle cx="3605.1" cy="1075.2" r="16.2"/><circle cx="3666.4" cy="996.1" r="16.2"/><circle cx="3675.2" cy="886" r="16.2"/><circle cx="3660.8" cy="922.4" r="16.2"/><circle cx="3592.7" cy="1038.9" r="16.2"/><circle cx="3652.2" cy="965.5" r="16.2"/><circle cx="3620.8" cy="1120.1" r="16.2"/><circle cx="3592.8" cy="917.8" r="16.2"/><circle cx="3623.8" cy="803.3" r="16.2"/><circle cx="3668" cy="1222.6" r="16.2"/><circle cx="3663.5" cy="981.3" r="16.2"/><circle cx="3614.9" cy="1048.1" r="16.2"/><circle cx="3582.1" cy="949.8" r="16.2"/><circle cx="3665.8" cy="949.4" r="16.2"/><circle cx="3674.4" cy="1013.4" r="16.2"/><circle cx="3626.9" cy="1127.2" r="16.2"/><circle cx="3598.3" cy="840.7" r="16.2"/><circle cx="3630.1" cy="1142" r="16.2"/><circle cx="3645.4" cy="1213.1" r="16.2"/><circle cx="3624" cy="1062.5" r="16.2"/><circle cx="3611" cy="997.4" r="16.2"/><circle cx="3600.5" cy="956.9" r="16.2"/><circle cx="3605.4" cy="941.1" r="16.2"/><circle cx="3580.7" cy="984.6" r="16.2"/><circle cx="3601.2" cy="1146.9" r="16.2"/><circle cx="3671" cy="784.6" r="16.2"/><circle cx="3576.5" cy="1126.1" r="16.2"/><circle cx="3648.5" cy="1092.4" r="16.2"/><circle cx="3654.6" cy="811.6" r="16.2"/><circle cx="3616.2" cy="879" r="16.2"/><circle cx="3635.3" cy="1111.4" r="16.2"/><circle cx="3597.8" cy="1094" r="16.2"/><circle cx="3642.5" cy="981.4" r="16.2"/><circle cx="3646.5" cy="1150.2" r="16.2"/><circle cx="3649.2" cy="949.8" r="16.2"/><circle cx="3624.9" cy="1022" r="16.2"/><circle cx="3672.8" cy="914.4" r="16.2"/><circle cx="3662.4" cy="1086.4" r="16.2"/><circle cx="3633" cy="898.2" r="16.2"/><circle cx="3644" cy="939.9" r="16.2"/><circle cx="3603.2" cy="1120.4" r="16.2"/><circle cx="3670.1" cy="1045.2" r="16.2"/><circle cx="3640.3" cy="1090.9" r="16.2"/><circle cx="3665.2" cy="1111.1" r="16.2"/><circle cx="3604.6" cy="1075.8" r="16.2"/><circle cx="3674" cy="946" r="16.2"/><circle cx="3586.3" cy="1101.1" r="16.2"/><circle cx="3628.8" cy="914.8" r="16.2"/><circle cx="3586.8" cy="967.7" r="16.2"/><circle cx="3594.7" cy="1029" r="16.2"/><circle cx="3652.2" cy="914.1" r="16.2"/><circle cx="3582.3" cy="910" r="16.2"/><circle cx="3614" cy="1088.2" r="16.2"/><circle cx="3594.9" cy="1113.4" r="16.2"/><circle cx="3660.8" cy="1001.4" r="16.2"/><circle cx="3584" cy="1008.8" r="16.2"/><circle cx="3609.4" cy="949.1" r="16.2"/><circle cx="3661.4" cy="1051.6" r="16.2"/><circle cx="3644.4" cy="1068.5" r="16.2"/><circle cx="3646.1" cy="1179.5" r="16.2"/><circle cx="3674.9" cy="842.8" r="16.2"/><circle cx="3578.1" cy="1168.6" r="16.2"/><circle cx="3642.2" cy="1213.6" r="16.2"/><circle cx="3650.2" cy="992.5" r="16.2"/><circle cx="3650.6" cy="1108.8" r="16.2"/><circle cx="3647.1" cy="1138" r="16.2"/><circle cx="3583" cy="1087.9" r="16.2"/><circle cx="3584.1" cy="973.6" r="16.2"/><circle cx="3923.3" cy="940.1" r="16.2"/><circle cx="3925.7" cy="944.9" r="16.2"/><circle cx="3971.3" cy="942.5" r="16.2"/><circle cx="4004" cy="937.7" r="16.2"/><circle cx="3919.9" cy="981" r="16.2"/><circle cx="3913.7" cy="1004" r="16.2"/><circle cx="3976.2" cy="1027.6" r="16.2"/><circle cx="4002.6" cy="1047.3" r="16.2"/><circle cx="3933.8" cy="1052.1" r="16.2"/><circle cx="3947.3" cy="1084.3" r="16.2"/><circle cx="3977.1" cy="1077.1" r="16.2"/><circle cx="3959.3" cy="1093.9" r="16.2"/><circle cx="3930.5" cy="1122.8" r="16.2"/><circle cx="3940.1" cy="1130" r="16.2"/><circle cx="3947.3" cy="1139.6" r="16.2"/><circle cx="3961.7" cy="1122.8" r="16.2"/><circle cx="3981" cy="1120.4" r="16.2"/><circle cx="3990.6" cy="1115.6" r="16.2"/><circle cx="3985.8" cy="1134.8" r="16.2"/><circle cx="4000.2" cy="1142" r="16.2"/><circle cx="3906.4" cy="1146.8" r="16.2"/><circle cx="3911.2" cy="1154" r="16.2"/><circle cx="3947.3" cy="1154" r="16.2"/><circle cx="3966.5" cy="1158.8" r="16.2"/><circle cx="3976.2" cy="1154" r="16.2"/><circle cx="3997.8" cy="1156.4" r="16.2"/><circle cx="3956.9" cy="1168.5" r="16.2"/><circle cx="3911.2" cy="1182.9" r="16.2"/><circle cx="3940.1" cy="1175.7" r="16.2"/><circle cx="3966.5" cy="1182.9" r="16.2"/><circle cx="3952.1" cy="1206.9" r="16.2"/><circle cx="3966.5" cy="1197.3" r="16.2"/><circle cx="3908.8" cy="1214.1" r="16.2"/><circle cx="3920.9" cy="1218.9" r="16.2"/><circle cx="3923.3" cy="1226.2" r="16.2"/><circle cx="3988.2" cy="1235.8" r="16.2"/><circle cx="4005" cy="1236.7" r="16.2"/><circle cx="3913.7" cy="1255" r="16.2"/><circle cx="3942.5" cy="1255" r="16.2"/><circle cx="3949.7" cy="1269.4" r="16.2"/><circle cx="3985.8" cy="1259.8" r="16.2"/><circle cx="3920.9" cy="1281.4" r="16.2"/><circle cx="3947.3" cy="1279" r="16.2"/><circle cx="3959.3" cy="1283.8" r="16.2"/><circle cx="3973.8" cy="1283.8" r="16.2"/><circle cx="3993" cy="1276.6" r="16.2"/><circle cx="3937.7" cy="1298.3" r="16.2"/><circle cx="3952.1" cy="1303.1" r="16.2"/><circle cx="3976.2" cy="1298.3" r="16.2"/><circle cx="3911.2" cy="1310.3" r="16.2"/><circle cx="3923.3" cy="1315.1" r="16.2"/><circle cx="3920.9" cy="1322.3" r="16.2"/><circle cx="3940.1" cy="1312.7" r="16.2"/><circle cx="3961.7" cy="1322.3" r="16.2"/><circle cx="3971.3" cy="1327.1" r="16.2"/><circle cx="3985.8" cy="1317.5" r="16.2"/><circle cx="4005" cy="1310.3" r="16.2"/><circle cx="4002.6" cy="1329.5" r="16.2"/><circle cx="3928.1" cy="1360.8" r="16.2"/><circle cx="3913.7" cy="1363.2" r="16.2"/><circle cx="3947.3" cy="1360.8" r="16.2"/><circle cx="3956.9" cy="1365.6" r="16.2"/><circle cx="3985.8" cy="1363.2" r="16.2"/><circle cx="3993" cy="1368" r="16.2"/><circle cx="3990.6" cy="1380" r="16.2"/><circle cx="3956.9" cy="1382.4" r="16.2"/><circle cx="3908.8" cy="1392" r="16.2"/><circle cx="3920.9" cy="1399.2" r="16.2"/><circle cx="3923.3" cy="1406.4" r="16.2"/><circle cx="3947.3" cy="1394.4" r="16.2"/><circle cx="3966.5" cy="1404" r="16.2"/><circle cx="3976.2" cy="1411.2" r="16.2"/><circle cx="3983.4" cy="1413.7" r="16.2"/><circle cx="4007.4" cy="1394.4" r="16.2"/><circle cx="3911.2" cy="1423.3" r="16.2"/><circle cx="3916.1" cy="1432.9" r="16.2"/><circle cx="3932.9" cy="1447.3" r="16.2"/><circle cx="3947.3" cy="1454.5" r="16.2"/><circle cx="3966.5" cy="1437.7" r="16.2"/><circle cx="3985.8" cy="1447.3" r="16.2"/><circle cx="3990.6" cy="1459.3" r="16.2"/><circle cx="3922.3" cy="1481" r="16.2"/><circle cx="3966.5" cy="1485.8" r="16.2"/><circle cx="3947.3" cy="1502.6" r="16.2"/><circle cx="3956.9" cy="1505" r="16.2"/><circle cx="3983.4" cy="1500.2" r="16.2"/><circle cx="4002.6" cy="1505" r="16.2"/><circle cx="3968.9" cy="1524.2" r="16.2"/><circle cx="4000.2" cy="1536.2" r="16.2"/><circle cx="3923.3" cy="1481.2" r="16.2"/><circle cx="3988.2" cy="1457.2" r="16.2"/><circle cx="3947.3" cy="1502.9" r="16.2"/><circle cx="3966.5" cy="1558.2" r="16.2"/><circle cx="3990.6" cy="1576" r="16.2"/><circle cx="3971.3" cy="1582.2" r="16.2"/><circle cx="3968.9" cy="1591.8" r="16.2"/><circle cx="3973.8" cy="1599" r="16.2"/><circle cx="3956.9" cy="1623.1" r="16.2"/><circle cx="3978.6" cy="1615.9" r="16.2"/><circle cx="3985.8" cy="1620.7" r="16.2"/><circle cx="3995.4" cy="1627.9" r="16.2"/><circle cx="3930.5" cy="1671.2" r="16.2"/><circle cx="3988.2" cy="1673.6" r="16.2"/><circle cx="3980" cy="1688" r="16.2"/><circle cx="3944.9" cy="1720.2" r="16.2"/><circle cx="3908.8" cy="1733.7" r="16.2"/><circle cx="3980" cy="1732.2" r="16.2"/><circle cx="3981.9" cy="1846.6" r="16.2"/><circle cx="3910.6" cy="1364.5" r="16.2"/><circle cx="3928.4" cy="1311.4" r="16.2"/><circle cx="3916.4" cy="1196.2" r="16.2"/><circle cx="3980" cy="1110.6" r="16.2"/><circle cx="3928.1" cy="1285.5" r="16.2"/><circle cx="3955.8" cy="1139.3" r="16.2"/><circle cx="3938.9" cy="1356.5" r="16.2"/><circle cx="3929.6" cy="1221.9" r="16.2"/><circle cx="3999.5" cy="1376" r="16.2"/><circle cx="3956.8" cy="1141" r="16.2"/><circle cx="3971.1" cy="1272.5" r="16.2"/><circle cx="3976.4" cy="1142.4" r="16.2"/><circle cx="3988.1" cy="1367" r="16.2"/><circle cx="3932.3" cy="1294.3" r="16.2"/><circle cx="3913.9" cy="1186.9" r="16.2"/><circle cx="3952.7" cy="1427.2" r="16.2"/><circle cx="3923" cy="1334.6" r="16.2"/><circle cx="3908" cy="1220.5" r="16.2"/><circle cx="3998" cy="1391.8" r="16.2"/><circle cx="3968.7" cy="1234.9" r="16.2"/><circle cx="3947.4" cy="1420.5" r="16.2"/><circle cx="3919.6" cy="1207.5" r="16.2"/><circle cx="3982.1" cy="1435.1" r="16.2"/><circle cx="3959.3" cy="1130.1" r="16.2"/><circle cx="3923.4" cy="1351.9" r="16.2"/><circle cx="4004.2" cy="1205.7" r="16.2"/><circle cx="4001.1" cy="1249.4" r="16.2"/><circle cx="3998.7" cy="1319.4" r="16.2"/>
</g>
</g>
<rect x="3427.3" y="194.3" width="728" height="138.5" fill="#d9d9d9"/>
<path d="M3427.3 194.3H4155.3V2134.8H3427.3ZM3431.3 198.1V332.8H4150.3V198.1ZM3431.3 340.6V2129.8H4150.3V340.6Z" fill="#333" fill-rule="evenodd"/>
<text x="3790.9" y="292.5" text-anchor="middle" class="t" font-size="73.3" fill="#1a1a1a">Overvintring19</text>
<path d="M3625.7 2134v22.9" stroke="#333" stroke-width="7.6"/>
<text x="3625.7" y="2229.8" text-anchor="middle" class="t" font-size="73.3" fill="#4d4d4d">Start</text>
<path d="M3956 2134v22.9" stroke="#333" stroke-width="7.6"/>
<text x="3956" y="2229.8" text-anchor="middle" class="t" font-size="73.3" fill="#4d4d4d">Slutt</text>
<path d="M315.4 410.9H338.3" stroke="#333" stroke-width="7.6"/>
<text x="297.1" y="438.5" text-anchor="end" class="t" font-size="73.3" fill="#4d4d4d">1.75</text>
<path d="M315.4 831.7H338.3" stroke="#333" stroke-width="7.6"/>
<text x="297.1" y="859.3" text-anchor="end" class="t" font-size="73.3" fill="#4d4d4d">1.50</text>
<path d="M315.4 1252.5H338.3" stroke="#333" stroke-width="7.6"/>
<text x="297.1" y="1280" text-anchor="end" class="t" font-size="73.3" fill="#4d4d4d">1.25</text>
<path d="M315.4 1673.2H338.3" stroke="#333" stroke-width="7.6"/>
<text x="297.1" y="1700.8" text-anchor="end" class="t" font-size="73.3" fill="#4d4d4d">1.00</text>
<path d="M315.4 2094H338.3" stroke="#333" stroke-width="7.6"/>
<text x="297.1" y="2121.6" text-anchor="end" class="t" font-size="73.3" fill="#4d4d4d">0.75</text>
<text x="2246.2" y="2336" text-anchor="middle" class="t" font-size="91.7" fill="#000">tid</text>
<text transform="translate(113.7 1235.4) rotate(-90)" text-anchor="middle" class="t" font-size="91.7" fill="#000">Kondisjonsfaktor</text>
</svg>
</body></html>
